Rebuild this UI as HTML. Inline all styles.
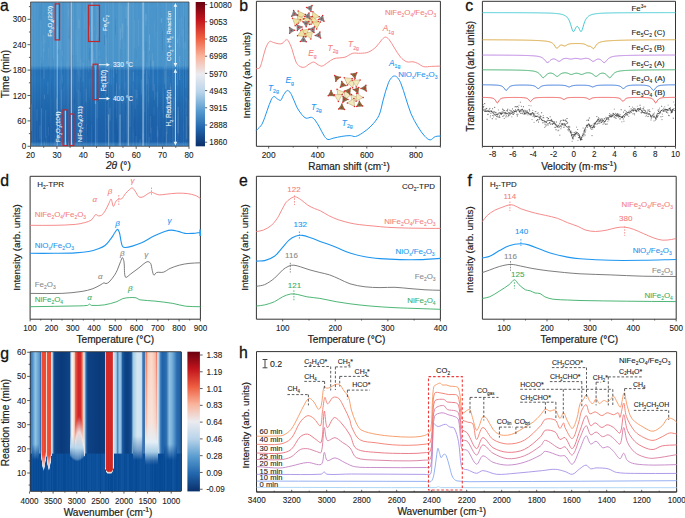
<!DOCTYPE html>
<html><head><meta charset="utf-8"><style>
html,body{margin:0;padding:0;background:#fff;overflow:hidden;}
svg{display:block;}
text{font-family:"Liberation Sans", sans-serif;}
</style></head><body>
<svg width="685" height="518" viewBox="0 0 685 518">
<rect width="685" height="518" fill="#fff"/>
<defs><clipPath id="clipA"><rect x="30.5" y="2.0" width="158.5" height="144.3"/></clipPath><linearGradient id="hmA" x1="0" y1="0" x2="0" y2="1"><stop offset="0" stop-color="#4a95cb"/><stop offset="0.44" stop-color="#4893ca"/><stop offset="0.458" stop-color="#3483c3"/><stop offset="0.475" stop-color="#2470b6"/><stop offset="0.55" stop-color="#2472b8"/><stop offset="0.70" stop-color="#1f68ae"/><stop offset="0.85" stop-color="#1c61a9"/><stop offset="0.968" stop-color="#1c60a9"/><stop offset="0.985" stop-color="#3a80c0"/><stop offset="1" stop-color="#3a80c0"/></linearGradient></defs>
<g clip-path="url(#clipA)">
<rect x="30.50" y="2.00" width="158.50" height="144.30" fill="url(#hmA)" stroke="none" stroke-width="1"/>
<line x1="68.22" y1="2.00" x2="68.22" y2="146.30" stroke="#ffffff" stroke-width="0.6219730999288475" opacity="0.06"/>
<line x1="126.22" y1="2.00" x2="126.22" y2="146.30" stroke="#ffffff" stroke-width="0.43931731554388787" opacity="0.06"/>
<line x1="32.59" y1="2.00" x2="32.59" y2="146.30" stroke="#ffffff" stroke-width="0.5556124085968046" opacity="0.07"/>
<line x1="67.64" y1="2.00" x2="67.64" y2="146.30" stroke="#ffffff" stroke-width="0.6821581045134688" opacity="0.08"/>
<line x1="163.08" y1="2.00" x2="163.08" y2="146.30" stroke="#ffffff" stroke-width="0.7834408843264972" opacity="0.05"/>
<line x1="54.37" y1="2.00" x2="54.37" y2="146.30" stroke="#ffffff" stroke-width="0.9208271842859781" opacity="0.06"/>
<line x1="113.42" y1="2.00" x2="113.42" y2="146.30" stroke="#ffffff" stroke-width="0.8028468852217556" opacity="0.07"/>
<line x1="40.65" y1="2.00" x2="40.65" y2="146.30" stroke="#ffffff" stroke-width="0.7546597497587906" opacity="0.07"/>
<line x1="78.25" y1="2.00" x2="78.25" y2="146.30" stroke="#ffffff" stroke-width="0.9193163421873674" opacity="0.03"/>
<line x1="105.43" y1="2.00" x2="105.43" y2="146.30" stroke="#ffffff" stroke-width="0.927287680153289" opacity="0.07"/>
<line x1="143.69" y1="2.00" x2="143.69" y2="146.30" stroke="#ffffff" stroke-width="0.6369780424004463" opacity="0.08"/>
<line x1="157.44" y1="2.00" x2="157.44" y2="146.30" stroke="#ffffff" stroke-width="0.9613520330227127" opacity="0.05"/>
<line x1="169.80" y1="2.00" x2="169.80" y2="146.30" stroke="#ffffff" stroke-width="0.48158131612040134" opacity="0.03"/>
<line x1="64.89" y1="2.00" x2="64.89" y2="146.30" stroke="#ffffff" stroke-width="0.6616971199764576" opacity="0.08"/>
<line x1="129.82" y1="2.00" x2="129.82" y2="146.30" stroke="#ffffff" stroke-width="0.7043457902974357" opacity="0.05"/>
<line x1="91.66" y1="2.00" x2="91.66" y2="146.30" stroke="#ffffff" stroke-width="0.7510444644432182" opacity="0.05"/>
<line x1="123.10" y1="2.00" x2="123.10" y2="146.30" stroke="#ffffff" stroke-width="0.8091892819809801" opacity="0.08"/>
<line x1="177.74" y1="2.00" x2="177.74" y2="146.30" stroke="#ffffff" stroke-width="0.9945937869212891" opacity="0.07"/>
<line x1="136.90" y1="2.00" x2="136.90" y2="146.30" stroke="#ffffff" stroke-width="0.9163825198697609" opacity="0.04"/>
<line x1="183.39" y1="2.00" x2="183.39" y2="146.30" stroke="#ffffff" stroke-width="0.741464502084594" opacity="0.08"/>
<line x1="143.64" y1="2.00" x2="143.64" y2="146.30" stroke="#ffffff" stroke-width="0.8989647581640126" opacity="0.04"/>
<line x1="121.40" y1="2.00" x2="121.40" y2="146.30" stroke="#ffffff" stroke-width="0.43807634628713765" opacity="0.04"/>
<line x1="165.85" y1="2.00" x2="165.85" y2="146.30" stroke="#ffffff" stroke-width="0.45311085586583705" opacity="0.08"/>
<line x1="157.39" y1="2.00" x2="157.39" y2="146.30" stroke="#ffffff" stroke-width="0.4904592246716858" opacity="0.05"/>
<line x1="77.08" y1="2.00" x2="77.08" y2="146.30" stroke="#ffffff" stroke-width="0.9236602147769208" opacity="0.07"/>
<line x1="37.50" y1="2.00" x2="37.50" y2="146.30" stroke="#ffffff" stroke-width="0.42696414609762173" opacity="0.06"/>
<line x1="144.37" y1="2.00" x2="144.37" y2="146.30" stroke="#ffffff" stroke-width="0.9285431843484149" opacity="0.05"/>
<line x1="185.93" y1="2.00" x2="185.93" y2="146.30" stroke="#ffffff" stroke-width="0.999105367225466" opacity="0.06"/>
<line x1="79.58" y1="2.00" x2="79.58" y2="146.30" stroke="#ffffff" stroke-width="0.7598576852779604" opacity="0.03"/>
<line x1="35.47" y1="2.00" x2="35.47" y2="146.30" stroke="#ffffff" stroke-width="0.6447616813701945" opacity="0.04"/>
<line x1="127.26" y1="2.00" x2="127.26" y2="146.30" stroke="#ffffff" stroke-width="0.42546149483272255" opacity="0.04"/>
<line x1="168.04" y1="2.00" x2="168.04" y2="146.30" stroke="#ffffff" stroke-width="0.9751956558450731" opacity="0.05"/>
<line x1="172.62" y1="2.00" x2="172.62" y2="146.30" stroke="#ffffff" stroke-width="0.6762457797075428" opacity="0.05"/>
<line x1="112.93" y1="2.00" x2="112.93" y2="146.30" stroke="#ffffff" stroke-width="0.7573901430411822" opacity="0.06"/>
<line x1="119.14" y1="2.00" x2="119.14" y2="146.30" stroke="#ffffff" stroke-width="0.964372753254378" opacity="0.06"/>
<line x1="110.86" y1="2.00" x2="110.86" y2="146.30" stroke="#ffffff" stroke-width="0.8321867512864831" opacity="0.05"/>
<line x1="68.17" y1="2.00" x2="68.17" y2="146.30" stroke="#ffffff" stroke-width="0.9866783898691812" opacity="0.05"/>
<line x1="113.10" y1="2.00" x2="113.10" y2="146.30" stroke="#ffffff" stroke-width="0.40687449181853147" opacity="0.06"/>
<line x1="96.31" y1="2.00" x2="96.31" y2="146.30" stroke="#ffffff" stroke-width="0.4120317341827596" opacity="0.06"/>
<line x1="128.10" y1="2.00" x2="128.10" y2="146.30" stroke="#ffffff" stroke-width="0.43604830637663383" opacity="0.06"/>
<line x1="129.93" y1="2.00" x2="129.93" y2="146.30" stroke="#ffffff" stroke-width="0.8075688388228652" opacity="0.05"/>
<line x1="86.38" y1="2.00" x2="86.38" y2="146.30" stroke="#ffffff" stroke-width="0.8428205735512206" opacity="0.07"/>
<line x1="34.02" y1="2.00" x2="34.02" y2="146.30" stroke="#ffffff" stroke-width="0.8056121856924261" opacity="0.03"/>
<line x1="183.18" y1="2.00" x2="183.18" y2="146.30" stroke="#ffffff" stroke-width="0.6737872777818276" opacity="0.04"/>
<line x1="124.44" y1="2.00" x2="124.44" y2="146.30" stroke="#ffffff" stroke-width="0.6183730536039742" opacity="0.05"/>
<line x1="80.06" y1="2.00" x2="80.06" y2="146.30" stroke="#ffffff" stroke-width="0.7573729035145219" opacity="0.05"/>
<line x1="78.11" y1="2.00" x2="78.11" y2="146.30" stroke="#ffffff" stroke-width="0.8633640474664726" opacity="0.05"/>
<line x1="34.77" y1="2.00" x2="34.77" y2="146.30" stroke="#ffffff" stroke-width="0.8411039090071057" opacity="0.06"/>
<line x1="79.64" y1="2.00" x2="79.64" y2="146.30" stroke="#ffffff" stroke-width="0.8822846022369479" opacity="0.04"/>
<line x1="68.33" y1="2.00" x2="68.33" y2="146.30" stroke="#ffffff" stroke-width="0.6611405923196926" opacity="0.04"/>
<line x1="141.14" y1="2.00" x2="141.14" y2="146.30" stroke="#ffffff" stroke-width="0.5931795907727587" opacity="0.04"/>
<line x1="83.40" y1="2.00" x2="83.40" y2="146.30" stroke="#ffffff" stroke-width="0.6630584395368322" opacity="0.07"/>
<line x1="166.10" y1="2.00" x2="166.10" y2="146.30" stroke="#ffffff" stroke-width="0.6020261410269284" opacity="0.04"/>
<line x1="133.56" y1="2.00" x2="133.56" y2="146.30" stroke="#ffffff" stroke-width="0.6706613105711335" opacity="0.07"/>
<line x1="66.17" y1="2.00" x2="66.17" y2="146.30" stroke="#ffffff" stroke-width="0.7177765769850359" opacity="0.04"/>
<line x1="60.74" y1="2.00" x2="60.74" y2="146.30" stroke="#ffffff" stroke-width="0.9030858274169353" opacity="0.07"/>
<line x1="59.60" y1="2.00" x2="59.60" y2="146.30" stroke="#ffffff" stroke-width="0.8843358509001722" opacity="0.04"/>
<line x1="132.25" y1="2.00" x2="132.25" y2="146.30" stroke="#ffffff" stroke-width="0.607169682932559" opacity="0.07"/>
<line x1="51.06" y1="2.00" x2="51.06" y2="146.30" stroke="#ffffff" stroke-width="0.8763171546904989" opacity="0.04"/>
<line x1="73.48" y1="2.00" x2="73.48" y2="146.30" stroke="#ffffff" stroke-width="0.6501434175240938" opacity="0.05"/>
<line x1="97.03" y1="2.00" x2="97.03" y2="146.30" stroke="#ffffff" stroke-width="0.9523674297925784" opacity="0.05"/>
<line x1="55.23" y1="2.00" x2="55.23" y2="146.30" stroke="#ffffff" stroke-width="0.9659607015514653" opacity="0.03"/>
<line x1="169.98" y1="2.00" x2="169.98" y2="146.30" stroke="#ffffff" stroke-width="0.6606113876053907" opacity="0.08"/>
<line x1="181.10" y1="2.00" x2="181.10" y2="146.30" stroke="#ffffff" stroke-width="0.5332544417633928" opacity="0.08"/>
<line x1="148.67" y1="2.00" x2="148.67" y2="146.30" stroke="#ffffff" stroke-width="0.7977923203170945" opacity="0.07"/>
<line x1="112.76" y1="2.00" x2="112.76" y2="146.30" stroke="#ffffff" stroke-width="0.6046412284211998" opacity="0.04"/>
<line x1="66.55" y1="2.00" x2="66.55" y2="146.30" stroke="#ffffff" stroke-width="0.7532066314114517" opacity="0.03"/>
<line x1="75.99" y1="2.00" x2="75.99" y2="146.30" stroke="#ffffff" stroke-width="0.4270460860512159" opacity="0.07"/>
<line x1="173.72" y1="2.00" x2="173.72" y2="146.30" stroke="#ffffff" stroke-width="0.9543128797343452" opacity="0.06"/>
<line x1="172.61" y1="2.00" x2="172.61" y2="146.30" stroke="#ffffff" stroke-width="0.7461720424116709" opacity="0.07"/>
<line x1="32.58" y1="2.00" x2="32.58" y2="146.30" stroke="#ffffff" stroke-width="0.5030929543220423" opacity="0.07"/>
<line x1="78.03" y1="2.00" x2="78.03" y2="146.30" stroke="#ffffff" stroke-width="0.7149784812494949" opacity="0.06"/>
<line x1="96.08" y1="2.00" x2="96.08" y2="146.30" stroke="#ffffff" stroke-width="0.7672983457755476" opacity="0.08"/>
<line x1="84.60" y1="2.00" x2="84.60" y2="146.30" stroke="#ffffff" stroke-width="0.9169988298758002" opacity="0.04"/>
<line x1="106.14" y1="2.00" x2="106.14" y2="146.30" stroke="#ffffff" stroke-width="0.6111049781179569" opacity="0.07"/>
<line x1="61.78" y1="2.00" x2="61.78" y2="146.30" stroke="#ffffff" stroke-width="0.8900865083301537" opacity="0.06"/>
<line x1="57.65" y1="2.00" x2="57.65" y2="146.30" stroke="#ffffff" stroke-width="0.9530599067641792" opacity="0.07"/>
<line x1="158.26" y1="2.00" x2="158.26" y2="146.30" stroke="#ffffff" stroke-width="0.4045028320886255" opacity="0.07"/>
<line x1="130.13" y1="2.00" x2="130.13" y2="146.30" stroke="#ffffff" stroke-width="0.4299591113171977" opacity="0.07"/>
<line x1="73.52" y1="2.00" x2="73.52" y2="146.30" stroke="#ffffff" stroke-width="0.7163597070560099" opacity="0.04"/>
<line x1="97.54" y1="2.00" x2="97.54" y2="146.30" stroke="#ffffff" stroke-width="0.8658985964336665" opacity="0.05"/>
<line x1="30.79" y1="2.00" x2="30.79" y2="146.30" stroke="#ffffff" stroke-width="0.47611797174595977" opacity="0.03"/>
<line x1="50.25" y1="2.00" x2="50.25" y2="146.30" stroke="#ffffff" stroke-width="0.9848155187055964" opacity="0.03"/>
<line x1="165.93" y1="2.00" x2="165.93" y2="146.30" stroke="#ffffff" stroke-width="0.7012720040529588" opacity="0.03"/>
<line x1="80.57" y1="2.00" x2="80.57" y2="146.30" stroke="#ffffff" stroke-width="0.6107737349828948" opacity="0.05"/>
<line x1="133.04" y1="2.00" x2="133.04" y2="146.30" stroke="#ffffff" stroke-width="0.6165007513683906" opacity="0.06"/>
<line x1="60.79" y1="2.00" x2="60.79" y2="146.30" stroke="#ffffff" stroke-width="0.4742530143005107" opacity="0.05"/>
<line x1="118.55" y1="2.00" x2="118.55" y2="146.30" stroke="#ffffff" stroke-width="0.6281428372649522" opacity="0.07"/>
<line x1="43.16" y1="2.00" x2="43.16" y2="146.30" stroke="#ffffff" stroke-width="0.6239647453761898" opacity="0.04"/>
<line x1="126.30" y1="2.00" x2="126.30" y2="146.30" stroke="#ffffff" stroke-width="0.6281588091105659" opacity="0.07"/>
<line x1="157.48" y1="91.89" x2="157.48" y2="107.11" stroke="#ffffff" stroke-width="0.9217283963335243" opacity="0.09"/>
<line x1="97.15" y1="102.16" x2="97.15" y2="118.14" stroke="#ffffff" stroke-width="0.9171014886643085" opacity="0.08"/>
<line x1="41.85" y1="63.31" x2="41.85" y2="78.38" stroke="#0a3a78" stroke-width="0.7245414181149517" opacity="0.15"/>
<line x1="172.81" y1="116.13" x2="172.81" y2="126.95" stroke="#ffffff" stroke-width="0.9879330235638953" opacity="0.10"/>
<line x1="135.47" y1="130.04" x2="135.47" y2="146.30" stroke="#0a3a78" stroke-width="0.8383063727556377" opacity="0.12"/>
<line x1="46.85" y1="86.81" x2="46.85" y2="90.94" stroke="#0a3a78" stroke-width="0.5265877166116524" opacity="0.07"/>
<line x1="45.05" y1="16.33" x2="45.05" y2="43.22" stroke="#ffffff" stroke-width="1.0049213447524634" opacity="0.07"/>
<line x1="49.72" y1="123.78" x2="49.72" y2="145.29" stroke="#0a3a78" stroke-width="0.8474458514126335" opacity="0.14"/>
<line x1="157.10" y1="7.23" x2="157.10" y2="31.19" stroke="#0a3a78" stroke-width="0.5640462184896873" opacity="0.11"/>
<line x1="149.21" y1="136.86" x2="149.21" y2="142.45" stroke="#ffffff" stroke-width="0.996835598695298" opacity="0.09"/>
<line x1="68.88" y1="27.94" x2="68.88" y2="38.44" stroke="#0a3a78" stroke-width="0.7362379696349622" opacity="0.12"/>
<line x1="88.74" y1="59.24" x2="88.74" y2="72.34" stroke="#ffffff" stroke-width="0.8001857663777355" opacity="0.10"/>
<line x1="184.73" y1="61.57" x2="184.73" y2="85.00" stroke="#0a3a78" stroke-width="0.953669613211565" opacity="0.07"/>
<line x1="137.31" y1="76.62" x2="137.31" y2="93.19" stroke="#0a3a78" stroke-width="0.5895964391347023" opacity="0.12"/>
<line x1="45.69" y1="109.96" x2="45.69" y2="137.79" stroke="#ffffff" stroke-width="0.9313463845466312" opacity="0.11"/>
<line x1="60.00" y1="40.58" x2="60.00" y2="49.76" stroke="#ffffff" stroke-width="0.6393831052697792" opacity="0.11"/>
<line x1="140.04" y1="139.58" x2="140.04" y2="146.30" stroke="#ffffff" stroke-width="1.0121836837436584" opacity="0.13"/>
<line x1="123.17" y1="40.55" x2="123.17" y2="50.21" stroke="#ffffff" stroke-width="0.7296500617293605" opacity="0.05"/>
<line x1="57.80" y1="54.02" x2="57.80" y2="66.39" stroke="#ffffff" stroke-width="1.0947307588050594" opacity="0.14"/>
<line x1="106.51" y1="88.44" x2="106.51" y2="104.61" stroke="#0a3a78" stroke-width="0.8342727483560304" opacity="0.14"/>
<line x1="106.79" y1="106.00" x2="106.79" y2="132.27" stroke="#0a3a78" stroke-width="1.076155322995095" opacity="0.09"/>
<line x1="104.58" y1="35.13" x2="104.58" y2="45.24" stroke="#0a3a78" stroke-width="1.0752288172425561" opacity="0.13"/>
<line x1="165.84" y1="36.93" x2="165.84" y2="45.86" stroke="#ffffff" stroke-width="0.9228405893227891" opacity="0.08"/>
<line x1="166.59" y1="131.84" x2="166.59" y2="142.47" stroke="#ffffff" stroke-width="0.7539771739734327" opacity="0.15"/>
<line x1="146.04" y1="14.40" x2="146.04" y2="20.81" stroke="#ffffff" stroke-width="0.7139966508106452" opacity="0.14"/>
<line x1="122.48" y1="99.48" x2="122.48" y2="103.65" stroke="#ffffff" stroke-width="0.7915403175859137" opacity="0.09"/>
<line x1="63.80" y1="86.43" x2="63.80" y2="115.27" stroke="#ffffff" stroke-width="0.5715060199052876" opacity="0.09"/>
<line x1="74.05" y1="98.02" x2="74.05" y2="104.95" stroke="#0a3a78" stroke-width="0.5581433915839576" opacity="0.15"/>
<line x1="179.69" y1="56.00" x2="179.69" y2="80.08" stroke="#ffffff" stroke-width="0.905532316878289" opacity="0.13"/>
<line x1="134.17" y1="118.31" x2="134.17" y2="129.22" stroke="#0a3a78" stroke-width="0.9036950300606221" opacity="0.13"/>
<line x1="115.48" y1="18.35" x2="115.48" y2="35.19" stroke="#0a3a78" stroke-width="0.907126304780963" opacity="0.09"/>
<line x1="120.27" y1="28.26" x2="120.27" y2="49.05" stroke="#ffffff" stroke-width="1.0339515503644163" opacity="0.12"/>
<line x1="134.38" y1="19.77" x2="134.38" y2="48.00" stroke="#ffffff" stroke-width="0.932286421878288" opacity="0.07"/>
<line x1="125.19" y1="82.08" x2="125.19" y2="102.91" stroke="#ffffff" stroke-width="0.6058287368959209" opacity="0.10"/>
<line x1="41.37" y1="105.30" x2="41.37" y2="128.91" stroke="#0a3a78" stroke-width="0.7155334074788748" opacity="0.11"/>
<line x1="72.64" y1="57.32" x2="72.64" y2="84.01" stroke="#ffffff" stroke-width="0.6483177752589256" opacity="0.05"/>
<line x1="152.37" y1="53.10" x2="152.37" y2="65.75" stroke="#ffffff" stroke-width="0.9630262288565706" opacity="0.09"/>
<line x1="86.43" y1="124.21" x2="86.43" y2="131.12" stroke="#ffffff" stroke-width="0.567610865374022" opacity="0.08"/>
<line x1="153.97" y1="106.95" x2="153.97" y2="115.75" stroke="#ffffff" stroke-width="0.9459904703103814" opacity="0.07"/>
<line x1="159.80" y1="110.04" x2="159.80" y2="129.43" stroke="#ffffff" stroke-width="0.6161830688031907" opacity="0.07"/>
<line x1="114.12" y1="84.02" x2="114.12" y2="93.27" stroke="#0a3a78" stroke-width="0.5180524729592971" opacity="0.08"/>
<line x1="157.80" y1="130.60" x2="157.80" y2="146.30" stroke="#ffffff" stroke-width="0.8498340143692718" opacity="0.09"/>
<line x1="130.93" y1="142.98" x2="130.93" y2="146.30" stroke="#0a3a78" stroke-width="0.7904433028258705" opacity="0.08"/>
<line x1="125.82" y1="106.88" x2="125.82" y2="110.94" stroke="#0a3a78" stroke-width="0.7951235257377083" opacity="0.13"/>
<line x1="113.50" y1="68.45" x2="113.50" y2="77.48" stroke="#ffffff" stroke-width="0.8002682250412463" opacity="0.11"/>
<line x1="132.88" y1="66.10" x2="132.88" y2="84.82" stroke="#0a3a78" stroke-width="0.5813526710893523" opacity="0.16"/>
<line x1="156.09" y1="91.94" x2="156.09" y2="97.25" stroke="#ffffff" stroke-width="0.5467017896410743" opacity="0.09"/>
<line x1="115.91" y1="136.17" x2="115.91" y2="146.30" stroke="#0a3a78" stroke-width="0.5806140024088983" opacity="0.15"/>
<line x1="166.54" y1="88.74" x2="166.54" y2="116.84" stroke="#0a3a78" stroke-width="0.7061557203435428" opacity="0.13"/>
<line x1="158.36" y1="136.45" x2="158.36" y2="146.30" stroke="#0a3a78" stroke-width="0.7910010560563658" opacity="0.10"/>
<line x1="47.80" y1="8.16" x2="47.80" y2="14.19" stroke="#ffffff" stroke-width="0.7982840231356596" opacity="0.07"/>
<line x1="141.34" y1="79.55" x2="141.34" y2="94.53" stroke="#ffffff" stroke-width="0.7786431854557168" opacity="0.12"/>
<line x1="150.50" y1="59.93" x2="150.50" y2="68.63" stroke="#0a3a78" stroke-width="0.7201596625840128" opacity="0.15"/>
<line x1="89.30" y1="78.38" x2="89.30" y2="97.89" stroke="#ffffff" stroke-width="0.6253970366359055" opacity="0.07"/>
<line x1="154.63" y1="22.70" x2="154.63" y2="38.66" stroke="#ffffff" stroke-width="0.602458348503092" opacity="0.07"/>
<line x1="94.49" y1="26.28" x2="94.49" y2="31.00" stroke="#ffffff" stroke-width="0.7941650875723412" opacity="0.06"/>
<line x1="39.97" y1="5.24" x2="39.97" y2="20.89" stroke="#0a3a78" stroke-width="0.5306696574654072" opacity="0.09"/>
<line x1="94.42" y1="59.23" x2="94.42" y2="63.92" stroke="#ffffff" stroke-width="0.5565625148523656" opacity="0.16"/>
<line x1="105.72" y1="25.77" x2="105.72" y2="45.96" stroke="#ffffff" stroke-width="0.5311347282266377" opacity="0.09"/>
<line x1="145.84" y1="41.70" x2="145.84" y2="66.18" stroke="#0a3a78" stroke-width="0.680328892865344" opacity="0.10"/>
<line x1="70.12" y1="40.36" x2="70.12" y2="65.54" stroke="#ffffff" stroke-width="0.5562295260580808" opacity="0.12"/>
<line x1="138.66" y1="141.87" x2="138.66" y2="146.30" stroke="#ffffff" stroke-width="0.5543206603187683" opacity="0.05"/>
<line x1="57.50" y1="7.28" x2="57.50" y2="12.68" stroke="#0a3a78" stroke-width="0.6204131107026247" opacity="0.12"/>
<line x1="184.85" y1="70.81" x2="184.85" y2="95.71" stroke="#0a3a78" stroke-width="0.5205270858808434" opacity="0.15"/>
<line x1="78.80" y1="89.58" x2="78.80" y2="118.19" stroke="#ffffff" stroke-width="1.0099433723676048" opacity="0.06"/>
<line x1="48.68" y1="58.26" x2="48.68" y2="70.95" stroke="#0a3a78" stroke-width="0.6047785990124926" opacity="0.12"/>
<line x1="147.76" y1="107.91" x2="147.76" y2="133.64" stroke="#0a3a78" stroke-width="0.7176952710823304" opacity="0.11"/>
<line x1="96.23" y1="35.10" x2="96.23" y2="59.37" stroke="#ffffff" stroke-width="0.6018458880799276" opacity="0.10"/>
<line x1="144.72" y1="89.40" x2="144.72" y2="111.88" stroke="#ffffff" stroke-width="0.5923336558267884" opacity="0.09"/>
<line x1="143.15" y1="5.31" x2="143.15" y2="21.45" stroke="#0a3a78" stroke-width="0.5582524537447934" opacity="0.13"/>
<line x1="68.09" y1="123.74" x2="68.09" y2="144.44" stroke="#0a3a78" stroke-width="0.7699426001300591" opacity="0.15"/>
<line x1="172.66" y1="107.75" x2="172.66" y2="120.43" stroke="#ffffff" stroke-width="0.7395998170385313" opacity="0.09"/>
<line x1="181.98" y1="17.15" x2="181.98" y2="35.94" stroke="#ffffff" stroke-width="0.8894833618867347" opacity="0.06"/>
<line x1="68.65" y1="9.04" x2="68.65" y2="17.01" stroke="#ffffff" stroke-width="0.5069946159963707" opacity="0.12"/>
<line x1="66.94" y1="141.57" x2="66.94" y2="146.30" stroke="#ffffff" stroke-width="0.9686889078044905" opacity="0.11"/>
<line x1="126.29" y1="115.80" x2="126.29" y2="133.72" stroke="#ffffff" stroke-width="0.5474768476545129" opacity="0.07"/>
<line x1="161.34" y1="18.24" x2="161.34" y2="22.86" stroke="#ffffff" stroke-width="1.0359702896551877" opacity="0.16"/>
<line x1="44.09" y1="69.13" x2="44.09" y2="78.92" stroke="#ffffff" stroke-width="0.8850832707535485" opacity="0.14"/>
<line x1="151.18" y1="127.79" x2="151.18" y2="140.78" stroke="#ffffff" stroke-width="0.566566671245693" opacity="0.12"/>
<line x1="162.91" y1="87.77" x2="162.91" y2="112.96" stroke="#ffffff" stroke-width="0.7785044698385026" opacity="0.07"/>
<line x1="145.89" y1="13.15" x2="145.89" y2="26.15" stroke="#ffffff" stroke-width="0.8316214770958414" opacity="0.10"/>
<line x1="147.05" y1="63.02" x2="147.05" y2="83.88" stroke="#ffffff" stroke-width="0.7103276632933326" opacity="0.12"/>
<line x1="188.33" y1="50.37" x2="188.33" y2="65.57" stroke="#ffffff" stroke-width="0.5991698268780239" opacity="0.06"/>
<line x1="178.05" y1="106.81" x2="178.05" y2="133.56" stroke="#ffffff" stroke-width="1.0588073255625123" opacity="0.16"/>
<line x1="115.41" y1="62.42" x2="115.41" y2="91.07" stroke="#0a3a78" stroke-width="0.790514425458211" opacity="0.15"/>
<line x1="153.09" y1="60.73" x2="153.09" y2="90.66" stroke="#ffffff" stroke-width="1.0605172262405707" opacity="0.15"/>
<line x1="59.76" y1="15.83" x2="59.76" y2="38.61" stroke="#ffffff" stroke-width="0.8835507503394663" opacity="0.08"/>
<line x1="36.93" y1="109.53" x2="36.93" y2="120.71" stroke="#ffffff" stroke-width="0.9452534341666303" opacity="0.10"/>
<line x1="148.87" y1="43.46" x2="148.87" y2="50.15" stroke="#ffffff" stroke-width="0.5465345794213158" opacity="0.08"/>
<line x1="54.78" y1="112.06" x2="54.78" y2="134.27" stroke="#0a3a78" stroke-width="1.025686277304238" opacity="0.16"/>
<line x1="89.55" y1="25.28" x2="89.55" y2="37.39" stroke="#ffffff" stroke-width="0.8252443576869968" opacity="0.10"/>
<line x1="87.51" y1="125.04" x2="87.51" y2="136.46" stroke="#0a3a78" stroke-width="0.9842828102299912" opacity="0.10"/>
<line x1="77.64" y1="37.01" x2="77.64" y2="61.98" stroke="#ffffff" stroke-width="0.8185179270019229" opacity="0.05"/>
<line x1="115.43" y1="25.91" x2="115.43" y2="31.22" stroke="#0a3a78" stroke-width="0.7794486300121009" opacity="0.07"/>
<line x1="185.72" y1="115.35" x2="185.72" y2="144.81" stroke="#ffffff" stroke-width="0.5079127860522812" opacity="0.05"/>
<line x1="99.03" y1="50.81" x2="99.03" y2="56.15" stroke="#ffffff" stroke-width="0.686969116010018" opacity="0.11"/>
<line x1="69.69" y1="117.75" x2="69.69" y2="132.62" stroke="#ffffff" stroke-width="0.7577378453492305" opacity="0.08"/>
<line x1="129.96" y1="99.44" x2="129.96" y2="127.16" stroke="#ffffff" stroke-width="0.5813992578252779" opacity="0.14"/>
<line x1="150.69" y1="115.93" x2="150.69" y2="133.16" stroke="#ffffff" stroke-width="0.6677560136465057" opacity="0.14"/>
<line x1="57.24" y1="4.46" x2="57.24" y2="25.18" stroke="#0a3a78" stroke-width="0.7804921620538952" opacity="0.15"/>
<line x1="135.98" y1="136.00" x2="135.98" y2="146.30" stroke="#ffffff" stroke-width="0.8110457284695676" opacity="0.12"/>
<line x1="57.57" y1="28.40" x2="57.57" y2="50.18" stroke="#ffffff" stroke-width="0.7448873718418504" opacity="0.16"/>
<line x1="86.28" y1="67.64" x2="86.28" y2="92.52" stroke="#0a3a78" stroke-width="0.5931829388911511" opacity="0.10"/>
<line x1="80.41" y1="77.32" x2="80.41" y2="92.03" stroke="#0a3a78" stroke-width="1.0587955277510122" opacity="0.14"/>
<line x1="127.58" y1="6.42" x2="127.58" y2="25.35" stroke="#ffffff" stroke-width="0.6679096987196218" opacity="0.11"/>
<line x1="142.94" y1="133.55" x2="142.94" y2="140.21" stroke="#ffffff" stroke-width="0.8088757894352209" opacity="0.12"/>
<line x1="172.47" y1="140.57" x2="172.47" y2="146.30" stroke="#0a3a78" stroke-width="0.6086776852035753" opacity="0.07"/>
<line x1="91.25" y1="121.51" x2="91.25" y2="133.73" stroke="#0a3a78" stroke-width="1.0662822826955063" opacity="0.08"/>
<line x1="80.81" y1="58.64" x2="80.81" y2="69.97" stroke="#ffffff" stroke-width="1.088102632311145" opacity="0.06"/>
<line x1="43.06" y1="35.15" x2="43.06" y2="44.35" stroke="#ffffff" stroke-width="0.9458114249957484" opacity="0.06"/>
<line x1="163.37" y1="93.07" x2="163.37" y2="118.33" stroke="#ffffff" stroke-width="1.0767021657171254" opacity="0.05"/>
<line x1="41.50" y1="40.62" x2="41.50" y2="57.17" stroke="#ffffff" stroke-width="0.5282822631656645" opacity="0.08"/>
<line x1="67.90" y1="140.18" x2="67.90" y2="146.30" stroke="#ffffff" stroke-width="1.0956899291306799" opacity="0.15"/>
<line x1="137.42" y1="95.35" x2="137.42" y2="103.05" stroke="#0a3a78" stroke-width="0.6056912272169794" opacity="0.06"/>
<line x1="60.55" y1="120.71" x2="60.55" y2="146.30" stroke="#0a3a78" stroke-width="0.8208300182861232" opacity="0.06"/>
<line x1="91.11" y1="17.45" x2="91.11" y2="31.59" stroke="#ffffff" stroke-width="0.5787880083103238" opacity="0.16"/>
<line x1="53.52" y1="20.31" x2="53.52" y2="33.48" stroke="#ffffff" stroke-width="0.6151866123412161" opacity="0.15"/>
<line x1="179.38" y1="145.85" x2="179.38" y2="146.30" stroke="#ffffff" stroke-width="1.0705025668218893" opacity="0.08"/>
<line x1="107.38" y1="103.50" x2="107.38" y2="115.65" stroke="#ffffff" stroke-width="0.9489055910143028" opacity="0.05"/>
<line x1="154.44" y1="84.09" x2="154.44" y2="100.15" stroke="#ffffff" stroke-width="0.8206615542899784" opacity="0.11"/>
<line x1="162.53" y1="30.93" x2="162.53" y2="50.38" stroke="#0a3a78" stroke-width="0.60767422005863" opacity="0.15"/>
<line x1="183.21" y1="123.22" x2="183.21" y2="131.58" stroke="#ffffff" stroke-width="0.5318384361427431" opacity="0.08"/>
<line x1="185.57" y1="61.06" x2="185.57" y2="87.75" stroke="#ffffff" stroke-width="1.0218672608845343" opacity="0.06"/>
<line x1="156.35" y1="145.08" x2="156.35" y2="146.30" stroke="#0a3a78" stroke-width="0.5555172493908617" opacity="0.11"/>
<line x1="116.15" y1="65.66" x2="116.15" y2="73.47" stroke="#ffffff" stroke-width="0.8038326959178592" opacity="0.12"/>
<line x1="89.70" y1="47.91" x2="89.70" y2="61.23" stroke="#0a3a78" stroke-width="1.0616906673193611" opacity="0.12"/>
<line x1="167.16" y1="122.52" x2="167.16" y2="133.98" stroke="#ffffff" stroke-width="0.5739075076672563" opacity="0.16"/>
<line x1="109.88" y1="107.66" x2="109.88" y2="120.53" stroke="#ffffff" stroke-width="1.0801593971261125" opacity="0.12"/>
<line x1="102.29" y1="70.96" x2="102.29" y2="88.77" stroke="#0a3a78" stroke-width="0.817087631767113" opacity="0.15"/>
<line x1="100.49" y1="91.15" x2="100.49" y2="96.95" stroke="#0a3a78" stroke-width="0.9664455635452633" opacity="0.10"/>
<line x1="39.91" y1="125.30" x2="39.91" y2="139.29" stroke="#ffffff" stroke-width="0.6287901731819565" opacity="0.16"/>
<line x1="117.47" y1="129.54" x2="117.47" y2="144.75" stroke="#0a3a78" stroke-width="0.7169119328791393" opacity="0.15"/>
<line x1="78.15" y1="74.92" x2="78.15" y2="89.29" stroke="#0a3a78" stroke-width="1.0250772302041344" opacity="0.09"/>
<line x1="123.13" y1="23.10" x2="123.13" y2="32.81" stroke="#ffffff" stroke-width="0.5837109158271231" opacity="0.09"/>
<line x1="43.43" y1="48.27" x2="43.43" y2="59.63" stroke="#ffffff" stroke-width="1.052789305063294" opacity="0.05"/>
<line x1="115.20" y1="108.41" x2="115.20" y2="133.95" stroke="#0a3a78" stroke-width="0.7648387581373428" opacity="0.14"/>
<line x1="138.67" y1="19.42" x2="138.67" y2="46.30" stroke="#ffffff" stroke-width="1.0341792090535251" opacity="0.09"/>
<line x1="75.95" y1="29.40" x2="75.95" y2="54.82" stroke="#ffffff" stroke-width="0.5168298503576757" opacity="0.12"/>
<line x1="86.18" y1="3.08" x2="86.18" y2="28.72" stroke="#ffffff" stroke-width="0.7332646647258722" opacity="0.07"/>
<line x1="111.61" y1="64.39" x2="111.61" y2="84.73" stroke="#ffffff" stroke-width="0.5582230536955963" opacity="0.12"/>
<line x1="185.69" y1="101.74" x2="185.69" y2="107.91" stroke="#0a3a78" stroke-width="1.0950667082717567" opacity="0.10"/>
<line x1="40.96" y1="3.37" x2="40.96" y2="19.85" stroke="#0a3a78" stroke-width="0.9958920538129361" opacity="0.10"/>
<line x1="83.05" y1="62.43" x2="83.05" y2="81.58" stroke="#ffffff" stroke-width="0.7351228399188344" opacity="0.15"/>
<line x1="44.52" y1="94.54" x2="44.52" y2="99.23" stroke="#ffffff" stroke-width="0.8443419657455055" opacity="0.15"/>
<line x1="44.02" y1="35.51" x2="44.02" y2="51.70" stroke="#ffffff" stroke-width="0.6707713991874238" opacity="0.14"/>
<line x1="186.16" y1="97.45" x2="186.16" y2="115.19" stroke="#ffffff" stroke-width="1.0399108316959167" opacity="0.07"/>
<line x1="51.56" y1="78.71" x2="51.56" y2="98.83" stroke="#0a3a78" stroke-width="1.0459740813882474" opacity="0.09"/>
<line x1="166.42" y1="108.49" x2="166.42" y2="117.79" stroke="#ffffff" stroke-width="0.6872540576590596" opacity="0.06"/>
<line x1="61.23" y1="127.74" x2="61.23" y2="137.36" stroke="#0a3a78" stroke-width="0.5718383145102255" opacity="0.14"/>
<line x1="175.30" y1="59.31" x2="175.30" y2="68.82" stroke="#ffffff" stroke-width="0.7992542665313052" opacity="0.07"/>
<line x1="91.42" y1="124.86" x2="91.42" y2="146.30" stroke="#ffffff" stroke-width="0.7335154692386632" opacity="0.06"/>
<line x1="58.65" y1="38.18" x2="58.65" y2="49.02" stroke="#ffffff" stroke-width="0.566692944799196" opacity="0.13"/>
<line x1="65.44" y1="65.81" x2="65.44" y2="84.49" stroke="#0a3a78" stroke-width="0.6292508683091429" opacity="0.08"/>
<line x1="136.82" y1="89.93" x2="136.82" y2="98.50" stroke="#ffffff" stroke-width="0.8237210560941811" opacity="0.13"/>
<line x1="125.25" y1="92.64" x2="125.25" y2="108.14" stroke="#0a3a78" stroke-width="1.0157795151641622" opacity="0.06"/>
<line x1="108.19" y1="85.55" x2="108.19" y2="96.53" stroke="#0a3a78" stroke-width="0.63313103939214" opacity="0.15"/>
<line x1="160.07" y1="144.30" x2="160.07" y2="146.30" stroke="#ffffff" stroke-width="0.60723326406542" opacity="0.16"/>
<line x1="144.13" y1="50.90" x2="144.13" y2="73.94" stroke="#ffffff" stroke-width="0.8168458423610677" opacity="0.11"/>
<line x1="165.36" y1="70.95" x2="165.36" y2="88.97" stroke="#ffffff" stroke-width="0.7956136094414767" opacity="0.14"/>
<line x1="122.88" y1="120.88" x2="122.88" y2="130.16" stroke="#0a3a78" stroke-width="0.8315510776320888" opacity="0.06"/>
<line x1="78.49" y1="130.74" x2="78.49" y2="146.30" stroke="#0a3a78" stroke-width="1.001577976004775" opacity="0.11"/>
<line x1="149.07" y1="44.03" x2="149.07" y2="48.31" stroke="#0a3a78" stroke-width="0.7104001257841313" opacity="0.12"/>
<line x1="106.38" y1="83.84" x2="106.38" y2="94.34" stroke="#ffffff" stroke-width="0.73131688704964" opacity="0.13"/>
<line x1="47.87" y1="81.93" x2="47.87" y2="94.25" stroke="#ffffff" stroke-width="0.7366363769712508" opacity="0.13"/>
<line x1="61.60" y1="60.91" x2="61.60" y2="79.90" stroke="#ffffff" stroke-width="0.7893608065032178" opacity="0.06"/>
<line x1="62.44" y1="74.89" x2="62.44" y2="83.23" stroke="#ffffff" stroke-width="1.0539123731278952" opacity="0.06"/>
<line x1="168.16" y1="76.39" x2="168.16" y2="90.72" stroke="#ffffff" stroke-width="0.6885465229918944" opacity="0.06"/>
<line x1="179.73" y1="18.91" x2="179.73" y2="47.56" stroke="#ffffff" stroke-width="0.6573623524725003" opacity="0.10"/>
<line x1="183.06" y1="28.85" x2="183.06" y2="47.71" stroke="#ffffff" stroke-width="0.6337746929241237" opacity="0.11"/>
<line x1="186.69" y1="116.11" x2="186.69" y2="139.18" stroke="#ffffff" stroke-width="0.9221267974469655" opacity="0.15"/>
<line x1="149.46" y1="34.52" x2="149.46" y2="50.40" stroke="#ffffff" stroke-width="0.9574091872956119" opacity="0.16"/>
<line x1="56.70" y1="98.27" x2="56.70" y2="109.28" stroke="#ffffff" stroke-width="1.022194590156308" opacity="0.11"/>
<line x1="148.56" y1="74.75" x2="148.56" y2="96.62" stroke="#0a3a78" stroke-width="0.6544755174011041" opacity="0.10"/>
<line x1="116.75" y1="86.51" x2="116.75" y2="100.60" stroke="#ffffff" stroke-width="0.8842821329897974" opacity="0.06"/>
<line x1="64.00" y1="111.40" x2="64.00" y2="128.53" stroke="#0a3a78" stroke-width="0.9364224596809325" opacity="0.15"/>
<line x1="89.54" y1="8.28" x2="89.54" y2="26.75" stroke="#0a3a78" stroke-width="0.6216042091756335" opacity="0.13"/>
<line x1="55.62" y1="143.48" x2="55.62" y2="146.30" stroke="#0a3a78" stroke-width="0.5896587421748013" opacity="0.10"/>
<line x1="116.73" y1="98.48" x2="116.73" y2="118.18" stroke="#ffffff" stroke-width="0.8748978618379648" opacity="0.07"/>
<line x1="170.67" y1="21.93" x2="170.67" y2="26.11" stroke="#0a3a78" stroke-width="0.7344681607545653" opacity="0.06"/>
<line x1="102.74" y1="145.44" x2="102.74" y2="146.30" stroke="#0a3a78" stroke-width="0.5011874231843451" opacity="0.08"/>
<line x1="75.12" y1="102.81" x2="75.12" y2="111.25" stroke="#ffffff" stroke-width="0.696688469503443" opacity="0.05"/>
<line x1="184.44" y1="16.66" x2="184.44" y2="41.52" stroke="#0a3a78" stroke-width="0.7670603674749547" opacity="0.09"/>
<line x1="136.29" y1="49.13" x2="136.29" y2="58.97" stroke="#0a3a78" stroke-width="0.7071836600372781" opacity="0.10"/>
<line x1="66.94" y1="62.01" x2="66.94" y2="68.50" stroke="#ffffff" stroke-width="0.827312374114073" opacity="0.08"/>
<line x1="125.20" y1="43.85" x2="125.20" y2="48.49" stroke="#ffffff" stroke-width="0.6178765034114787" opacity="0.05"/>
<line x1="120.68" y1="40.29" x2="120.68" y2="64.10" stroke="#0a3a78" stroke-width="0.9413160184433811" opacity="0.12"/>
<line x1="113.18" y1="63.55" x2="113.18" y2="75.57" stroke="#0a3a78" stroke-width="0.8000620955100703" opacity="0.06"/>
<line x1="46.31" y1="135.71" x2="46.31" y2="146.30" stroke="#ffffff" stroke-width="0.575673173256928" opacity="0.12"/>
<line x1="188.93" y1="26.27" x2="188.93" y2="39.79" stroke="#ffffff" stroke-width="0.7996961283750844" opacity="0.16"/>
<line x1="106.53" y1="37.73" x2="106.53" y2="65.77" stroke="#ffffff" stroke-width="0.7841301319964087" opacity="0.10"/>
<line x1="31.25" y1="104.24" x2="31.25" y2="130.83" stroke="#ffffff" stroke-width="0.9051350442901589" opacity="0.15"/>
<line x1="78.80" y1="70.20" x2="78.80" y2="82.01" stroke="#ffffff" stroke-width="0.8754362682843374" opacity="0.08"/>
<line x1="44.54" y1="141.13" x2="44.54" y2="146.27" stroke="#ffffff" stroke-width="0.550081697815068" opacity="0.16"/>
<line x1="148.55" y1="78.61" x2="148.55" y2="102.60" stroke="#ffffff" stroke-width="0.549608385392503" opacity="0.11"/>
<line x1="137.31" y1="75.95" x2="137.31" y2="104.96" stroke="#ffffff" stroke-width="0.9057520247986198" opacity="0.05"/>
<line x1="177.30" y1="62.85" x2="177.30" y2="85.34" stroke="#ffffff" stroke-width="0.7792497173400452" opacity="0.11"/>
<line x1="125.86" y1="6.17" x2="125.86" y2="18.11" stroke="#ffffff" stroke-width="0.7838894132424863" opacity="0.13"/>
<line x1="71.19" y1="53.60" x2="71.19" y2="74.52" stroke="#0a3a78" stroke-width="0.7860850919181215" opacity="0.13"/>
<line x1="62.64" y1="50.62" x2="62.64" y2="56.14" stroke="#ffffff" stroke-width="0.8666574108693643" opacity="0.08"/>
<line x1="68.77" y1="28.20" x2="68.77" y2="34.75" stroke="#ffffff" stroke-width="0.6531054188222852" opacity="0.07"/>
<line x1="170.57" y1="83.51" x2="170.57" y2="96.35" stroke="#ffffff" stroke-width="0.9397325924778318" opacity="0.10"/>
<line x1="149.55" y1="54.47" x2="149.55" y2="77.34" stroke="#ffffff" stroke-width="0.6369411239580732" opacity="0.08"/>
<line x1="61.67" y1="89.43" x2="61.67" y2="110.12" stroke="#ffffff" stroke-width="0.9597596886802038" opacity="0.13"/>
<line x1="106.31" y1="56.61" x2="106.31" y2="73.69" stroke="#ffffff" stroke-width="0.7370105656606626" opacity="0.10"/>
<line x1="132.90" y1="105.21" x2="132.90" y2="133.00" stroke="#0a3a78" stroke-width="0.9802090181220062" opacity="0.07"/>
<line x1="143.51" y1="143.34" x2="143.51" y2="146.30" stroke="#0a3a78" stroke-width="0.5732217763551707" opacity="0.14"/>
<line x1="124.76" y1="138.65" x2="124.76" y2="146.30" stroke="#0a3a78" stroke-width="0.7610604539152511" opacity="0.14"/>
<line x1="53.51" y1="33.10" x2="53.51" y2="58.68" stroke="#ffffff" stroke-width="0.7657465346781608" opacity="0.10"/>
<line x1="177.62" y1="38.65" x2="177.62" y2="43.12" stroke="#ffffff" stroke-width="0.7312904605905897" opacity="0.15"/>
<line x1="185.18" y1="42.68" x2="185.18" y2="48.91" stroke="#ffffff" stroke-width="0.6329497778654155" opacity="0.15"/>
<line x1="179.12" y1="35.09" x2="179.12" y2="62.52" stroke="#ffffff" stroke-width="0.6294964693475058" opacity="0.09"/>
<line x1="116.46" y1="82.83" x2="116.46" y2="97.18" stroke="#ffffff" stroke-width="1.0025964390041473" opacity="0.11"/>
<line x1="178.52" y1="110.67" x2="178.52" y2="135.98" stroke="#ffffff" stroke-width="0.6222223920706174" opacity="0.06"/>
<line x1="55.04" y1="141.75" x2="55.04" y2="146.30" stroke="#ffffff" stroke-width="0.5699029555362402" opacity="0.15"/>
<line x1="98.19" y1="10.11" x2="98.19" y2="37.63" stroke="#ffffff" stroke-width="1.0674612933066219" opacity="0.08"/>
<line x1="62.28" y1="135.13" x2="62.28" y2="146.30" stroke="#ffffff" stroke-width="1.0390224759572835" opacity="0.12"/>
<line x1="93.68" y1="51.79" x2="93.68" y2="72.80" stroke="#ffffff" stroke-width="0.5745080006475386" opacity="0.12"/>
<line x1="121.71" y1="5.56" x2="121.71" y2="32.22" stroke="#ffffff" stroke-width="0.6967342736461885" opacity="0.09"/>
<line x1="48.54" y1="47.69" x2="48.54" y2="65.82" stroke="#ffffff" stroke-width="0.6744742051662249" opacity="0.09"/>
<line x1="107.61" y1="114.37" x2="107.61" y2="129.75" stroke="#ffffff" stroke-width="0.5722024639672767" opacity="0.13"/>
<line x1="57.48" y1="124.31" x2="57.48" y2="140.78" stroke="#ffffff" stroke-width="1.00773384479049" opacity="0.09"/>
<line x1="89.99" y1="54.18" x2="89.99" y2="67.69" stroke="#ffffff" stroke-width="0.787497068484246" opacity="0.05"/>
<line x1="109.08" y1="67.16" x2="109.08" y2="83.45" stroke="#ffffff" stroke-width="1.088831418148469" opacity="0.13"/>
<line x1="48.67" y1="127.01" x2="48.67" y2="135.56" stroke="#ffffff" stroke-width="0.5469393701674481" opacity="0.14"/>
<line x1="116.20" y1="123.06" x2="116.20" y2="146.30" stroke="#0a3a78" stroke-width="0.5318941652045551" opacity="0.15"/>
<line x1="90.58" y1="17.43" x2="90.58" y2="41.06" stroke="#0a3a78" stroke-width="0.9774351850535347" opacity="0.10"/>
<line x1="188.84" y1="99.67" x2="188.84" y2="126.43" stroke="#ffffff" stroke-width="1.0346559782178602" opacity="0.11"/>
<line x1="44.93" y1="14.38" x2="44.93" y2="39.96" stroke="#0a3a78" stroke-width="0.5171714833355694" opacity="0.08"/>
<line x1="63.91" y1="105.27" x2="63.91" y2="110.25" stroke="#0a3a78" stroke-width="0.6285905912202367" opacity="0.11"/>
<line x1="142.21" y1="109.34" x2="142.21" y2="129.46" stroke="#0a3a78" stroke-width="0.5085638367826142" opacity="0.13"/>
<line x1="60.90" y1="79.40" x2="60.90" y2="108.62" stroke="#ffffff" stroke-width="0.5769964294196317" opacity="0.07"/>
<line x1="164.72" y1="66.23" x2="164.72" y2="83.81" stroke="#ffffff" stroke-width="0.9372834231608311" opacity="0.12"/>
<line x1="157.28" y1="126.04" x2="157.28" y2="137.35" stroke="#ffffff" stroke-width="1.0396279245632802" opacity="0.08"/>
<line x1="99.93" y1="58.25" x2="99.93" y2="75.78" stroke="#ffffff" stroke-width="0.7017839760101259" opacity="0.13"/>
<line x1="151.95" y1="114.08" x2="151.95" y2="125.77" stroke="#0a3a78" stroke-width="0.9378224237408312" opacity="0.06"/>
<line x1="124.68" y1="60.39" x2="124.68" y2="89.32" stroke="#ffffff" stroke-width="0.5602090595329438" opacity="0.10"/>
<line x1="86.14" y1="88.69" x2="86.14" y2="102.17" stroke="#ffffff" stroke-width="0.7749123939712278" opacity="0.15"/>
<line x1="135.16" y1="88.83" x2="135.16" y2="108.89" stroke="#ffffff" stroke-width="0.7947477375436185" opacity="0.10"/>
<line x1="162.27" y1="29.69" x2="162.27" y2="54.11" stroke="#0a3a78" stroke-width="0.5436780563579278" opacity="0.08"/>
<line x1="107.37" y1="65.91" x2="107.37" y2="88.42" stroke="#ffffff" stroke-width="0.5797703621965732" opacity="0.07"/>
<line x1="119.49" y1="85.20" x2="119.49" y2="89.21" stroke="#ffffff" stroke-width="1.0743299420377488" opacity="0.07"/>
<line x1="102.62" y1="83.61" x2="102.62" y2="95.14" stroke="#0a3a78" stroke-width="0.9027226288665267" opacity="0.12"/>
<line x1="30.73" y1="65.42" x2="30.73" y2="82.13" stroke="#0a3a78" stroke-width="0.6913096388412974" opacity="0.05"/>
<line x1="77.00" y1="92.22" x2="77.00" y2="111.43" stroke="#0a3a78" stroke-width="0.8113181820932446" opacity="0.10"/>
<line x1="84.89" y1="11.29" x2="84.89" y2="29.67" stroke="#ffffff" stroke-width="0.708452803590236" opacity="0.09"/>
<line x1="31.59" y1="7.45" x2="31.59" y2="15.56" stroke="#0a3a78" stroke-width="0.8484473011977303" opacity="0.06"/>
<line x1="68.30" y1="104.55" x2="68.30" y2="125.05" stroke="#0a3a78" stroke-width="0.6373080626674772" opacity="0.06"/>
<line x1="188.58" y1="22.47" x2="188.58" y2="33.90" stroke="#0a3a78" stroke-width="0.9911546856868336" opacity="0.08"/>
<line x1="122.33" y1="23.50" x2="122.33" y2="38.64" stroke="#ffffff" stroke-width="1.0525616619124074" opacity="0.13"/>
<line x1="163.85" y1="136.44" x2="163.85" y2="146.30" stroke="#0a3a78" stroke-width="0.6601458687444153" opacity="0.12"/>
<line x1="78.93" y1="19.77" x2="78.93" y2="28.46" stroke="#ffffff" stroke-width="0.946476932066574" opacity="0.14"/>
<line x1="93.31" y1="128.64" x2="93.31" y2="146.30" stroke="#0a3a78" stroke-width="0.5255192515912785" opacity="0.13"/>
<line x1="72.57" y1="55.19" x2="72.57" y2="70.35" stroke="#0a3a78" stroke-width="0.9440267206153576" opacity="0.12"/>
<line x1="177.70" y1="102.43" x2="177.70" y2="115.70" stroke="#0a3a78" stroke-width="0.9889413940156846" opacity="0.11"/>
<line x1="89.13" y1="53.28" x2="89.13" y2="73.26" stroke="#0a3a78" stroke-width="0.5000443201280266" opacity="0.08"/>
<line x1="133.32" y1="72.08" x2="133.32" y2="81.15" stroke="#ffffff" stroke-width="1.0772687692608494" opacity="0.11"/>
<line x1="170.71" y1="86.64" x2="170.71" y2="113.30" stroke="#ffffff" stroke-width="0.9964298758122223" opacity="0.15"/>
<line x1="162.59" y1="144.98" x2="162.59" y2="146.30" stroke="#ffffff" stroke-width="0.8917061706154271" opacity="0.09"/>
<line x1="63.90" y1="111.28" x2="63.90" y2="130.21" stroke="#ffffff" stroke-width="0.6817973412897964" opacity="0.14"/>
<line x1="173.85" y1="97.60" x2="173.85" y2="111.43" stroke="#ffffff" stroke-width="0.8857672289492915" opacity="0.11"/>
<line x1="41.59" y1="108.20" x2="41.59" y2="146.30" stroke="#9cc6e6" stroke-width="0.8" opacity="0.35"/>
<line x1="57.18" y1="1.94" x2="57.18" y2="146.30" stroke="#a9d0ec" stroke-width="0.9" opacity="0.8"/>
<line x1="65.37" y1="110.32" x2="65.37" y2="146.30" stroke="#b8dcf0" stroke-width="1.1" opacity="0.9"/>
<line x1="71.45" y1="114.13" x2="71.45" y2="146.30" stroke="#b8dcf0" stroke-width="1.3" opacity="0.95"/>
<line x1="71.45" y1="1.94" x2="71.45" y2="114.13" stroke="#f2a084" stroke-width="1.3" opacity="1.0"/>
<line x1="92.05" y1="1.94" x2="92.05" y2="65.87" stroke="#9ec8e8" stroke-width="2.2" opacity="0.6"/>
<line x1="95.48" y1="65.87" x2="95.48" y2="103.97" stroke="#8fc0e4" stroke-width="1.2" opacity="0.7"/>
<line x1="95.48" y1="103.97" x2="95.48" y2="146.30" stroke="#7fb5de" stroke-width="0.8" opacity="0.5"/>
<line x1="108.69" y1="1.94" x2="108.69" y2="146.30" stroke="#7fb5de" stroke-width="0.8" opacity="0.3"/>
<line x1="120.05" y1="1.94" x2="120.05" y2="146.30" stroke="#8fbfe2" stroke-width="0.8" opacity="0.35"/>
<line x1="108.69" y1="114.55" x2="108.69" y2="146.30" stroke="#a6cde9" stroke-width="0.9" opacity="0.6"/>
<line x1="120.05" y1="114.55" x2="120.05" y2="146.30" stroke="#a6cde9" stroke-width="0.9" opacity="0.6"/>
<line x1="128.24" y1="1.94" x2="128.24" y2="146.30" stroke="#b0d4ee" stroke-width="1.0" opacity="0.85"/>
<line x1="143.04" y1="1.94" x2="143.04" y2="146.30" stroke="#b8d8f0" stroke-width="1.0" opacity="0.9"/>
<line x1="146.73" y1="70.10" x2="146.73" y2="146.30" stroke="#8fbfe2" stroke-width="0.6" opacity="0.4"/>
<line x1="166.55" y1="1.94" x2="166.55" y2="146.30" stroke="#8fbfe2" stroke-width="0.6" opacity="0.3"/>
</g>
<line x1="30.50" y1="2.00" x2="189.00" y2="2.00" stroke="#444" stroke-width="0.8"/>
<line x1="30.50" y1="146.30" x2="189.00" y2="146.30" stroke="#444" stroke-width="0.8"/>
<line x1="30.50" y1="2.00" x2="30.50" y2="146.30" stroke="#444" stroke-width="0.8"/>
<line x1="189.00" y1="2.00" x2="189.00" y2="146.30" stroke="#444" stroke-width="0.8"/>
<rect x="55.20" y="3.90" width="4.40" height="36.00" fill="none" stroke="#c0272d" stroke-width="1.2"/>
<rect x="88.50" y="5.30" width="11.00" height="36.20" fill="none" stroke="#c0272d" stroke-width="1.2"/>
<rect x="93.10" y="64.20" width="4.70" height="35.50" fill="none" stroke="#c0272d" stroke-width="1.2"/>
<rect x="63.00" y="109.90" width="4.60" height="35.60" fill="none" stroke="#c0272d" stroke-width="1.2"/>
<rect x="69.70" y="114.00" width="4.10" height="31.50" fill="none" stroke="#c0272d" stroke-width="1.2"/>
<text x="0.00" y="0.00" font-size="6.2" fill="#eef5fb" stroke="#eef5fb" stroke-width="0.1" text-anchor="start" font-weight="normal" transform="translate(52.30 36.80) rotate(-90)">Fe<tspan font-size="3.84" dy="1.61">3</tspan><tspan dy="-1.61">&#8203;</tspan>O<tspan font-size="3.84" dy="1.61">4</tspan><tspan dy="-1.61">&#8203;</tspan>(220)</text>
<text x="0.00" y="0.00" font-size="6.2" fill="#eef5fb" stroke="#eef5fb" stroke-width="0.1" text-anchor="start" font-weight="normal" transform="translate(107.30 31.00) rotate(-90)">Fe<tspan font-size="3.84" dy="1.61">5</tspan><tspan dy="-1.61">&#8203;</tspan>C<tspan font-size="3.84" dy="1.61">2</tspan><tspan dy="-1.61">&#8203;</tspan></text>
<text x="0.00" y="0.00" font-size="6.3" fill="#eef5fb" stroke="#eef5fb" stroke-width="0.1" text-anchor="start" font-weight="normal" transform="translate(105.80 91.50) rotate(-90)">Fe(110)</text>
<text x="0.00" y="0.00" font-size="6.2" fill="#eef5fb" stroke="#eef5fb" stroke-width="0.1" text-anchor="start" font-weight="normal" transform="translate(60.30 142.30) rotate(-90)">Fe<tspan font-size="3.84" dy="1.61">2</tspan><tspan dy="-1.61">&#8203;</tspan>O<tspan font-size="3.84" dy="1.61">3</tspan><tspan dy="-1.61">&#8203;</tspan>(104)</text>
<text x="0.00" y="0.00" font-size="6.2" fill="#eef5fb" stroke="#eef5fb" stroke-width="0.1" text-anchor="start" font-weight="normal" transform="translate(81.60 142.30) rotate(-90)">NiFe<tspan font-size="3.84" dy="1.61">2</tspan><tspan dy="-1.61">&#8203;</tspan>O<tspan font-size="3.84" dy="1.61">4</tspan><tspan dy="-1.61">&#8203;</tspan>(311)</text>
<text x="0.00" y="0.00" font-size="6.1" fill="#eef5fb" stroke="#eef5fb" stroke-width="0.1" text-anchor="start" font-weight="normal" transform="translate(171.30 61.00) rotate(-90)">CO<tspan font-size="3.78" dy="1.59">2</tspan><tspan dy="-1.59">&#8203;</tspan> + H<tspan font-size="3.78" dy="1.59">2</tspan><tspan dy="-1.59">&#8203;</tspan> Reaction</text>
<text x="0.00" y="0.00" font-size="6.3" fill="#eef5fb" stroke="#eef5fb" stroke-width="0.1" text-anchor="start" font-weight="normal" transform="translate(171.30 126.50) rotate(-90)">H<tspan font-size="3.91" dy="1.64">2</tspan><tspan dy="-1.64">&#8203;</tspan> Reduction</text>
<line x1="98.90" y1="64.70" x2="107.50" y2="64.70" stroke="#eef5fb" stroke-width="0.9"/>
<path d="M110,64.7 L106.5,62.900000000000006 L106.5,66.5 Z" fill="#eef5fb"/>
<text x="113.00" y="67.10" font-size="6.5" fill="#eef5fb" stroke="#eef5fb" stroke-width="0.1" text-anchor="start" font-weight="normal">330 °C</text>
<line x1="98.90" y1="98.60" x2="107.50" y2="98.60" stroke="#eef5fb" stroke-width="0.9"/>
<path d="M110,98.6 L106.5,96.8 L106.5,100.39999999999999 Z" fill="#eef5fb"/>
<text x="113.00" y="101.00" font-size="6.5" fill="#eef5fb" stroke="#eef5fb" stroke-width="0.1" text-anchor="start" font-weight="normal">400 °C</text>
<line x1="175.40" y1="5.00" x2="175.40" y2="66.50" stroke="#eef5fb" stroke-width="0.8"/>
<line x1="175.40" y1="69.30" x2="175.40" y2="143.00" stroke="#eef5fb" stroke-width="0.8"/>
<path d="M175.4,3.0 L173.6,6.8 L177.20000000000002,6.8 Z" fill="#eef5fb"/>
<path d="M175.4,66.9 L173.6,63.10000000000001 L177.20000000000002,63.10000000000001 Z" fill="#eef5fb"/>
<path d="M175.4,69.0 L173.6,72.8 L177.20000000000002,72.8 Z" fill="#eef5fb"/>
<path d="M175.4,145.6 L173.6,141.79999999999998 L177.20000000000002,141.79999999999998 Z" fill="#eef5fb"/>
<line x1="27.50" y1="146.30" x2="30.50" y2="146.30" stroke="#333" stroke-width="0.8"/>
<text x="0.00" y="0.00" font-size="9.0" fill="#222" stroke="#222" stroke-width="0.1" text-anchor="end" font-weight="normal" transform="translate(26.30 149.30) scale(0.9 1)">0</text>
<line x1="28.90" y1="133.60" x2="30.50" y2="133.60" stroke="#333" stroke-width="0.8"/>
<line x1="27.50" y1="120.90" x2="30.50" y2="120.90" stroke="#333" stroke-width="0.8"/>
<text x="0.00" y="0.00" font-size="9.0" fill="#222" stroke="#222" stroke-width="0.1" text-anchor="end" font-weight="normal" transform="translate(26.30 123.90) scale(0.9 1)">60</text>
<line x1="28.90" y1="108.20" x2="30.50" y2="108.20" stroke="#333" stroke-width="0.8"/>
<line x1="27.50" y1="95.50" x2="30.50" y2="95.50" stroke="#333" stroke-width="0.8"/>
<text x="0.00" y="0.00" font-size="9.0" fill="#222" stroke="#222" stroke-width="0.1" text-anchor="end" font-weight="normal" transform="translate(26.30 98.50) scale(0.9 1)">120</text>
<line x1="28.90" y1="82.80" x2="30.50" y2="82.80" stroke="#333" stroke-width="0.8"/>
<line x1="27.50" y1="70.10" x2="30.50" y2="70.10" stroke="#333" stroke-width="0.8"/>
<text x="0.00" y="0.00" font-size="9.0" fill="#222" stroke="#222" stroke-width="0.1" text-anchor="end" font-weight="normal" transform="translate(26.30 73.10) scale(0.9 1)">180</text>
<line x1="28.90" y1="57.40" x2="30.50" y2="57.40" stroke="#333" stroke-width="0.8"/>
<line x1="27.50" y1="44.70" x2="30.50" y2="44.70" stroke="#333" stroke-width="0.8"/>
<text x="0.00" y="0.00" font-size="9.0" fill="#222" stroke="#222" stroke-width="0.1" text-anchor="end" font-weight="normal" transform="translate(26.30 47.70) scale(0.9 1)">240</text>
<line x1="28.90" y1="32.00" x2="30.50" y2="32.00" stroke="#333" stroke-width="0.8"/>
<line x1="27.50" y1="19.30" x2="30.50" y2="19.30" stroke="#333" stroke-width="0.8"/>
<text x="0.00" y="0.00" font-size="9.0" fill="#222" stroke="#222" stroke-width="0.1" text-anchor="end" font-weight="normal" transform="translate(26.30 22.30) scale(0.9 1)">300</text>
<line x1="28.90" y1="6.60" x2="30.50" y2="6.60" stroke="#333" stroke-width="0.8"/>
<line x1="30.50" y1="146.30" x2="30.50" y2="148.90" stroke="#333" stroke-width="0.8"/>
<text x="0.00" y="0.00" font-size="9.0" fill="#222" stroke="#222" stroke-width="0.1" text-anchor="middle" font-weight="normal" transform="translate(30.50 158.10) scale(0.9 1)">20</text>
<line x1="43.71" y1="146.30" x2="43.71" y2="147.80" stroke="#333" stroke-width="0.8"/>
<line x1="56.92" y1="146.30" x2="56.92" y2="148.90" stroke="#333" stroke-width="0.8"/>
<text x="0.00" y="0.00" font-size="9.0" fill="#222" stroke="#222" stroke-width="0.1" text-anchor="middle" font-weight="normal" transform="translate(56.92 158.10) scale(0.9 1)">30</text>
<line x1="70.12" y1="146.30" x2="70.12" y2="147.80" stroke="#333" stroke-width="0.8"/>
<line x1="83.33" y1="146.30" x2="83.33" y2="148.90" stroke="#333" stroke-width="0.8"/>
<text x="0.00" y="0.00" font-size="9.0" fill="#222" stroke="#222" stroke-width="0.1" text-anchor="middle" font-weight="normal" transform="translate(83.33 158.10) scale(0.9 1)">40</text>
<line x1="96.54" y1="146.30" x2="96.54" y2="147.80" stroke="#333" stroke-width="0.8"/>
<line x1="109.75" y1="146.30" x2="109.75" y2="148.90" stroke="#333" stroke-width="0.8"/>
<text x="0.00" y="0.00" font-size="9.0" fill="#222" stroke="#222" stroke-width="0.1" text-anchor="middle" font-weight="normal" transform="translate(109.75 158.10) scale(0.9 1)">50</text>
<line x1="122.96" y1="146.30" x2="122.96" y2="147.80" stroke="#333" stroke-width="0.8"/>
<line x1="136.17" y1="146.30" x2="136.17" y2="148.90" stroke="#333" stroke-width="0.8"/>
<text x="0.00" y="0.00" font-size="9.0" fill="#222" stroke="#222" stroke-width="0.1" text-anchor="middle" font-weight="normal" transform="translate(136.17 158.10) scale(0.9 1)">60</text>
<line x1="149.38" y1="146.30" x2="149.38" y2="147.80" stroke="#333" stroke-width="0.8"/>
<line x1="162.58" y1="146.30" x2="162.58" y2="148.90" stroke="#333" stroke-width="0.8"/>
<text x="0.00" y="0.00" font-size="9.0" fill="#222" stroke="#222" stroke-width="0.1" text-anchor="middle" font-weight="normal" transform="translate(162.58 158.10) scale(0.9 1)">70</text>
<line x1="175.79" y1="146.30" x2="175.79" y2="147.80" stroke="#333" stroke-width="0.8"/>
<line x1="189.00" y1="146.30" x2="189.00" y2="148.90" stroke="#333" stroke-width="0.8"/>
<text x="0.00" y="0.00" font-size="9.0" fill="#222" stroke="#222" stroke-width="0.1" text-anchor="middle" font-weight="normal" transform="translate(189.00 158.10) scale(0.9 1)">80</text>
<text x="0.00" y="0.00" font-size="10.2" fill="#222" stroke="#222" stroke-width="0.2" text-anchor="middle" font-weight="normal" transform="translate(8.80 74.00) rotate(-90)">Time (min)</text>
<text x="118.4" y="169.0" font-size="10.2" fill="#222" stroke="#222" stroke-width="0.2" text-anchor="middle"><tspan font-style="italic">2θ</tspan> (°)</text>
<defs><linearGradient id="cbA" x1="0" y1="1" x2="0" y2="0"><stop offset="0.000" stop-color="#0a2f6a"/><stop offset="0.125" stop-color="#2166ac"/><stop offset="0.250" stop-color="#5a9dd0"/><stop offset="0.375" stop-color="#b8d4ea"/><stop offset="0.500" stop-color="#ebebf0"/><stop offset="0.625" stop-color="#f9b39a"/><stop offset="0.750" stop-color="#ee5d40"/><stop offset="0.875" stop-color="#c2151d"/><stop offset="1.000" stop-color="#6a000f"/></linearGradient></defs>
<rect x="195.70" y="2.00" width="9.30" height="144.30" fill="url(#cbA)" stroke="none" stroke-width="1"/>
<line x1="205.00" y1="4.60" x2="207.20" y2="4.60" stroke="#333" stroke-width="0.8"/>
<text x="0.00" y="0.00" font-size="9.0" fill="#222" stroke="#222" stroke-width="0.1" text-anchor="start" font-weight="normal" transform="translate(209.30 7.70) scale(0.9 1)">10080</text>
<line x1="205.00" y1="21.80" x2="207.20" y2="21.80" stroke="#333" stroke-width="0.8"/>
<text x="0.00" y="0.00" font-size="9.0" fill="#222" stroke="#222" stroke-width="0.1" text-anchor="start" font-weight="normal" transform="translate(209.30 24.90) scale(0.9 1)">9053</text>
<line x1="205.00" y1="39.00" x2="207.20" y2="39.00" stroke="#333" stroke-width="0.8"/>
<text x="0.00" y="0.00" font-size="9.0" fill="#222" stroke="#222" stroke-width="0.1" text-anchor="start" font-weight="normal" transform="translate(209.30 42.10) scale(0.9 1)">8025</text>
<line x1="205.00" y1="56.20" x2="207.20" y2="56.20" stroke="#333" stroke-width="0.8"/>
<text x="0.00" y="0.00" font-size="9.0" fill="#222" stroke="#222" stroke-width="0.1" text-anchor="start" font-weight="normal" transform="translate(209.30 59.30) scale(0.9 1)">6998</text>
<line x1="205.00" y1="73.40" x2="207.20" y2="73.40" stroke="#333" stroke-width="0.8"/>
<text x="0.00" y="0.00" font-size="9.0" fill="#222" stroke="#222" stroke-width="0.1" text-anchor="start" font-weight="normal" transform="translate(209.30 76.50) scale(0.9 1)">5970</text>
<line x1="205.00" y1="90.60" x2="207.20" y2="90.60" stroke="#333" stroke-width="0.8"/>
<text x="0.00" y="0.00" font-size="9.0" fill="#222" stroke="#222" stroke-width="0.1" text-anchor="start" font-weight="normal" transform="translate(209.30 93.70) scale(0.9 1)">4943</text>
<line x1="205.00" y1="107.80" x2="207.20" y2="107.80" stroke="#333" stroke-width="0.8"/>
<text x="0.00" y="0.00" font-size="9.0" fill="#222" stroke="#222" stroke-width="0.1" text-anchor="start" font-weight="normal" transform="translate(209.30 110.90) scale(0.9 1)">3915</text>
<line x1="205.00" y1="125.00" x2="207.20" y2="125.00" stroke="#333" stroke-width="0.8"/>
<text x="0.00" y="0.00" font-size="9.0" fill="#222" stroke="#222" stroke-width="0.1" text-anchor="start" font-weight="normal" transform="translate(209.30 128.10) scale(0.9 1)">2888</text>
<line x1="205.00" y1="142.20" x2="207.20" y2="142.20" stroke="#333" stroke-width="0.8"/>
<text x="0.00" y="0.00" font-size="9.0" fill="#222" stroke="#222" stroke-width="0.1" text-anchor="start" font-weight="normal" transform="translate(209.30 145.30) scale(0.9 1)">1860</text>
<text x="0.00" y="11.40" font-size="15.8" fill="#111" stroke="#111" text-anchor="start" font-weight="normal" stroke-width="0.3">a</text>
<line x1="256.40" y1="1.30" x2="440.40" y2="1.30" stroke="#333" stroke-width="1.0"/>
<line x1="256.40" y1="146.30" x2="440.40" y2="146.30" stroke="#333" stroke-width="1.0"/>
<line x1="256.40" y1="1.30" x2="256.40" y2="146.30" stroke="#333" stroke-width="1.0"/>
<line x1="440.40" y1="1.30" x2="440.40" y2="146.30" stroke="#333" stroke-width="1.0"/>
<line x1="268.67" y1="146.30" x2="268.67" y2="148.50" stroke="#333" stroke-width="0.8"/>
<text x="268.67" y="157.50" font-size="8.3" fill="#222" stroke="#222" stroke-width="0.1" text-anchor="middle" font-weight="normal">200</text>
<line x1="293.20" y1="146.30" x2="293.20" y2="147.60" stroke="#333" stroke-width="0.8"/>
<line x1="317.73" y1="146.30" x2="317.73" y2="148.50" stroke="#333" stroke-width="0.8"/>
<text x="317.73" y="157.50" font-size="8.3" fill="#222" stroke="#222" stroke-width="0.1" text-anchor="middle" font-weight="normal">400</text>
<line x1="342.27" y1="146.30" x2="342.27" y2="147.60" stroke="#333" stroke-width="0.8"/>
<line x1="366.80" y1="146.30" x2="366.80" y2="148.50" stroke="#333" stroke-width="0.8"/>
<text x="366.80" y="157.50" font-size="8.3" fill="#222" stroke="#222" stroke-width="0.1" text-anchor="middle" font-weight="normal">600</text>
<line x1="391.33" y1="146.30" x2="391.33" y2="147.60" stroke="#333" stroke-width="0.8"/>
<line x1="415.87" y1="146.30" x2="415.87" y2="148.50" stroke="#333" stroke-width="0.8"/>
<text x="415.87" y="157.50" font-size="8.3" fill="#222" stroke="#222" stroke-width="0.1" text-anchor="middle" font-weight="normal">800</text>
<line x1="440.40" y1="146.30" x2="440.40" y2="147.60" stroke="#333" stroke-width="0.8"/>
<text x="349.00" y="169.60" font-size="10.0" fill="#222" stroke="#222" stroke-width="0.2" text-anchor="middle" font-weight="normal">Raman shift (cm<tspan font-size="6.20" dy="-3.80">-1</tspan><tspan dy="3.80">&#8203;</tspan>)</text>
<text x="0.00" y="0.00" font-size="9.9" fill="#222" stroke="#222" stroke-width="0.2" text-anchor="middle" font-weight="normal" transform="translate(249.60 75.20) rotate(-90)">Intensity (arb. units)</text>
<text x="239.30" y="11.20" font-size="15.8" fill="#111" stroke="#111" text-anchor="start" font-weight="normal" stroke-width="0.3">b</text>
<path d="M256.50,68.70 C257.52,68.47 259.10,68.81 259.60,68.00 C261.15,65.51 261.75,61.79 262.70,58.70 C263.79,55.16 264.42,51.31 265.80,47.90 C266.73,45.60 268.03,42.57 269.70,41.40 C270.57,40.79 272.24,42.16 273.50,42.50 C275.04,42.92 276.63,43.50 278.20,43.70 C279.43,43.86 280.95,44.12 282.00,43.60 C283.49,42.87 284.48,40.61 285.90,39.90 C286.53,39.59 287.80,39.88 288.20,40.50 C289.84,43.02 291.01,46.39 292.10,49.40 C293.55,53.42 294.17,57.97 295.90,61.80 C296.71,63.58 298.22,65.40 299.80,66.40 C301.02,67.18 303.01,67.54 304.40,67.20 C306.08,66.79 307.48,64.99 309.10,64.10 C310.55,63.31 312.24,61.97 313.70,62.10 C315.27,62.24 316.70,64.15 318.30,64.90 C319.51,65.47 321.01,66.39 322.20,66.10 C324.08,65.64 325.81,63.74 327.60,62.60 C329.64,61.30 331.61,59.59 333.80,58.70 C335.43,58.04 337.41,58.14 339.20,57.90 C341.11,57.64 343.20,57.81 345.00,57.20 C347.66,56.29 350.01,53.98 352.70,53.30 C355.10,52.69 357.87,53.48 360.40,53.30 C362.99,53.12 365.85,53.14 368.20,52.20 C370.96,51.10 373.68,49.14 375.90,47.10 C378.27,44.92 379.86,41.73 382.10,39.40 C383.03,38.43 384.37,37.10 385.50,37.10 C386.65,37.10 388.14,38.35 389.00,39.40 C391.07,41.92 392.59,45.12 394.40,47.90 C396.41,50.99 398.18,54.49 400.60,57.20 C402.27,59.07 404.53,60.96 406.80,61.80 C408.62,62.48 411.00,61.52 413.00,61.80 C414.56,62.02 416.15,62.64 417.60,63.30 C419.72,64.26 421.61,66.21 423.80,66.70 C426.19,67.23 428.96,66.49 431.50,66.40 C434.30,66.30 437.20,66.20 440.00,66.10" fill="none" stroke="#f47f7f" stroke-width="0.9" stroke-linejoin="round" stroke-linecap="round"/>
<path d="M256.40,130.30 C258.21,128.32 260.64,126.62 261.90,124.30 C264.20,120.06 265.45,114.99 267.20,110.40 C268.62,106.67 269.75,102.62 271.50,99.10 C272.03,98.03 273.18,96.50 274.10,96.50 C275.19,96.50 276.36,98.39 277.60,99.10 C278.54,99.64 280.01,100.80 280.70,100.30 C282.02,99.35 282.51,96.41 283.70,94.70 C284.79,93.14 286.31,90.40 287.60,90.40 C288.89,90.40 290.59,93.04 291.50,94.70 C293.59,98.49 294.69,103.03 296.70,106.90 C298.12,109.63 299.93,112.36 301.90,114.70 C303.07,116.09 304.59,117.76 306.20,118.20 C307.73,118.62 309.83,116.99 311.40,117.30 C312.70,117.55 314.00,118.81 314.90,119.90 C316.61,121.97 317.93,124.54 319.30,126.90 C321.10,129.99 322.51,133.48 324.50,136.40 C325.35,137.64 326.59,139.23 327.90,139.50 C329.46,139.82 331.44,138.59 333.20,138.20 C336.03,137.57 338.94,136.84 341.80,136.40 C344.55,135.98 347.44,135.58 350.20,135.60 C351.93,135.61 353.78,136.85 355.40,136.50 C357.80,135.99 360.27,134.43 362.40,133.00 C365.45,130.96 368.58,128.65 371.10,126.00 C374.03,122.91 377.12,119.42 378.90,115.60 C381.11,110.84 381.71,105.13 383.20,100.00 C384.88,94.24 386.25,88.10 388.50,82.60 C389.42,80.34 391.05,77.87 392.80,76.50 C393.62,75.86 395.48,75.86 396.30,76.50 C398.05,77.87 399.62,80.36 400.60,82.60 C402.76,87.53 404.07,93.06 405.80,98.20 C407.54,103.38 408.97,108.88 411.10,113.90 C412.99,118.36 415.46,122.77 418.00,126.90 C420.05,130.23 422.36,133.68 425.00,136.50 C426.38,137.97 428.48,139.90 430.20,139.90 C431.92,139.90 433.54,137.19 435.40,136.50 C436.90,135.94 438.75,136.23 440.40,136.10" fill="none" stroke="#1e96f0" stroke-width="1.0" stroke-linejoin="round" stroke-linecap="round"/>
<text x="384.90" y="15.40" font-size="7.9" fill="#f47f7f" stroke="#f47f7f" stroke-width="0.1" text-anchor="start" font-weight="normal">NiFe<tspan font-size="4.90" dy="2.05">2</tspan><tspan dy="-2.05">&#8203;</tspan>O<tspan font-size="4.90" dy="2.05">4</tspan><tspan dy="-2.05">&#8203;</tspan>/Fe<tspan font-size="4.90" dy="2.05">2</tspan><tspan dy="-2.05">&#8203;</tspan>O<tspan font-size="4.90" dy="2.05">3</tspan><tspan dy="-2.05">&#8203;</tspan></text>
<text x="382.80" y="31.40" font-size="8.3" fill="#f47f7f" stroke="#f47f7f" stroke-width="0.1" text-anchor="start" font-weight="normal"><tspan font-style="italic">A</tspan><tspan font-size="5.15" dy="2.16">1g</tspan><tspan dy="-2.16">&#8203;</tspan></text>
<text x="308.30" y="56.00" font-size="8.3" fill="#f47f7f" stroke="#f47f7f" stroke-width="0.1" text-anchor="start" font-weight="normal"><tspan font-style="italic">E</tspan><tspan font-size="5.15" dy="2.16">g</tspan><tspan dy="-2.16">&#8203;</tspan></text>
<text x="327.60" y="50.50" font-size="8.3" fill="#f47f7f" stroke="#f47f7f" stroke-width="0.1" text-anchor="start" font-weight="normal"><tspan font-style="italic">T</tspan><tspan font-size="5.15" dy="2.16">2g</tspan><tspan dy="-2.16">&#8203;</tspan></text>
<text x="348.10" y="47.40" font-size="8.3" fill="#f47f7f" stroke="#f47f7f" stroke-width="0.1" text-anchor="start" font-weight="normal"><tspan font-style="italic">T</tspan><tspan font-size="5.15" dy="2.16">2g</tspan><tspan dy="-2.16">&#8203;</tspan></text>
<text x="389.00" y="66.20" font-size="8.3" fill="#1e96f0" stroke="#1e96f0" stroke-width="0.1" text-anchor="start" font-weight="normal"><tspan font-style="italic">A</tspan><tspan font-size="5.15" dy="2.16">1g</tspan><tspan dy="-2.16">&#8203;</tspan></text>
<text x="398.30" y="76.80" font-size="7.9" fill="#1e96f0" stroke="#1e96f0" stroke-width="0.1" text-anchor="start" font-weight="normal">NiO<tspan font-size="4.90" dy="2.05">x</tspan><tspan dy="-2.05">&#8203;</tspan>/Fe<tspan font-size="4.90" dy="2.05">2</tspan><tspan dy="-2.05">&#8203;</tspan>O<tspan font-size="4.90" dy="2.05">3</tspan><tspan dy="-2.05">&#8203;</tspan></text>
<text x="268.00" y="91.00" font-size="8.3" fill="#1e96f0" stroke="#1e96f0" stroke-width="0.1" text-anchor="start" font-weight="normal"><tspan font-style="italic">T</tspan><tspan font-size="5.15" dy="2.16">2g</tspan><tspan dy="-2.16">&#8203;</tspan></text>
<text x="285.40" y="83.20" font-size="8.3" fill="#1e96f0" stroke="#1e96f0" stroke-width="0.1" text-anchor="start" font-weight="normal"><tspan font-style="italic">E</tspan><tspan font-size="5.15" dy="2.16">g</tspan><tspan dy="-2.16">&#8203;</tspan></text>
<text x="310.90" y="110.10" font-size="8.3" fill="#1e96f0" stroke="#1e96f0" stroke-width="0.1" text-anchor="start" font-weight="normal"><tspan font-style="italic">T</tspan><tspan font-size="5.15" dy="2.16">2g</tspan><tspan dy="-2.16">&#8203;</tspan></text>
<text x="341.80" y="125.70" font-size="8.3" fill="#1e96f0" stroke="#1e96f0" stroke-width="0.1" text-anchor="start" font-weight="normal"><tspan font-style="italic">T</tspan><tspan font-size="5.15" dy="2.16">2g</tspan><tspan dy="-2.16">&#8203;</tspan></text>
<path d="M298.88,18.98 L298.14,11.04 L305.38,14.38Z" fill="#efe2a6" stroke="#b89a50" stroke-width="0.5"/>
<circle cx="298.88" cy="18.98" r="0.75" fill="#e0262b"/>
<circle cx="298.14" cy="11.04" r="0.75" fill="#e0262b"/>
<circle cx="305.38" cy="14.38" r="0.75" fill="#e0262b"/>
<path d="M298.15,23.31 L297.28,15.39 L304.57,18.60Z" fill="#efe2a6" stroke="#b89a50" stroke-width="0.5"/>
<circle cx="298.15" cy="23.31" r="0.75" fill="#e0262b"/>
<circle cx="297.28" cy="15.39" r="0.75" fill="#e0262b"/>
<circle cx="304.57" cy="18.60" r="0.75" fill="#e0262b"/>
<path d="M319.27,16.64 L311.95,19.78 L312.89,11.87Z" fill="#efe2a6" stroke="#b89a50" stroke-width="0.5"/>
<circle cx="319.27" cy="16.64" r="0.75" fill="#e0262b"/>
<circle cx="311.95" cy="19.78" r="0.75" fill="#e0262b"/>
<circle cx="312.89" cy="11.87" r="0.75" fill="#e0262b"/>
<path d="M318.43,21.61 L310.93,24.31 L312.34,16.47Z" fill="#efe2a6" stroke="#b89a50" stroke-width="0.5"/>
<circle cx="318.43" cy="21.61" r="0.75" fill="#e0262b"/>
<circle cx="310.93" cy="24.31" r="0.75" fill="#e0262b"/>
<circle cx="312.34" cy="16.47" r="0.75" fill="#e0262b"/>
<path d="M295.18,25.83 L292.49,18.33 L300.33,19.75Z" fill="#efe2a6" stroke="#b89a50" stroke-width="0.5"/>
<circle cx="295.18" cy="25.83" r="0.75" fill="#e0262b"/>
<circle cx="292.49" cy="18.33" r="0.75" fill="#e0262b"/>
<circle cx="300.33" cy="19.75" r="0.75" fill="#e0262b"/>
<path d="M316.64,28.90 L312.45,22.12 L320.41,21.88Z" fill="#efe2a6" stroke="#b89a50" stroke-width="0.5"/>
<circle cx="316.64" cy="28.90" r="0.75" fill="#e0262b"/>
<circle cx="312.45" cy="22.12" r="0.75" fill="#e0262b"/>
<circle cx="320.41" cy="21.88" r="0.75" fill="#e0262b"/>
<path d="M305.97,36.64 L300.89,30.50 L308.74,29.17Z" fill="#efe2a6" stroke="#b89a50" stroke-width="0.5"/>
<circle cx="305.97" cy="36.64" r="0.75" fill="#e0262b"/>
<circle cx="300.89" cy="30.50" r="0.75" fill="#e0262b"/>
<circle cx="308.74" cy="29.17" r="0.75" fill="#e0262b"/>
<path d="M305.37,36.67 L297.47,35.70 L302.26,29.33Z" fill="#efe2a6" stroke="#b89a50" stroke-width="0.5"/>
<circle cx="305.37" cy="36.67" r="0.75" fill="#e0262b"/>
<circle cx="297.47" cy="35.70" r="0.75" fill="#e0262b"/>
<circle cx="302.26" cy="29.33" r="0.75" fill="#e0262b"/>
<path d="M310.87,39.09 L305.01,33.69 L312.62,31.32Z" fill="#efe2a6" stroke="#b89a50" stroke-width="0.5"/>
<circle cx="310.87" cy="39.09" r="0.75" fill="#e0262b"/>
<circle cx="305.01" cy="33.69" r="0.75" fill="#e0262b"/>
<circle cx="312.62" cy="31.32" r="0.75" fill="#e0262b"/>
<path d="M309.36,24.39 L303.51,18.98 L311.13,16.63Z" fill="#efe2a6" stroke="#b89a50" stroke-width="0.5"/>
<circle cx="309.36" cy="24.39" r="0.75" fill="#e0262b"/>
<circle cx="303.51" cy="18.98" r="0.75" fill="#e0262b"/>
<circle cx="311.13" cy="16.63" r="0.75" fill="#e0262b"/>
<path d="M311.08,11.39 L306.55,7.62 L312.07,5.59Z" fill="#858585" stroke="#5a5a5a" stroke-width="0.5"/>
<circle cx="311.08" cy="11.39" r="0.75" fill="#e0262b"/>
<circle cx="306.55" cy="7.62" r="0.75" fill="#e0262b"/>
<circle cx="312.07" cy="5.59" r="0.75" fill="#e0262b"/>
<circle cx="309.90" cy="8.20" r="0.7" fill="#c0262b"/>
<path d="M297.51,15.01 L291.73,16.13 L293.65,10.56Z" fill="#858585" stroke="#5a5a5a" stroke-width="0.5"/>
<circle cx="297.51" cy="15.01" r="0.75" fill="#e0262b"/>
<circle cx="291.73" cy="16.13" r="0.75" fill="#e0262b"/>
<circle cx="293.65" cy="10.56" r="0.75" fill="#e0262b"/>
<circle cx="294.30" cy="13.90" r="0.7" fill="#c0262b"/>
<path d="M309.91,18.77 L304.44,16.59 L309.06,12.94Z" fill="#858585" stroke="#5a5a5a" stroke-width="0.5"/>
<circle cx="309.91" cy="18.77" r="0.75" fill="#e0262b"/>
<circle cx="304.44" cy="16.59" r="0.75" fill="#e0262b"/>
<circle cx="309.06" cy="12.94" r="0.75" fill="#e0262b"/>
<circle cx="307.80" cy="16.10" r="0.7" fill="#c0262b"/>
<path d="M324.01,21.20 L318.38,19.45 L322.71,15.45Z" fill="#858585" stroke="#5a5a5a" stroke-width="0.5"/>
<circle cx="324.01" cy="21.20" r="0.75" fill="#e0262b"/>
<circle cx="318.38" cy="19.45" r="0.75" fill="#e0262b"/>
<circle cx="322.71" cy="15.45" r="0.75" fill="#e0262b"/>
<circle cx="321.70" cy="18.70" r="0.7" fill="#c0262b"/>
<path d="M306.19,26.79 L302.96,21.87 L308.84,21.54Z" fill="#858585" stroke="#5a5a5a" stroke-width="0.5"/>
<circle cx="306.19" cy="26.79" r="0.75" fill="#e0262b"/>
<circle cx="302.96" cy="21.87" r="0.75" fill="#e0262b"/>
<circle cx="308.84" cy="21.54" r="0.75" fill="#e0262b"/>
<circle cx="306.00" cy="23.40" r="0.7" fill="#c0262b"/>
<path d="M289.63,33.36 L289.57,27.47 L294.70,30.36Z" fill="#858585" stroke="#5a5a5a" stroke-width="0.5"/>
<circle cx="289.63" cy="33.36" r="0.75" fill="#e0262b"/>
<circle cx="289.57" cy="27.47" r="0.75" fill="#e0262b"/>
<circle cx="294.70" cy="30.36" r="0.75" fill="#e0262b"/>
<circle cx="291.30" cy="30.40" r="0.7" fill="#c0262b"/>
<path d="M297.32,30.41 L296.70,24.55 L302.08,26.94Z" fill="#858585" stroke="#5a5a5a" stroke-width="0.5"/>
<circle cx="297.32" cy="30.41" r="0.75" fill="#e0262b"/>
<circle cx="296.70" cy="24.55" r="0.75" fill="#e0262b"/>
<circle cx="302.08" cy="26.94" r="0.75" fill="#e0262b"/>
<circle cx="298.70" cy="27.30" r="0.7" fill="#c0262b"/>
<path d="M314.02,32.59 L309.21,29.19 L314.56,26.73Z" fill="#858585" stroke="#5a5a5a" stroke-width="0.5"/>
<circle cx="314.02" cy="32.59" r="0.75" fill="#e0262b"/>
<circle cx="309.21" cy="29.19" r="0.75" fill="#e0262b"/>
<circle cx="314.56" cy="26.73" r="0.75" fill="#e0262b"/>
<circle cx="312.60" cy="29.50" r="0.7" fill="#c0262b"/>
<path d="M320.63,37.93 L315.22,35.59 L319.95,32.08Z" fill="#858585" stroke="#5a5a5a" stroke-width="0.5"/>
<circle cx="320.63" cy="37.93" r="0.75" fill="#e0262b"/>
<circle cx="315.22" cy="35.59" r="0.75" fill="#e0262b"/>
<circle cx="319.95" cy="32.08" r="0.75" fill="#e0262b"/>
<circle cx="318.60" cy="35.20" r="0.7" fill="#c0262b"/>
<path d="M306.28,41.71 L300.39,41.49 L303.53,36.50Z" fill="#858585" stroke="#5a5a5a" stroke-width="0.5"/>
<circle cx="306.28" cy="41.71" r="0.75" fill="#e0262b"/>
<circle cx="300.39" cy="41.49" r="0.75" fill="#e0262b"/>
<circle cx="303.53" cy="36.50" r="0.75" fill="#e0262b"/>
<circle cx="303.40" cy="39.90" r="0.7" fill="#c0262b"/>
<path d="M352.61,87.74 L346.95,82.13 L354.64,80.03Z" fill="#f3e9bd" stroke="#b49a66" stroke-width="0.5"/>
<circle cx="352.61" cy="87.74" r="0.75" fill="#e0262b"/>
<circle cx="346.95" cy="82.13" r="0.75" fill="#e0262b"/>
<circle cx="354.64" cy="80.03" r="0.75" fill="#e0262b"/>
<path d="M356.28,87.00 L352.18,80.17 L360.14,80.03Z" fill="#f3e9bd" stroke="#b49a66" stroke-width="0.5"/>
<circle cx="356.28" cy="87.00" r="0.75" fill="#e0262b"/>
<circle cx="352.18" cy="80.17" r="0.75" fill="#e0262b"/>
<circle cx="360.14" cy="80.03" r="0.75" fill="#e0262b"/>
<path d="M347.57,84.98 L344.25,77.73 L352.18,78.49Z" fill="#f3e9bd" stroke="#b49a66" stroke-width="0.5"/>
<circle cx="347.57" cy="84.98" r="0.75" fill="#e0262b"/>
<circle cx="344.25" cy="77.73" r="0.75" fill="#e0262b"/>
<circle cx="352.18" cy="78.49" r="0.75" fill="#e0262b"/>
<path d="M338.00,97.23 L337.04,89.32 L344.37,92.45Z" fill="#f3e9bd" stroke="#b49a66" stroke-width="0.5"/>
<circle cx="338.00" cy="97.23" r="0.75" fill="#e0262b"/>
<circle cx="337.04" cy="89.32" r="0.75" fill="#e0262b"/>
<circle cx="344.37" cy="92.45" r="0.75" fill="#e0262b"/>
<path d="M338.40,101.50 L334.27,94.68 L342.23,94.52Z" fill="#f3e9bd" stroke="#b49a66" stroke-width="0.5"/>
<circle cx="338.40" cy="101.50" r="0.75" fill="#e0262b"/>
<circle cx="334.27" cy="94.68" r="0.75" fill="#e0262b"/>
<circle cx="342.23" cy="94.52" r="0.75" fill="#e0262b"/>
<path d="M352.18,102.60 L350.89,94.74 L358.34,97.55Z" fill="#f3e9bd" stroke="#b49a66" stroke-width="0.5"/>
<circle cx="352.18" cy="102.60" r="0.75" fill="#e0262b"/>
<circle cx="350.89" cy="94.74" r="0.75" fill="#e0262b"/>
<circle cx="358.34" cy="97.55" r="0.75" fill="#e0262b"/>
<path d="M363.19,97.58 L356.06,101.14 L356.55,93.18Z" fill="#f3e9bd" stroke="#b49a66" stroke-width="0.5"/>
<circle cx="363.19" cy="97.58" r="0.75" fill="#e0262b"/>
<circle cx="356.06" cy="101.14" r="0.75" fill="#e0262b"/>
<circle cx="356.55" cy="93.18" r="0.75" fill="#e0262b"/>
<path d="M354.48,106.41 L347.31,102.93 L353.91,98.46Z" fill="#f3e9bd" stroke="#b49a66" stroke-width="0.5"/>
<circle cx="354.48" cy="106.41" r="0.75" fill="#e0262b"/>
<circle cx="347.31" cy="102.93" r="0.75" fill="#e0262b"/>
<circle cx="353.91" cy="98.46" r="0.75" fill="#e0262b"/>
<path d="M345.19,99.23 L344.24,91.32 L351.57,94.46Z" fill="#f3e9bd" stroke="#b49a66" stroke-width="0.5"/>
<circle cx="345.19" cy="99.23" r="0.75" fill="#e0262b"/>
<circle cx="344.24" cy="91.32" r="0.75" fill="#e0262b"/>
<circle cx="351.57" cy="94.46" r="0.75" fill="#e0262b"/>
<path d="M355.01,78.42 L351.06,74.06 L356.82,72.82Z" fill="#8d6c3a" stroke="#5e4520" stroke-width="0.5"/>
<circle cx="355.01" cy="78.42" r="0.75" fill="#e0262b"/>
<circle cx="351.06" cy="74.06" r="0.75" fill="#e0262b"/>
<circle cx="356.82" cy="72.82" r="0.75" fill="#e0262b"/>
<circle cx="354.30" cy="75.10" r="0.7" fill="#c0262b"/>
<path d="M335.84,81.23 L334.63,75.47 L340.23,77.30Z" fill="#8d6c3a" stroke="#5e4520" stroke-width="0.5"/>
<circle cx="335.84" cy="81.23" r="0.75" fill="#e0262b"/>
<circle cx="334.63" cy="75.47" r="0.75" fill="#e0262b"/>
<circle cx="340.23" cy="77.30" r="0.75" fill="#e0262b"/>
<circle cx="336.90" cy="78.00" r="0.7" fill="#c0262b"/>
<path d="M346.00,85.60 L340.36,87.26 L341.74,81.54Z" fill="#8d6c3a" stroke="#5e4520" stroke-width="0.5"/>
<circle cx="346.00" cy="85.60" r="0.75" fill="#e0262b"/>
<circle cx="340.36" cy="87.26" r="0.75" fill="#e0262b"/>
<circle cx="341.74" cy="81.54" r="0.75" fill="#e0262b"/>
<circle cx="342.70" cy="84.80" r="0.7" fill="#c0262b"/>
<path d="M366.29,91.03 L361.01,88.42 L365.91,85.15Z" fill="#8d6c3a" stroke="#5e4520" stroke-width="0.5"/>
<circle cx="366.29" cy="91.03" r="0.75" fill="#e0262b"/>
<circle cx="361.01" cy="88.42" r="0.75" fill="#e0262b"/>
<circle cx="365.91" cy="85.15" r="0.75" fill="#e0262b"/>
<circle cx="364.40" cy="88.20" r="0.7" fill="#c0262b"/>
<path d="M334.06,95.68 L328.17,95.72 L331.08,90.60Z" fill="#8d6c3a" stroke="#5e4520" stroke-width="0.5"/>
<circle cx="334.06" cy="95.68" r="0.75" fill="#e0262b"/>
<circle cx="328.17" cy="95.72" r="0.75" fill="#e0262b"/>
<circle cx="331.08" cy="90.60" r="0.75" fill="#e0262b"/>
<circle cx="331.10" cy="94.00" r="0.7" fill="#c0262b"/>
<path d="M349.92,94.19 L345.11,90.79 L350.46,88.32Z" fill="#8d6c3a" stroke="#5e4520" stroke-width="0.5"/>
<circle cx="349.92" cy="94.19" r="0.75" fill="#e0262b"/>
<circle cx="345.11" cy="90.79" r="0.75" fill="#e0262b"/>
<circle cx="350.46" cy="88.32" r="0.75" fill="#e0262b"/>
<circle cx="348.50" cy="91.10" r="0.7" fill="#c0262b"/>
<path d="M357.93,93.27 L353.34,89.58 L358.83,87.45Z" fill="#8d6c3a" stroke="#5e4520" stroke-width="0.5"/>
<circle cx="357.93" cy="93.27" r="0.75" fill="#e0262b"/>
<circle cx="353.34" cy="89.58" r="0.75" fill="#e0262b"/>
<circle cx="358.83" cy="87.45" r="0.75" fill="#e0262b"/>
<circle cx="356.70" cy="90.10" r="0.7" fill="#c0262b"/>
<path d="M348.00,99.39 L342.82,102.20 L342.98,96.31Z" fill="#8d6c3a" stroke="#5e4520" stroke-width="0.5"/>
<circle cx="348.00" cy="99.39" r="0.75" fill="#e0262b"/>
<circle cx="342.82" cy="102.20" r="0.75" fill="#e0262b"/>
<circle cx="342.98" cy="96.31" r="0.75" fill="#e0262b"/>
<circle cx="344.60" cy="99.30" r="0.7" fill="#c0262b"/>
<path d="M362.66,106.09 L356.78,106.50 L359.36,101.21Z" fill="#8d6c3a" stroke="#5e4520" stroke-width="0.5"/>
<circle cx="362.66" cy="106.09" r="0.75" fill="#e0262b"/>
<circle cx="356.78" cy="106.50" r="0.75" fill="#e0262b"/>
<circle cx="359.36" cy="101.21" r="0.75" fill="#e0262b"/>
<circle cx="359.60" cy="104.60" r="0.7" fill="#c0262b"/>
<path d="M344.53,109.38 L338.66,109.02 L341.91,104.11Z" fill="#8d6c3a" stroke="#5e4520" stroke-width="0.5"/>
<circle cx="344.53" cy="109.38" r="0.75" fill="#e0262b"/>
<circle cx="338.66" cy="109.02" r="0.75" fill="#e0262b"/>
<circle cx="341.91" cy="104.11" r="0.75" fill="#e0262b"/>
<circle cx="341.70" cy="107.50" r="0.7" fill="#c0262b"/>
<line x1="482.40" y1="1.30" x2="675.50" y2="1.30" stroke="#333" stroke-width="1.0"/>
<line x1="482.40" y1="146.40" x2="675.50" y2="146.40" stroke="#333" stroke-width="1.0"/>
<line x1="482.40" y1="1.30" x2="482.40" y2="146.40" stroke="#333" stroke-width="1.0"/>
<line x1="675.50" y1="1.30" x2="675.50" y2="146.40" stroke="#333" stroke-width="1.0"/>
<line x1="482.40" y1="146.40" x2="482.40" y2="147.70" stroke="#333" stroke-width="0.8"/>
<line x1="492.56" y1="146.40" x2="492.56" y2="148.60" stroke="#333" stroke-width="0.8"/>
<text x="0.00" y="0.00" font-size="9.0" fill="#222" stroke="#222" stroke-width="0.1" text-anchor="middle" font-weight="normal" transform="translate(492.56 157.40) scale(0.9 1)">-8</text>
<line x1="502.73" y1="146.40" x2="502.73" y2="147.70" stroke="#333" stroke-width="0.8"/>
<line x1="512.89" y1="146.40" x2="512.89" y2="148.60" stroke="#333" stroke-width="0.8"/>
<text x="0.00" y="0.00" font-size="9.0" fill="#222" stroke="#222" stroke-width="0.1" text-anchor="middle" font-weight="normal" transform="translate(512.89 157.40) scale(0.9 1)">-6</text>
<line x1="523.05" y1="146.40" x2="523.05" y2="147.70" stroke="#333" stroke-width="0.8"/>
<line x1="533.22" y1="146.40" x2="533.22" y2="148.60" stroke="#333" stroke-width="0.8"/>
<text x="0.00" y="0.00" font-size="9.0" fill="#222" stroke="#222" stroke-width="0.1" text-anchor="middle" font-weight="normal" transform="translate(533.22 157.40) scale(0.9 1)">-4</text>
<line x1="543.38" y1="146.40" x2="543.38" y2="147.70" stroke="#333" stroke-width="0.8"/>
<line x1="553.54" y1="146.40" x2="553.54" y2="148.60" stroke="#333" stroke-width="0.8"/>
<text x="0.00" y="0.00" font-size="9.0" fill="#222" stroke="#222" stroke-width="0.1" text-anchor="middle" font-weight="normal" transform="translate(553.54 157.40) scale(0.9 1)">-2</text>
<line x1="563.71" y1="146.40" x2="563.71" y2="147.70" stroke="#333" stroke-width="0.8"/>
<line x1="573.87" y1="146.40" x2="573.87" y2="148.60" stroke="#333" stroke-width="0.8"/>
<text x="0.00" y="0.00" font-size="9.0" fill="#222" stroke="#222" stroke-width="0.1" text-anchor="middle" font-weight="normal" transform="translate(573.87 157.40) scale(0.9 1)">0</text>
<line x1="584.03" y1="146.40" x2="584.03" y2="147.70" stroke="#333" stroke-width="0.8"/>
<line x1="594.19" y1="146.40" x2="594.19" y2="148.60" stroke="#333" stroke-width="0.8"/>
<text x="0.00" y="0.00" font-size="9.0" fill="#222" stroke="#222" stroke-width="0.1" text-anchor="middle" font-weight="normal" transform="translate(594.19 157.40) scale(0.9 1)">2</text>
<line x1="604.36" y1="146.40" x2="604.36" y2="147.70" stroke="#333" stroke-width="0.8"/>
<line x1="614.52" y1="146.40" x2="614.52" y2="148.60" stroke="#333" stroke-width="0.8"/>
<text x="0.00" y="0.00" font-size="9.0" fill="#222" stroke="#222" stroke-width="0.1" text-anchor="middle" font-weight="normal" transform="translate(614.52 157.40) scale(0.9 1)">4</text>
<line x1="624.68" y1="146.40" x2="624.68" y2="147.70" stroke="#333" stroke-width="0.8"/>
<line x1="634.85" y1="146.40" x2="634.85" y2="148.60" stroke="#333" stroke-width="0.8"/>
<text x="0.00" y="0.00" font-size="9.0" fill="#222" stroke="#222" stroke-width="0.1" text-anchor="middle" font-weight="normal" transform="translate(634.85 157.40) scale(0.9 1)">6</text>
<line x1="645.01" y1="146.40" x2="645.01" y2="147.70" stroke="#333" stroke-width="0.8"/>
<line x1="655.17" y1="146.40" x2="655.17" y2="148.60" stroke="#333" stroke-width="0.8"/>
<text x="0.00" y="0.00" font-size="9.0" fill="#222" stroke="#222" stroke-width="0.1" text-anchor="middle" font-weight="normal" transform="translate(655.17 157.40) scale(0.9 1)">8</text>
<line x1="665.34" y1="146.40" x2="665.34" y2="147.70" stroke="#333" stroke-width="0.8"/>
<line x1="675.50" y1="146.40" x2="675.50" y2="148.60" stroke="#333" stroke-width="0.8"/>
<text x="0.00" y="0.00" font-size="9.0" fill="#222" stroke="#222" stroke-width="0.1" text-anchor="middle" font-weight="normal" transform="translate(675.50 157.40) scale(0.9 1)">10</text>
<text x="579.0" y="170.0" font-size="10.1" fill="#222" stroke="#222" stroke-width="0.2" text-anchor="middle">Velocity (m·ms<tspan font-size="6.9" dy="-3.8">-1</tspan><tspan dy="3.8">)</tspan></text>
<text x="0.00" y="0.00" font-size="10.1" fill="#222" stroke="#222" stroke-width="0.2" text-anchor="middle" font-weight="normal" transform="translate(474.20 76.30) rotate(-90)">Transmission (arb. units)</text>
<text x="465.30" y="11.40" font-size="15.8" fill="#111" stroke="#111" text-anchor="start" font-weight="normal" stroke-width="0.3">c</text>
<path d="M482.40,12.64 L482.88,12.64 L483.37,12.64 L483.85,12.64 L484.33,12.64 L484.81,12.64 L485.30,12.64 L485.78,12.64 L486.26,12.65 L486.74,12.65 L487.23,12.65 L487.71,12.65 L488.19,12.65 L488.68,12.65 L489.16,12.65 L489.64,12.65 L490.12,12.65 L490.61,12.65 L491.09,12.65 L491.57,12.65 L492.05,12.65 L492.54,12.65 L493.02,12.65 L493.50,12.65 L493.99,12.65 L494.47,12.65 L494.95,12.66 L495.43,12.66 L495.92,12.66 L496.40,12.66 L496.88,12.66 L497.37,12.66 L497.85,12.66 L498.33,12.66 L498.81,12.66 L499.30,12.66 L499.78,12.66 L500.26,12.66 L500.74,12.66 L501.23,12.66 L501.71,12.67 L502.19,12.67 L502.68,12.67 L503.16,12.67 L503.64,12.67 L504.12,12.67 L504.61,12.67 L505.09,12.67 L505.57,12.67 L506.05,12.67 L506.54,12.67 L507.02,12.68 L507.50,12.68 L507.99,12.68 L508.47,12.68 L508.95,12.68 L509.43,12.68 L509.92,12.68 L510.40,12.68 L510.88,12.69 L511.37,12.69 L511.85,12.69 L512.33,12.69 L512.81,12.69 L513.30,12.69 L513.78,12.69 L514.26,12.69 L514.74,12.70 L515.23,12.70 L515.71,12.70 L516.19,12.70 L516.68,12.70 L517.16,12.70 L517.64,12.71 L518.12,12.71 L518.61,12.71 L519.09,12.71 L519.57,12.71 L520.05,12.71 L520.54,12.72 L521.02,12.72 L521.50,12.72 L521.99,12.72 L522.47,12.73 L522.95,12.73 L523.43,12.73 L523.92,12.73 L524.40,12.73 L524.88,12.74 L525.36,12.74 L525.85,12.74 L526.33,12.75 L526.81,12.75 L527.30,12.75 L527.78,12.75 L528.26,12.76 L528.74,12.76 L529.23,12.76 L529.71,12.77 L530.19,12.77 L530.67,12.77 L531.16,12.78 L531.64,12.78 L532.12,12.79 L532.61,12.79 L533.09,12.79 L533.57,12.80 L534.05,12.80 L534.54,12.81 L535.02,12.81 L535.50,12.82 L535.99,12.82 L536.47,12.83 L536.95,12.83 L537.43,12.84 L537.92,12.85 L538.40,12.85 L538.88,12.86 L539.36,12.87 L539.85,12.87 L540.33,12.88 L540.81,12.89 L541.30,12.90 L541.78,12.90 L542.26,12.91 L542.74,12.92 L543.23,12.93 L543.71,12.94 L544.19,12.95 L544.67,12.96 L545.16,12.97 L545.64,12.99 L546.12,13.00 L546.61,13.01 L547.09,13.02 L547.57,13.04 L548.05,13.05 L548.54,13.07 L549.02,13.09 L549.50,13.11 L549.99,13.12 L550.47,13.14 L550.95,13.17 L551.43,13.19 L551.92,13.21 L552.40,13.24 L552.88,13.26 L553.36,13.29 L553.85,13.32 L554.33,13.36 L554.81,13.39 L555.30,13.43 L555.78,13.47 L556.26,13.51 L556.74,13.56 L557.23,13.61 L557.71,13.66 L558.19,13.72 L558.67,13.79 L559.16,13.86 L559.64,13.93 L560.12,14.02 L560.61,14.11 L561.09,14.21 L561.57,14.32 L562.05,14.45 L562.54,14.59 L563.02,14.74 L563.50,14.92 L563.98,15.11 L564.47,15.33 L564.95,15.59 L565.43,15.88 L565.92,16.21 L566.40,16.59 L566.88,17.03 L567.36,17.55 L567.85,18.16 L568.33,18.87 L568.81,19.71 L569.29,20.70 L569.78,21.86 L570.26,23.19 L570.74,24.70 L571.23,26.35 L571.71,28.03 L572.19,29.60 L572.67,30.83 L573.16,31.54 L573.64,31.61 L574.12,31.11 L574.61,30.21 L575.09,29.15 L575.57,28.12 L576.05,27.28 L576.54,26.69 L577.02,26.40 L577.50,26.42 L577.98,26.76 L578.47,27.39 L578.95,28.28 L579.43,29.32 L579.92,30.37 L580.40,31.22 L580.88,31.64 L581.36,31.47 L581.85,30.67 L582.33,29.37 L582.81,27.77 L583.29,26.08 L583.78,24.45 L584.26,22.97 L584.74,21.66 L585.23,20.53 L585.71,19.57 L586.19,18.75 L586.67,18.06 L587.16,17.47 L587.64,16.96 L588.12,16.53 L588.61,16.15 L589.09,15.83 L589.57,15.55 L590.05,15.30 L590.54,15.08 L591.02,14.89 L591.50,14.72 L591.98,14.56 L592.47,14.43 L592.95,14.31 L593.43,14.19 L593.92,14.09 L594.40,14.00 L594.88,13.92 L595.36,13.85 L595.85,13.78 L596.33,13.71 L596.81,13.65 L597.29,13.60 L597.78,13.55 L598.26,13.50 L598.74,13.46 L599.23,13.42 L599.71,13.38 L600.19,13.35 L600.67,13.32 L601.16,13.29 L601.64,13.26 L602.12,13.23 L602.60,13.21 L603.09,13.18 L603.57,13.16 L604.05,13.14 L604.54,13.12 L605.02,13.10 L605.50,13.08 L605.98,13.07 L606.47,13.05 L606.95,13.04 L607.43,13.02 L607.91,13.01 L608.40,13.00 L608.88,12.98 L609.36,12.97 L609.85,12.96 L610.33,12.95 L610.81,12.94 L611.29,12.93 L611.78,12.92 L612.26,12.91 L612.74,12.90 L613.23,12.89 L613.71,12.89 L614.19,12.88 L614.67,12.87 L615.16,12.86 L615.64,12.86 L616.12,12.85 L616.60,12.84 L617.09,12.84 L617.57,12.83 L618.05,12.83 L618.54,12.82 L619.02,12.82 L619.50,12.81 L619.98,12.81 L620.47,12.80 L620.95,12.80 L621.43,12.79 L621.91,12.79 L622.40,12.79 L622.88,12.78 L623.36,12.78 L623.85,12.77 L624.33,12.77 L624.81,12.77 L625.29,12.76 L625.78,12.76 L626.26,12.76 L626.74,12.75 L627.23,12.75 L627.71,12.75 L628.19,12.74 L628.67,12.74 L629.16,12.74 L629.64,12.74 L630.12,12.73 L630.60,12.73 L631.09,12.73 L631.57,12.73 L632.05,12.72 L632.54,12.72 L633.02,12.72 L633.50,12.72 L633.98,12.72 L634.47,12.71 L634.95,12.71 L635.43,12.71 L635.91,12.71 L636.40,12.71 L636.88,12.71 L637.36,12.70 L637.85,12.70 L638.33,12.70 L638.81,12.70 L639.29,12.70 L639.78,12.70 L640.26,12.69 L640.74,12.69 L641.22,12.69 L641.71,12.69 L642.19,12.69 L642.67,12.69 L643.16,12.69 L643.64,12.68 L644.12,12.68 L644.60,12.68 L645.09,12.68 L645.57,12.68 L646.05,12.68 L646.53,12.68 L647.02,12.68 L647.50,12.68 L647.98,12.67 L648.47,12.67 L648.95,12.67 L649.43,12.67 L649.91,12.67 L650.40,12.67 L650.88,12.67 L651.36,12.67 L651.85,12.67 L652.33,12.67 L652.81,12.67 L653.29,12.66 L653.78,12.66 L654.26,12.66 L654.74,12.66 L655.22,12.66 L655.71,12.66 L656.19,12.66 L656.67,12.66 L657.16,12.66 L657.64,12.66 L658.12,12.66 L658.60,12.66 L659.09,12.66 L659.57,12.66 L660.05,12.65 L660.53,12.65 L661.02,12.65 L661.50,12.65 L661.98,12.65 L662.47,12.65 L662.95,12.65 L663.43,12.65 L663.91,12.65 L664.40,12.65 L664.88,12.65 L665.36,12.65 L665.85,12.65 L666.33,12.65 L666.81,12.65 L667.29,12.65 L667.78,12.65 L668.26,12.64 L668.74,12.64 L669.22,12.64 L669.71,12.64 L670.19,12.64 L670.67,12.64 L671.16,12.64 L671.64,12.64 L672.12,12.64 L672.60,12.64 L673.09,12.64 L673.57,12.64 L674.05,12.64 L674.53,12.64 L675.02,12.64 L675.50,12.64" fill="none" stroke="#3ec8d2" stroke-width="1.0" stroke-linejoin="round"/>
<path d="M482.40,39.77 L482.88,39.77 L483.37,39.77 L483.85,39.77 L484.33,39.78 L484.81,39.78 L485.30,39.78 L485.78,39.78 L486.26,39.78 L486.74,39.79 L487.23,39.79 L487.71,39.79 L488.19,39.79 L488.68,39.79 L489.16,39.80 L489.64,39.80 L490.12,39.80 L490.61,39.80 L491.09,39.80 L491.57,39.81 L492.05,39.81 L492.54,39.81 L493.02,39.81 L493.50,39.82 L493.99,39.82 L494.47,39.82 L494.95,39.82 L495.43,39.83 L495.92,39.83 L496.40,39.83 L496.88,39.83 L497.37,39.84 L497.85,39.84 L498.33,39.84 L498.81,39.85 L499.30,39.85 L499.78,39.85 L500.26,39.85 L500.74,39.86 L501.23,39.86 L501.71,39.86 L502.19,39.87 L502.68,39.87 L503.16,39.87 L503.64,39.88 L504.12,39.88 L504.61,39.89 L505.09,39.89 L505.57,39.89 L506.05,39.90 L506.54,39.90 L507.02,39.90 L507.50,39.91 L507.99,39.91 L508.47,39.92 L508.95,39.92 L509.43,39.93 L509.92,39.93 L510.40,39.94 L510.88,39.94 L511.37,39.94 L511.85,39.95 L512.33,39.95 L512.81,39.96 L513.30,39.97 L513.78,39.97 L514.26,39.98 L514.74,39.98 L515.23,39.99 L515.71,39.99 L516.19,40.00 L516.68,40.01 L517.16,40.01 L517.64,40.02 L518.12,40.03 L518.61,40.03 L519.09,40.04 L519.57,40.05 L520.05,40.05 L520.54,40.06 L521.02,40.07 L521.50,40.08 L521.99,40.08 L522.47,40.09 L522.95,40.10 L523.43,40.11 L523.92,40.12 L524.40,40.13 L524.88,40.14 L525.36,40.15 L525.85,40.16 L526.33,40.17 L526.81,40.18 L527.30,40.19 L527.78,40.20 L528.26,40.21 L528.74,40.22 L529.23,40.24 L529.71,40.25 L530.19,40.26 L530.67,40.27 L531.16,40.29 L531.64,40.30 L532.12,40.32 L532.61,40.33 L533.09,40.35 L533.57,40.37 L534.05,40.38 L534.54,40.40 L535.02,40.42 L535.50,40.44 L535.99,40.46 L536.47,40.48 L536.95,40.50 L537.43,40.52 L537.92,40.54 L538.40,40.57 L538.88,40.59 L539.36,40.62 L539.85,40.65 L540.33,40.68 L540.81,40.71 L541.30,40.74 L541.78,40.77 L542.26,40.81 L542.74,40.85 L543.23,40.89 L543.71,40.93 L544.19,40.97 L544.67,41.02 L545.16,41.08 L545.64,41.13 L546.12,41.20 L546.61,41.26 L547.09,41.34 L547.57,41.42 L548.05,41.51 L548.54,41.61 L549.02,41.72 L549.50,41.85 L549.99,41.99 L550.47,42.16 L550.95,42.35 L551.43,42.57 L551.92,42.84 L552.40,43.15 L552.88,43.53 L553.36,43.98 L553.85,44.52 L554.33,45.16 L554.81,45.88 L555.30,46.66 L555.78,47.40 L556.26,47.99 L556.74,48.29 L557.23,48.23 L557.71,47.87 L558.19,47.32 L558.67,46.72 L559.16,46.18 L559.64,45.73 L560.12,45.40 L560.61,45.17 L561.09,45.06 L561.57,45.04 L562.05,45.11 L562.54,45.26 L563.02,45.46 L563.50,45.68 L563.98,45.87 L564.47,45.97 L564.95,45.95 L565.43,45.80 L565.92,45.55 L566.40,45.25 L566.88,44.96 L567.36,44.69 L567.85,44.45 L568.33,44.26 L568.81,44.10 L569.29,43.98 L569.78,43.88 L570.26,43.81 L570.74,43.75 L571.23,43.70 L571.71,43.67 L572.19,43.64 L572.67,43.62 L573.16,43.60 L573.64,43.59 L574.12,43.58 L574.61,43.57 L575.09,43.57 L575.57,43.56 L576.05,43.56 L576.54,43.56 L577.02,43.55 L577.50,43.55 L577.98,43.55 L578.47,43.55 L578.95,43.55 L579.43,43.56 L579.92,43.56 L580.40,43.58 L580.88,43.60 L581.36,43.62 L581.85,43.66 L582.33,43.70 L582.81,43.77 L583.29,43.85 L583.78,43.95 L584.26,44.08 L584.74,44.25 L585.23,44.46 L585.71,44.70 L586.19,44.98 L586.67,45.29 L587.16,45.58 L587.64,45.84 L588.12,46.01 L588.61,46.11 L589.09,46.14 L589.57,46.17 L590.05,46.24 L590.54,46.41 L591.02,46.70 L591.50,47.10 L591.98,47.60 L592.47,48.11 L592.95,48.51 L593.43,48.66 L593.92,48.47 L594.40,47.96 L594.88,47.23 L595.36,46.43 L595.85,45.66 L596.33,44.97 L596.81,44.38 L597.29,43.88 L597.78,43.46 L598.26,43.11 L598.74,42.82 L599.23,42.57 L599.71,42.36 L600.19,42.18 L600.67,42.02 L601.16,41.88 L601.64,41.76 L602.12,41.65 L602.60,41.55 L603.09,41.46 L603.57,41.38 L604.05,41.31 L604.54,41.24 L605.02,41.18 L605.50,41.12 L605.98,41.07 L606.47,41.02 L606.95,40.97 L607.43,40.93 L607.91,40.89 L608.40,40.85 L608.88,40.81 L609.36,40.78 L609.85,40.74 L610.33,40.71 L610.81,40.68 L611.29,40.66 L611.78,40.63 L612.26,40.60 L612.74,40.58 L613.23,40.55 L613.71,40.53 L614.19,40.51 L614.67,40.49 L615.16,40.47 L615.64,40.45 L616.12,40.43 L616.60,40.41 L617.09,40.39 L617.57,40.38 L618.05,40.36 L618.54,40.34 L619.02,40.33 L619.50,40.31 L619.98,40.30 L620.47,40.28 L620.95,40.27 L621.43,40.26 L621.91,40.24 L622.40,40.23 L622.88,40.22 L623.36,40.21 L623.85,40.20 L624.33,40.19 L624.81,40.18 L625.29,40.17 L625.78,40.16 L626.26,40.15 L626.74,40.14 L627.23,40.13 L627.71,40.12 L628.19,40.11 L628.67,40.10 L629.16,40.09 L629.64,40.08 L630.12,40.08 L630.60,40.07 L631.09,40.06 L631.57,40.05 L632.05,40.05 L632.54,40.04 L633.02,40.03 L633.50,40.02 L633.98,40.02 L634.47,40.01 L634.95,40.01 L635.43,40.00 L635.91,39.99 L636.40,39.99 L636.88,39.98 L637.36,39.98 L637.85,39.97 L638.33,39.96 L638.81,39.96 L639.29,39.95 L639.78,39.95 L640.26,39.94 L640.74,39.94 L641.22,39.93 L641.71,39.93 L642.19,39.93 L642.67,39.92 L643.16,39.92 L643.64,39.91 L644.12,39.91 L644.60,39.90 L645.09,39.90 L645.57,39.90 L646.05,39.89 L646.53,39.89 L647.02,39.88 L647.50,39.88 L647.98,39.88 L648.47,39.87 L648.95,39.87 L649.43,39.87 L649.91,39.86 L650.40,39.86 L650.88,39.86 L651.36,39.85 L651.85,39.85 L652.33,39.85 L652.81,39.85 L653.29,39.84 L653.78,39.84 L654.26,39.84 L654.74,39.83 L655.22,39.83 L655.71,39.83 L656.19,39.83 L656.67,39.82 L657.16,39.82 L657.64,39.82 L658.12,39.82 L658.60,39.81 L659.09,39.81 L659.57,39.81 L660.05,39.81 L660.53,39.80 L661.02,39.80 L661.50,39.80 L661.98,39.80 L662.47,39.80 L662.95,39.79 L663.43,39.79 L663.91,39.79 L664.40,39.79 L664.88,39.79 L665.36,39.78 L665.85,39.78 L666.33,39.78 L666.81,39.78 L667.29,39.78 L667.78,39.77 L668.26,39.77 L668.74,39.77 L669.22,39.77 L669.71,39.77 L670.19,39.77 L670.67,39.76 L671.16,39.76 L671.64,39.76 L672.12,39.76 L672.60,39.76 L673.09,39.76 L673.57,39.75 L674.05,39.75 L674.53,39.75 L675.02,39.75 L675.50,39.75" fill="none" stroke="#d9a43a" stroke-width="1.0" stroke-linejoin="round"/>
<path d="M482.40,55.05 L482.88,55.05 L483.37,55.05 L483.85,55.05 L484.33,55.06 L484.81,55.06 L485.30,55.06 L485.78,55.06 L486.26,55.06 L486.74,55.06 L487.23,55.07 L487.71,55.07 L488.19,55.07 L488.68,55.07 L489.16,55.07 L489.64,55.08 L490.12,55.08 L490.61,55.08 L491.09,55.08 L491.57,55.08 L492.05,55.09 L492.54,55.09 L493.02,55.09 L493.50,55.09 L493.99,55.10 L494.47,55.10 L494.95,55.10 L495.43,55.10 L495.92,55.10 L496.40,55.11 L496.88,55.11 L497.37,55.11 L497.85,55.12 L498.33,55.12 L498.81,55.12 L499.30,55.12 L499.78,55.13 L500.26,55.13 L500.74,55.13 L501.23,55.14 L501.71,55.14 L502.19,55.14 L502.68,55.15 L503.16,55.15 L503.64,55.15 L504.12,55.16 L504.61,55.16 L505.09,55.16 L505.57,55.17 L506.05,55.17 L506.54,55.18 L507.02,55.18 L507.50,55.18 L507.99,55.19 L508.47,55.19 L508.95,55.20 L509.43,55.20 L509.92,55.21 L510.40,55.21 L510.88,55.22 L511.37,55.22 L511.85,55.23 L512.33,55.23 L512.81,55.24 L513.30,55.24 L513.78,55.25 L514.26,55.26 L514.74,55.26 L515.23,55.27 L515.71,55.27 L516.19,55.28 L516.68,55.29 L517.16,55.30 L517.64,55.30 L518.12,55.31 L518.61,55.32 L519.09,55.33 L519.57,55.34 L520.05,55.34 L520.54,55.35 L521.02,55.36 L521.50,55.37 L521.99,55.38 L522.47,55.39 L522.95,55.40 L523.43,55.42 L523.92,55.43 L524.40,55.44 L524.88,55.45 L525.36,55.47 L525.85,55.48 L526.33,55.50 L526.81,55.51 L527.30,55.53 L527.78,55.54 L528.26,55.56 L528.74,55.58 L529.23,55.60 L529.71,55.62 L530.19,55.65 L530.67,55.67 L531.16,55.69 L531.64,55.72 L532.12,55.75 L532.61,55.78 L533.09,55.82 L533.57,55.85 L534.05,55.89 L534.54,55.93 L535.02,55.98 L535.50,56.03 L535.99,56.08 L536.47,56.14 L536.95,56.21 L537.43,56.28 L537.92,56.36 L538.40,56.45 L538.88,56.56 L539.36,56.67 L539.85,56.80 L540.33,56.95 L540.81,57.13 L541.30,57.32 L541.78,57.55 L542.26,57.82 L542.74,58.13 L543.23,58.49 L543.71,58.90 L544.19,59.38 L544.67,59.92 L545.16,60.50 L545.64,61.11 L546.12,61.68 L546.61,62.17 L547.09,62.49 L547.57,62.59 L548.05,62.46 L548.54,62.14 L549.02,61.69 L549.50,61.19 L549.99,60.70 L550.47,60.24 L550.95,59.86 L551.43,59.54 L551.92,59.29 L552.40,59.11 L552.88,58.99 L553.36,58.93 L553.85,58.94 L554.33,58.99 L554.81,59.11 L555.30,59.29 L555.78,59.52 L556.26,59.80 L556.74,60.14 L557.23,60.49 L557.71,60.84 L558.19,61.12 L558.67,61.30 L559.16,61.33 L559.64,61.21 L560.12,60.96 L560.61,60.62 L561.09,60.24 L561.57,59.87 L562.05,59.53 L562.54,59.24 L563.02,58.99 L563.50,58.79 L563.98,58.63 L564.47,58.51 L564.95,58.43 L565.43,58.38 L565.92,58.37 L566.40,58.38 L566.88,58.41 L567.36,58.48 L567.85,58.56 L568.33,58.67 L568.81,58.78 L569.29,58.89 L569.78,58.99 L570.26,59.06 L570.74,59.10 L571.23,59.08 L571.71,59.03 L572.19,58.94 L572.67,58.84 L573.16,58.73 L573.64,58.63 L574.12,58.54 L574.61,58.46 L575.09,58.41 L575.57,58.39 L576.05,58.38 L576.54,58.40 L577.02,58.44 L577.50,58.50 L577.98,58.58 L578.47,58.68 L578.95,58.79 L579.43,58.90 L579.92,58.99 L580.40,59.05 L580.88,59.08 L581.36,59.06 L581.85,59.00 L582.33,58.90 L582.81,58.79 L583.29,58.67 L583.78,58.56 L584.26,58.46 L584.74,58.38 L585.23,58.32 L585.71,58.29 L586.19,58.28 L586.67,58.31 L587.16,58.36 L587.64,58.44 L588.12,58.56 L588.61,58.71 L589.09,58.91 L589.57,59.15 L590.05,59.44 L590.54,59.78 L591.02,60.15 L591.50,60.53 L591.98,60.88 L592.47,61.17 L592.95,61.33 L593.43,61.33 L593.92,61.19 L594.40,60.93 L594.88,60.60 L595.36,60.25 L595.85,59.92 L596.33,59.64 L596.81,59.41 L597.29,59.23 L597.78,59.13 L598.26,59.08 L598.74,59.09 L599.23,59.17 L599.71,59.31 L600.19,59.52 L600.67,59.80 L601.16,60.15 L601.64,60.58 L602.12,61.05 L602.60,61.55 L603.09,62.02 L603.57,62.39 L604.05,62.60 L604.54,62.58 L605.02,62.33 L605.50,61.90 L605.98,61.34 L606.47,60.74 L606.95,60.14 L607.43,59.59 L607.91,59.09 L608.40,58.65 L608.88,58.26 L609.36,57.94 L609.85,57.65 L610.33,57.41 L610.81,57.20 L611.29,57.02 L611.78,56.86 L612.26,56.73 L612.74,56.60 L613.23,56.50 L613.71,56.40 L614.19,56.32 L614.67,56.24 L615.16,56.17 L615.64,56.11 L616.12,56.05 L616.60,56.00 L617.09,55.95 L617.57,55.91 L618.05,55.87 L618.54,55.83 L619.02,55.80 L619.50,55.76 L619.98,55.73 L620.47,55.71 L620.95,55.68 L621.43,55.66 L621.91,55.63 L622.40,55.61 L622.88,55.59 L623.36,55.57 L623.85,55.55 L624.33,55.53 L624.81,55.52 L625.29,55.50 L625.78,55.49 L626.26,55.47 L626.74,55.46 L627.23,55.45 L627.71,55.43 L628.19,55.42 L628.67,55.41 L629.16,55.40 L629.64,55.39 L630.12,55.38 L630.60,55.37 L631.09,55.36 L631.57,55.35 L632.05,55.34 L632.54,55.33 L633.02,55.32 L633.50,55.31 L633.98,55.31 L634.47,55.30 L634.95,55.29 L635.43,55.28 L635.91,55.28 L636.40,55.27 L636.88,55.26 L637.36,55.26 L637.85,55.25 L638.33,55.25 L638.81,55.24 L639.29,55.23 L639.78,55.23 L640.26,55.22 L640.74,55.22 L641.22,55.21 L641.71,55.21 L642.19,55.20 L642.67,55.20 L643.16,55.19 L643.64,55.19 L644.12,55.19 L644.60,55.18 L645.09,55.18 L645.57,55.17 L646.05,55.17 L646.53,55.17 L647.02,55.16 L647.50,55.16 L647.98,55.15 L648.47,55.15 L648.95,55.15 L649.43,55.14 L649.91,55.14 L650.40,55.14 L650.88,55.13 L651.36,55.13 L651.85,55.13 L652.33,55.13 L652.81,55.12 L653.29,55.12 L653.78,55.12 L654.26,55.11 L654.74,55.11 L655.22,55.11 L655.71,55.11 L656.19,55.10 L656.67,55.10 L657.16,55.10 L657.64,55.10 L658.12,55.09 L658.60,55.09 L659.09,55.09 L659.57,55.09 L660.05,55.08 L660.53,55.08 L661.02,55.08 L661.50,55.08 L661.98,55.08 L662.47,55.07 L662.95,55.07 L663.43,55.07 L663.91,55.07 L664.40,55.07 L664.88,55.07 L665.36,55.06 L665.85,55.06 L666.33,55.06 L666.81,55.06 L667.29,55.06 L667.78,55.05 L668.26,55.05 L668.74,55.05 L669.22,55.05 L669.71,55.05 L670.19,55.05 L670.67,55.05 L671.16,55.04 L671.64,55.04 L672.12,55.04 L672.60,55.04 L673.09,55.04 L673.57,55.04 L674.05,55.04 L674.53,55.03 L675.02,55.03 L675.50,55.03" fill="none" stroke="#b97ee0" stroke-width="1.0" stroke-linejoin="round"/>
<path d="M482.40,69.80 L482.88,69.80 L483.37,69.80 L483.85,69.80 L484.33,69.80 L484.81,69.81 L485.30,69.81 L485.78,69.81 L486.26,69.81 L486.74,69.82 L487.23,69.82 L487.71,69.82 L488.19,69.82 L488.68,69.82 L489.16,69.83 L489.64,69.83 L490.12,69.83 L490.61,69.84 L491.09,69.84 L491.57,69.84 L492.05,69.84 L492.54,69.85 L493.02,69.85 L493.50,69.85 L493.99,69.86 L494.47,69.86 L494.95,69.86 L495.43,69.86 L495.92,69.87 L496.40,69.87 L496.88,69.87 L497.37,69.88 L497.85,69.88 L498.33,69.89 L498.81,69.89 L499.30,69.89 L499.78,69.90 L500.26,69.90 L500.74,69.90 L501.23,69.91 L501.71,69.91 L502.19,69.92 L502.68,69.92 L503.16,69.93 L503.64,69.93 L504.12,69.93 L504.61,69.94 L505.09,69.94 L505.57,69.95 L506.05,69.95 L506.54,69.96 L507.02,69.97 L507.50,69.97 L507.99,69.98 L508.47,69.98 L508.95,69.99 L509.43,69.99 L509.92,70.00 L510.40,70.01 L510.88,70.01 L511.37,70.02 L511.85,70.03 L512.33,70.03 L512.81,70.04 L513.30,70.05 L513.78,70.06 L514.26,70.07 L514.74,70.07 L515.23,70.08 L515.71,70.09 L516.19,70.10 L516.68,70.11 L517.16,70.12 L517.64,70.13 L518.12,70.14 L518.61,70.15 L519.09,70.17 L519.57,70.18 L520.05,70.19 L520.54,70.20 L521.02,70.22 L521.50,70.23 L521.99,70.25 L522.47,70.26 L522.95,70.28 L523.43,70.30 L523.92,70.31 L524.40,70.33 L524.88,70.35 L525.36,70.38 L525.85,70.40 L526.33,70.42 L526.81,70.45 L527.30,70.48 L527.78,70.51 L528.26,70.54 L528.74,70.57 L529.23,70.61 L529.71,70.65 L530.19,70.69 L530.67,70.74 L531.16,70.79 L531.64,70.84 L532.12,70.90 L532.61,70.97 L533.09,71.05 L533.57,71.13 L534.05,71.22 L534.54,71.33 L535.02,71.45 L535.50,71.58 L535.99,71.73 L536.47,71.91 L536.95,72.11 L537.43,72.35 L537.92,72.62 L538.40,72.94 L538.88,73.31 L539.36,73.75 L539.85,74.24 L540.33,74.80 L540.81,75.41 L541.30,76.05 L541.78,76.67 L542.26,77.20 L542.74,77.57 L543.23,77.70 L543.71,77.58 L544.19,77.24 L544.67,76.76 L545.16,76.20 L545.64,75.63 L546.12,75.10 L546.61,74.64 L547.09,74.24 L547.57,73.91 L548.05,73.64 L548.54,73.44 L549.02,73.28 L549.50,73.18 L549.99,73.11 L550.47,73.10 L550.95,73.12 L551.43,73.18 L551.92,73.29 L552.40,73.44 L552.88,73.64 L553.36,73.90 L553.85,74.20 L554.33,74.56 L554.81,74.96 L555.30,75.38 L555.78,75.79 L556.26,76.12 L556.74,76.33 L557.23,76.37 L557.71,76.24 L558.19,75.96 L558.67,75.58 L559.16,75.16 L559.64,74.75 L560.12,74.36 L560.61,74.02 L561.09,73.73 L561.57,73.48 L562.05,73.28 L562.54,73.12 L563.02,73.00 L563.50,72.91 L563.98,72.85 L564.47,72.81 L564.95,72.80 L565.43,72.81 L565.92,72.85 L566.40,72.92 L566.88,73.01 L567.36,73.13 L567.85,73.28 L568.33,73.46 L568.81,73.67 L569.29,73.89 L569.78,74.11 L570.26,74.30 L570.74,74.44 L571.23,74.50 L571.71,74.46 L572.19,74.35 L572.67,74.18 L573.16,73.99 L573.64,73.80 L574.12,73.62 L574.61,73.48 L575.09,73.36 L575.57,73.28 L576.05,73.24 L576.54,73.22 L577.02,73.25 L577.50,73.30 L577.98,73.39 L578.47,73.52 L578.95,73.67 L579.43,73.85 L579.92,74.05 L580.40,74.23 L580.88,74.39 L581.36,74.48 L581.85,74.48 L582.33,74.39 L582.81,74.23 L583.29,74.03 L583.78,73.81 L584.26,73.59 L584.74,73.39 L585.23,73.21 L585.71,73.07 L586.19,72.96 L586.67,72.87 L587.16,72.81 L587.64,72.77 L588.12,72.76 L588.61,72.78 L589.09,72.81 L589.57,72.88 L590.05,72.97 L590.54,73.09 L591.02,73.25 L591.50,73.44 L591.98,73.68 L592.47,73.97 L592.95,74.31 L593.43,74.69 L593.92,75.11 L594.40,75.53 L594.88,75.92 L595.36,76.21 L595.85,76.37 L596.33,76.34 L596.81,76.15 L597.29,75.83 L597.78,75.43 L598.26,75.01 L598.74,74.61 L599.23,74.25 L599.71,73.94 L600.19,73.68 L600.67,73.48 L601.16,73.33 L601.64,73.23 L602.12,73.16 L602.60,73.15 L603.09,73.17 L603.57,73.24 L604.05,73.36 L604.54,73.52 L605.02,73.74 L605.50,74.03 L605.98,74.37 L606.47,74.79 L606.95,75.28 L607.43,75.82 L607.91,76.39 L608.40,76.93 L608.88,77.38 L609.36,77.65 L609.85,77.69 L610.33,77.48 L610.81,77.06 L611.29,76.49 L611.78,75.85 L612.26,75.22 L612.74,74.62 L613.23,74.08 L613.71,73.61 L614.19,73.19 L614.67,72.84 L615.16,72.53 L615.64,72.27 L616.12,72.05 L616.60,71.85 L617.09,71.68 L617.57,71.54 L618.05,71.41 L618.54,71.29 L619.02,71.19 L619.50,71.10 L619.98,71.02 L620.47,70.95 L620.95,70.88 L621.43,70.82 L621.91,70.77 L622.40,70.72 L622.88,70.68 L623.36,70.63 L623.85,70.60 L624.33,70.56 L624.81,70.53 L625.29,70.50 L625.78,70.47 L626.26,70.44 L626.74,70.41 L627.23,70.39 L627.71,70.37 L628.19,70.35 L628.67,70.33 L629.16,70.31 L629.64,70.29 L630.12,70.27 L630.60,70.26 L631.09,70.24 L631.57,70.23 L632.05,70.21 L632.54,70.20 L633.02,70.19 L633.50,70.17 L633.98,70.16 L634.47,70.15 L634.95,70.14 L635.43,70.13 L635.91,70.12 L636.40,70.11 L636.88,70.10 L637.36,70.09 L637.85,70.08 L638.33,70.07 L638.81,70.06 L639.29,70.05 L639.78,70.05 L640.26,70.04 L640.74,70.03 L641.22,70.02 L641.71,70.02 L642.19,70.01 L642.67,70.00 L643.16,70.00 L643.64,69.99 L644.12,69.99 L644.60,69.98 L645.09,69.97 L645.57,69.97 L646.05,69.96 L646.53,69.96 L647.02,69.95 L647.50,69.95 L647.98,69.94 L648.47,69.94 L648.95,69.93 L649.43,69.93 L649.91,69.92 L650.40,69.92 L650.88,69.92 L651.36,69.91 L651.85,69.91 L652.33,69.90 L652.81,69.90 L653.29,69.89 L653.78,69.89 L654.26,69.89 L654.74,69.88 L655.22,69.88 L655.71,69.88 L656.19,69.87 L656.67,69.87 L657.16,69.87 L657.64,69.86 L658.12,69.86 L658.60,69.86 L659.09,69.85 L659.57,69.85 L660.05,69.85 L660.53,69.85 L661.02,69.84 L661.50,69.84 L661.98,69.84 L662.47,69.83 L662.95,69.83 L663.43,69.83 L663.91,69.83 L664.40,69.82 L664.88,69.82 L665.36,69.82 L665.85,69.82 L666.33,69.81 L666.81,69.81 L667.29,69.81 L667.78,69.81 L668.26,69.81 L668.74,69.80 L669.22,69.80 L669.71,69.80 L670.19,69.80 L670.67,69.79 L671.16,69.79 L671.64,69.79 L672.12,69.79 L672.60,69.79 L673.09,69.79 L673.57,69.78 L674.05,69.78 L674.53,69.78 L675.02,69.78 L675.50,69.78" fill="none" stroke="#3fae6a" stroke-width="1.0" stroke-linejoin="round"/>
<path d="M482.40,84.79 L482.88,84.79 L483.37,84.80 L483.85,84.80 L484.33,84.80 L484.81,84.81 L485.30,84.81 L485.78,84.82 L486.26,84.82 L486.74,84.83 L487.23,84.83 L487.71,84.84 L488.19,84.85 L488.68,84.85 L489.16,84.86 L489.64,84.87 L490.12,84.88 L490.61,84.89 L491.09,84.90 L491.57,84.91 L492.05,84.92 L492.54,84.94 L493.02,84.95 L493.50,84.97 L493.99,84.98 L494.47,85.00 L494.95,85.03 L495.43,85.05 L495.92,85.08 L496.40,85.11 L496.88,85.15 L497.37,85.19 L497.85,85.24 L498.33,85.30 L498.81,85.36 L499.30,85.44 L499.78,85.53 L500.26,85.64 L500.74,85.78 L501.23,85.94 L501.71,86.14 L502.19,86.39 L502.68,86.71 L503.16,87.10 L503.64,87.58 L504.12,88.17 L504.61,88.83 L505.09,89.51 L505.57,90.09 L506.05,90.38 L506.54,90.29 L507.02,89.85 L507.50,89.21 L507.99,88.52 L508.47,87.90 L508.95,87.36 L509.43,86.93 L509.92,86.58 L510.40,86.30 L510.88,86.08 L511.37,85.90 L511.85,85.76 L512.33,85.64 L512.81,85.54 L513.30,85.46 L513.78,85.40 L514.26,85.34 L514.74,85.29 L515.23,85.25 L515.71,85.22 L516.19,85.19 L516.68,85.16 L517.16,85.14 L517.64,85.12 L518.12,85.11 L518.61,85.09 L519.09,85.08 L519.57,85.07 L520.05,85.07 L520.54,85.06 L521.02,85.06 L521.50,85.05 L521.99,85.05 L522.47,85.05 L522.95,85.05 L523.43,85.05 L523.92,85.05 L524.40,85.06 L524.88,85.06 L525.36,85.07 L525.85,85.08 L526.33,85.09 L526.81,85.10 L527.30,85.11 L527.78,85.12 L528.26,85.14 L528.74,85.16 L529.23,85.19 L529.71,85.21 L530.19,85.25 L530.67,85.29 L531.16,85.33 L531.64,85.39 L532.12,85.45 L532.61,85.54 L533.09,85.63 L533.57,85.75 L534.05,85.90 L534.54,86.09 L535.02,86.33 L535.50,86.62 L535.99,86.97 L536.47,87.39 L536.95,87.83 L537.43,88.23 L537.92,88.49 L538.40,88.51 L538.88,88.29 L539.36,87.91 L539.85,87.47 L540.33,87.05 L540.81,86.69 L541.30,86.39 L541.78,86.15 L542.26,85.96 L542.74,85.80 L543.23,85.68 L543.71,85.58 L544.19,85.50 L544.67,85.44 L545.16,85.38 L545.64,85.34 L546.12,85.30 L546.61,85.27 L547.09,85.24 L547.57,85.22 L548.05,85.20 L548.54,85.18 L549.02,85.17 L549.50,85.16 L549.99,85.15 L550.47,85.14 L550.95,85.13 L551.43,85.13 L551.92,85.12 L552.40,85.12 L552.88,85.12 L553.36,85.12 L553.85,85.11 L554.33,85.11 L554.81,85.11 L555.30,85.12 L555.78,85.12 L556.26,85.12 L556.74,85.13 L557.23,85.13 L557.71,85.14 L558.19,85.14 L558.67,85.15 L559.16,85.16 L559.64,85.17 L560.12,85.18 L560.61,85.20 L561.09,85.22 L561.57,85.24 L562.05,85.26 L562.54,85.29 L563.02,85.33 L563.50,85.37 L563.98,85.42 L564.47,85.49 L564.95,85.57 L565.43,85.67 L565.92,85.79 L566.40,85.94 L566.88,86.13 L567.36,86.35 L567.85,86.58 L568.33,86.80 L568.81,86.93 L569.29,86.94 L569.78,86.83 L570.26,86.63 L570.74,86.40 L571.23,86.18 L571.71,85.99 L572.19,85.83 L572.67,85.70 L573.16,85.60 L573.64,85.52 L574.12,85.46 L574.61,85.41 L575.09,85.37 L575.57,85.33 L576.05,85.31 L576.54,85.28 L577.02,85.26 L577.50,85.25 L577.98,85.24 L578.47,85.23 L578.95,85.22 L579.43,85.21 L579.92,85.21 L580.40,85.21 L580.88,85.21 L581.36,85.21 L581.85,85.21 L582.33,85.21 L582.81,85.22 L583.29,85.23 L583.78,85.24 L584.26,85.25 L584.74,85.26 L585.23,85.28 L585.71,85.30 L586.19,85.33 L586.67,85.36 L587.16,85.41 L587.64,85.46 L588.12,85.52 L588.61,85.60 L589.09,85.70 L589.57,85.83 L590.05,85.98 L590.54,86.17 L591.02,86.39 L591.50,86.62 L591.98,86.82 L592.47,86.94 L592.95,86.93 L593.43,86.79 L593.92,86.58 L594.40,86.35 L594.88,86.13 L595.36,85.94 L595.85,85.79 L596.33,85.66 L596.81,85.56 L597.29,85.48 L597.78,85.42 L598.26,85.37 L598.74,85.32 L599.23,85.29 L599.71,85.26 L600.19,85.23 L600.67,85.21 L601.16,85.19 L601.64,85.18 L602.12,85.17 L602.60,85.16 L603.09,85.15 L603.57,85.14 L604.05,85.13 L604.54,85.13 L605.02,85.12 L605.50,85.12 L605.98,85.11 L606.47,85.11 L606.95,85.11 L607.43,85.11 L607.91,85.11 L608.40,85.11 L608.88,85.11 L609.36,85.12 L609.85,85.12 L610.33,85.13 L610.81,85.13 L611.29,85.14 L611.78,85.15 L612.26,85.16 L612.74,85.17 L613.23,85.19 L613.71,85.20 L614.19,85.22 L614.67,85.25 L615.16,85.28 L615.64,85.31 L616.12,85.35 L616.60,85.40 L617.09,85.46 L617.57,85.53 L618.05,85.62 L618.54,85.73 L619.02,85.86 L619.50,86.03 L619.98,86.24 L620.47,86.50 L620.95,86.83 L621.43,87.22 L621.91,87.65 L622.40,88.08 L622.88,88.40 L623.36,88.53 L623.85,88.40 L624.33,88.07 L624.81,87.64 L625.29,87.21 L625.78,86.82 L626.26,86.49 L626.74,86.22 L627.23,86.01 L627.71,85.84 L628.19,85.70 L628.67,85.59 L629.16,85.50 L629.64,85.43 L630.12,85.37 L630.60,85.32 L631.09,85.27 L631.57,85.24 L632.05,85.21 L632.54,85.18 L633.02,85.16 L633.50,85.14 L633.98,85.13 L634.47,85.11 L634.95,85.10 L635.43,85.09 L635.91,85.09 L636.40,85.08 L636.88,85.08 L637.36,85.08 L637.85,85.08 L638.33,85.08 L638.81,85.08 L639.29,85.08 L639.78,85.09 L640.26,85.09 L640.74,85.10 L641.22,85.11 L641.71,85.13 L642.19,85.14 L642.67,85.16 L643.16,85.18 L643.64,85.21 L644.12,85.24 L644.60,85.28 L645.09,85.32 L645.57,85.37 L646.05,85.43 L646.53,85.50 L647.02,85.59 L647.50,85.69 L647.98,85.82 L648.47,85.98 L648.95,86.18 L649.43,86.42 L649.91,86.72 L650.40,87.11 L650.88,87.58 L651.36,88.16 L651.85,88.81 L652.33,89.49 L652.81,90.07 L653.29,90.38 L653.78,90.30 L654.26,89.87 L654.74,89.24 L655.22,88.55 L655.71,87.91 L656.19,87.37 L656.67,86.93 L657.16,86.57 L657.64,86.28 L658.12,86.05 L658.60,85.87 L659.09,85.72 L659.57,85.60 L660.05,85.49 L660.53,85.41 L661.02,85.33 L661.50,85.27 L661.98,85.22 L662.47,85.18 L662.95,85.14 L663.43,85.10 L663.91,85.07 L664.40,85.04 L664.88,85.02 L665.36,85.00 L665.85,84.98 L666.33,84.96 L666.81,84.95 L667.29,84.93 L667.78,84.92 L668.26,84.91 L668.74,84.90 L669.22,84.89 L669.71,84.88 L670.19,84.87 L670.67,84.86 L671.16,84.85 L671.64,84.85 L672.12,84.84 L672.60,84.83 L673.09,84.83 L673.57,84.82 L674.05,84.82 L674.53,84.81 L675.02,84.81 L675.50,84.80" fill="none" stroke="#3a78dc" stroke-width="1.0" stroke-linejoin="round"/>
<path d="M482.40,97.41 L482.88,97.42 L483.37,97.43 L483.85,97.44 L484.33,97.45 L484.81,97.46 L485.30,97.47 L485.78,97.48 L486.26,97.50 L486.74,97.51 L487.23,97.53 L487.71,97.55 L488.19,97.58 L488.68,97.61 L489.16,97.64 L489.64,97.68 L490.12,97.73 L490.61,97.78 L491.09,97.85 L491.57,97.93 L492.05,98.04 L492.54,98.17 L493.02,98.33 L493.50,98.54 L493.99,98.82 L494.47,99.19 L494.95,99.67 L495.43,100.30 L495.92,101.08 L496.40,101.93 L496.88,102.65 L497.37,102.92 L497.85,102.59 L498.33,101.85 L498.81,100.99 L499.30,100.23 L499.78,99.62 L500.26,99.15 L500.74,98.80 L501.23,98.53 L501.71,98.32 L502.19,98.16 L502.68,98.04 L503.16,97.94 L503.64,97.86 L504.12,97.79 L504.61,97.74 L505.09,97.69 L505.57,97.66 L506.05,97.62 L506.54,97.60 L507.02,97.57 L507.50,97.55 L507.99,97.54 L508.47,97.52 L508.95,97.51 L509.43,97.50 L509.92,97.49 L510.40,97.48 L510.88,97.48 L511.37,97.47 L511.85,97.46 L512.33,97.46 L512.81,97.46 L513.30,97.45 L513.78,97.45 L514.26,97.45 L514.74,97.45 L515.23,97.45 L515.71,97.45 L516.19,97.46 L516.68,97.46 L517.16,97.46 L517.64,97.47 L518.12,97.47 L518.61,97.48 L519.09,97.49 L519.57,97.50 L520.05,97.51 L520.54,97.52 L521.02,97.54 L521.50,97.55 L521.99,97.58 L522.47,97.60 L522.95,97.63 L523.43,97.67 L523.92,97.71 L524.40,97.77 L524.88,97.83 L525.36,97.91 L525.85,98.02 L526.33,98.15 L526.81,98.33 L527.30,98.56 L527.78,98.86 L528.26,99.26 L528.74,99.77 L529.23,100.39 L529.71,101.02 L530.19,101.46 L530.67,101.49 L531.16,101.10 L531.64,100.49 L532.12,99.86 L532.61,99.33 L533.09,98.91 L533.57,98.60 L534.05,98.36 L534.54,98.17 L535.02,98.03 L535.50,97.92 L535.99,97.84 L536.47,97.77 L536.95,97.71 L537.43,97.66 L537.92,97.63 L538.40,97.59 L538.88,97.57 L539.36,97.54 L539.85,97.52 L540.33,97.51 L540.81,97.49 L541.30,97.48 L541.78,97.47 L542.26,97.46 L542.74,97.45 L543.23,97.44 L543.71,97.44 L544.19,97.43 L544.67,97.43 L545.16,97.42 L545.64,97.42 L546.12,97.42 L546.61,97.41 L547.09,97.41 L547.57,97.41 L548.05,97.41 L548.54,97.41 L549.02,97.41 L549.50,97.41 L549.99,97.41 L550.47,97.41 L550.95,97.41 L551.43,97.41 L551.92,97.42 L552.40,97.42 L552.88,97.42 L553.36,97.43 L553.85,97.43 L554.33,97.44 L554.81,97.45 L555.30,97.46 L555.78,97.47 L556.26,97.49 L556.74,97.50 L557.23,97.52 L557.71,97.55 L558.19,97.58 L558.67,97.62 L559.16,97.67 L559.64,97.73 L560.12,97.81 L560.61,97.92 L561.09,98.06 L561.57,98.25 L562.05,98.49 L562.54,98.78 L563.02,99.10 L563.50,99.36 L563.98,99.44 L564.47,99.29 L564.95,99.00 L565.43,98.69 L565.92,98.41 L566.40,98.18 L566.88,98.01 L567.36,97.88 L567.85,97.79 L568.33,97.71 L568.81,97.65 L569.29,97.61 L569.78,97.57 L570.26,97.54 L570.74,97.52 L571.23,97.50 L571.71,97.48 L572.19,97.47 L572.67,97.46 L573.16,97.45 L573.64,97.45 L574.12,97.44 L574.61,97.44 L575.09,97.43 L575.57,97.43 L576.05,97.43 L576.54,97.43 L577.02,97.43 L577.50,97.43 L577.98,97.43 L578.47,97.43 L578.95,97.44 L579.43,97.44 L579.92,97.45 L580.40,97.46 L580.88,97.47 L581.36,97.48 L581.85,97.49 L582.33,97.51 L582.81,97.53 L583.29,97.56 L583.78,97.59 L584.26,97.63 L584.74,97.68 L585.23,97.74 L585.71,97.83 L586.19,97.94 L586.67,98.09 L587.16,98.28 L587.64,98.53 L588.12,98.83 L588.61,99.15 L589.09,99.39 L589.57,99.43 L590.05,99.25 L590.54,98.95 L591.02,98.64 L591.50,98.36 L591.98,98.15 L592.47,97.99 L592.95,97.86 L593.43,97.77 L593.92,97.70 L594.40,97.64 L594.88,97.60 L595.36,97.56 L595.85,97.53 L596.33,97.51 L596.81,97.49 L597.29,97.48 L597.78,97.46 L598.26,97.45 L598.74,97.44 L599.23,97.44 L599.71,97.43 L600.19,97.42 L600.67,97.42 L601.16,97.42 L601.64,97.41 L602.12,97.41 L602.60,97.41 L603.09,97.41 L603.57,97.41 L604.05,97.40 L604.54,97.40 L605.02,97.41 L605.50,97.41 L605.98,97.41 L606.47,97.41 L606.95,97.41 L607.43,97.41 L607.91,97.42 L608.40,97.42 L608.88,97.42 L609.36,97.43 L609.85,97.43 L610.33,97.44 L610.81,97.45 L611.29,97.46 L611.78,97.47 L612.26,97.48 L612.74,97.49 L613.23,97.50 L613.71,97.52 L614.19,97.54 L614.67,97.56 L615.16,97.59 L615.64,97.62 L616.12,97.66 L616.60,97.71 L617.09,97.76 L617.57,97.83 L618.05,97.92 L618.54,98.03 L619.02,98.18 L619.50,98.36 L619.98,98.61 L620.47,98.93 L620.95,99.36 L621.43,99.89 L621.91,100.50 L622.40,101.05 L622.88,101.33 L623.36,101.18 L623.85,100.69 L624.33,100.08 L624.81,99.52 L625.29,99.06 L625.78,98.71 L626.26,98.44 L626.74,98.23 L627.23,98.08 L627.71,97.96 L628.19,97.87 L628.67,97.79 L629.16,97.73 L629.64,97.68 L630.12,97.64 L630.60,97.61 L631.09,97.58 L631.57,97.56 L632.05,97.54 L632.54,97.52 L633.02,97.51 L633.50,97.50 L633.98,97.49 L634.47,97.48 L634.95,97.47 L635.43,97.47 L635.91,97.46 L636.40,97.46 L636.88,97.46 L637.36,97.45 L637.85,97.45 L638.33,97.45 L638.81,97.45 L639.29,97.45 L639.78,97.46 L640.26,97.46 L640.74,97.46 L641.22,97.46 L641.71,97.47 L642.19,97.48 L642.67,97.48 L643.16,97.49 L643.64,97.50 L644.12,97.51 L644.60,97.52 L645.09,97.54 L645.57,97.56 L646.05,97.58 L646.53,97.60 L647.02,97.63 L647.50,97.66 L647.98,97.70 L648.47,97.74 L648.95,97.80 L649.43,97.86 L649.91,97.95 L650.40,98.05 L650.88,98.18 L651.36,98.34 L651.85,98.55 L652.33,98.83 L652.81,99.19 L653.29,99.68 L653.78,100.30 L654.26,101.08 L654.74,101.93 L655.22,102.65 L655.71,102.92 L656.19,102.59 L656.67,101.84 L657.16,100.99 L657.64,100.23 L658.12,99.61 L658.60,99.14 L659.09,98.79 L659.57,98.52 L660.05,98.31 L660.53,98.15 L661.02,98.03 L661.50,97.92 L661.98,97.84 L662.47,97.78 L662.95,97.72 L663.43,97.67 L663.91,97.64 L664.40,97.60 L664.88,97.57 L665.36,97.55 L665.85,97.53 L666.33,97.51 L666.81,97.49 L667.29,97.48 L667.78,97.47 L668.26,97.45 L668.74,97.44 L669.22,97.43 L669.71,97.43 L670.19,97.42 L670.67,97.41 L671.16,97.41 L671.64,97.40 L672.12,97.39 L672.60,97.39 L673.09,97.39 L673.57,97.38 L674.05,97.38 L674.53,97.37 L675.02,97.37 L675.50,97.37" fill="none" stroke="#f05a5a" stroke-width="1.0" stroke-linejoin="round"/>
<g fill="#444"><rect x="482.50" y="104.05" width="1.0" height="1.0" opacity="0.68"/><rect x="482.84" y="107.21" width="1.0" height="1.0" opacity="0.74"/><rect x="483.19" y="105.93" width="1.0" height="1.0" opacity="0.85"/><rect x="483.53" y="109.13" width="1.0" height="1.0" opacity="0.60"/><rect x="483.87" y="110.83" width="1.0" height="1.0" opacity="0.47"/><rect x="484.21" y="103.12" width="1.0" height="1.0" opacity="0.93"/><rect x="484.56" y="108.60" width="1.0" height="1.0" opacity="0.46"/><rect x="484.90" y="108.80" width="1.0" height="1.0" opacity="0.48"/><rect x="485.24" y="109.85" width="1.0" height="1.0" opacity="0.68"/><rect x="485.59" y="110.50" width="1.0" height="1.0" opacity="0.87"/><rect x="485.93" y="108.20" width="1.0" height="1.0" opacity="0.78"/><rect x="486.27" y="107.90" width="1.0" height="1.0" opacity="0.59"/><rect x="486.61" y="118.79" width="1.0" height="1.0" opacity="0.80"/><rect x="486.96" y="110.13" width="1.0" height="1.0" opacity="0.56"/><rect x="487.30" y="114.05" width="1.0" height="1.0" opacity="0.65"/><rect x="487.64" y="113.71" width="1.0" height="1.0" opacity="0.64"/><rect x="487.99" y="110.61" width="1.0" height="1.0" opacity="0.55"/><rect x="488.33" y="110.49" width="1.0" height="1.0" opacity="0.68"/><rect x="488.67" y="109.33" width="1.0" height="1.0" opacity="0.76"/><rect x="489.01" y="111.42" width="1.0" height="1.0" opacity="0.58"/><rect x="489.36" y="107.91" width="1.0" height="1.0" opacity="0.83"/><rect x="489.70" y="116.48" width="1.0" height="1.0" opacity="0.57"/><rect x="490.04" y="115.22" width="1.0" height="1.0" opacity="0.54"/><rect x="490.39" y="112.93" width="1.0" height="1.0" opacity="0.67"/><rect x="490.73" y="111.33" width="1.0" height="1.0" opacity="0.77"/><rect x="491.07" y="110.34" width="1.0" height="1.0" opacity="0.66"/><rect x="491.41" y="110.94" width="1.0" height="1.0" opacity="0.85"/><rect x="491.76" y="118.19" width="1.0" height="1.0" opacity="0.89"/><rect x="492.10" y="108.27" width="1.0" height="1.0" opacity="0.77"/><rect x="492.44" y="115.00" width="1.0" height="1.0" opacity="0.94"/><rect x="492.79" y="112.01" width="1.0" height="1.0" opacity="0.61"/><rect x="493.13" y="116.47" width="1.0" height="1.0" opacity="0.49"/><rect x="493.47" y="110.92" width="1.0" height="1.0" opacity="0.75"/><rect x="493.81" y="111.71" width="1.0" height="1.0" opacity="0.68"/><rect x="494.16" y="106.89" width="1.0" height="1.0" opacity="0.88"/><rect x="494.50" y="113.32" width="1.0" height="1.0" opacity="0.53"/><rect x="494.84" y="114.67" width="1.0" height="1.0" opacity="0.54"/><rect x="495.19" y="111.87" width="1.0" height="1.0" opacity="0.92"/><rect x="495.53" y="118.51" width="1.0" height="1.0" opacity="0.75"/><rect x="495.87" y="112.51" width="1.0" height="1.0" opacity="0.50"/><rect x="496.21" y="116.03" width="1.0" height="1.0" opacity="0.80"/><rect x="496.56" y="114.15" width="1.0" height="1.0" opacity="0.86"/><rect x="496.90" y="114.42" width="1.0" height="1.0" opacity="0.81"/><rect x="497.24" y="116.21" width="1.0" height="1.0" opacity="0.56"/><rect x="497.59" y="116.59" width="1.0" height="1.0" opacity="0.59"/><rect x="497.93" y="109.47" width="1.0" height="1.0" opacity="0.55"/><rect x="498.27" y="113.95" width="1.0" height="1.0" opacity="0.48"/><rect x="498.61" y="116.68" width="1.0" height="1.0" opacity="0.63"/><rect x="498.96" y="115.46" width="1.0" height="1.0" opacity="0.90"/><rect x="499.30" y="116.89" width="1.0" height="1.0" opacity="0.78"/><rect x="499.64" y="112.44" width="1.0" height="1.0" opacity="0.47"/><rect x="499.99" y="112.74" width="1.0" height="1.0" opacity="0.91"/><rect x="500.33" y="113.72" width="1.0" height="1.0" opacity="0.77"/><rect x="500.67" y="112.95" width="1.0" height="1.0" opacity="0.82"/><rect x="501.01" y="113.84" width="1.0" height="1.0" opacity="0.72"/><rect x="501.36" y="112.72" width="1.0" height="1.0" opacity="0.90"/><rect x="501.70" y="111.48" width="1.0" height="1.0" opacity="0.91"/><rect x="502.04" y="108.62" width="1.0" height="1.0" opacity="0.79"/><rect x="502.39" y="115.92" width="1.0" height="1.0" opacity="0.85"/><rect x="502.73" y="109.31" width="1.0" height="1.0" opacity="0.74"/><rect x="503.07" y="110.36" width="1.0" height="1.0" opacity="0.75"/><rect x="503.41" y="114.84" width="1.0" height="1.0" opacity="0.77"/><rect x="503.76" y="117.99" width="1.0" height="1.0" opacity="0.64"/><rect x="504.10" y="110.04" width="1.0" height="1.0" opacity="0.74"/><rect x="504.44" y="113.23" width="1.0" height="1.0" opacity="0.83"/><rect x="504.79" y="111.85" width="1.0" height="1.0" opacity="0.75"/><rect x="505.13" y="113.16" width="1.0" height="1.0" opacity="0.70"/><rect x="505.47" y="116.39" width="1.0" height="1.0" opacity="0.91"/><rect x="505.81" y="114.73" width="1.0" height="1.0" opacity="0.79"/><rect x="506.16" y="112.84" width="1.0" height="1.0" opacity="0.53"/><rect x="506.50" y="110.10" width="1.0" height="1.0" opacity="0.90"/><rect x="506.84" y="110.51" width="1.0" height="1.0" opacity="0.78"/><rect x="507.19" y="108.76" width="1.0" height="1.0" opacity="0.91"/><rect x="507.53" y="116.13" width="1.0" height="1.0" opacity="0.64"/><rect x="507.87" y="112.17" width="1.0" height="1.0" opacity="0.70"/><rect x="508.21" y="114.93" width="1.0" height="1.0" opacity="0.87"/><rect x="508.56" y="114.54" width="1.0" height="1.0" opacity="0.53"/><rect x="508.90" y="112.04" width="1.0" height="1.0" opacity="0.59"/><rect x="509.24" y="109.64" width="1.0" height="1.0" opacity="0.70"/><rect x="509.59" y="114.14" width="1.0" height="1.0" opacity="0.87"/><rect x="509.93" y="110.60" width="1.0" height="1.0" opacity="0.47"/><rect x="510.27" y="112.70" width="1.0" height="1.0" opacity="0.47"/><rect x="510.61" y="110.21" width="1.0" height="1.0" opacity="0.85"/><rect x="510.96" y="111.07" width="1.0" height="1.0" opacity="0.52"/><rect x="511.30" y="116.30" width="1.0" height="1.0" opacity="0.57"/><rect x="511.64" y="112.43" width="1.0" height="1.0" opacity="0.47"/><rect x="511.99" y="108.42" width="1.0" height="1.0" opacity="0.78"/><rect x="512.33" y="113.60" width="1.0" height="1.0" opacity="0.93"/><rect x="512.67" y="112.24" width="1.0" height="1.0" opacity="0.54"/><rect x="513.01" y="113.87" width="1.0" height="1.0" opacity="0.69"/><rect x="513.36" y="111.99" width="1.0" height="1.0" opacity="0.62"/><rect x="513.70" y="112.78" width="1.0" height="1.0" opacity="0.71"/><rect x="514.04" y="111.03" width="1.0" height="1.0" opacity="0.85"/><rect x="514.39" y="106.33" width="1.0" height="1.0" opacity="0.49"/><rect x="514.73" y="110.30" width="1.0" height="1.0" opacity="0.68"/><rect x="515.07" y="109.35" width="1.0" height="1.0" opacity="0.90"/><rect x="515.41" y="106.01" width="1.0" height="1.0" opacity="0.85"/><rect x="515.76" y="106.50" width="1.0" height="1.0" opacity="0.68"/><rect x="516.10" y="111.34" width="1.0" height="1.0" opacity="0.86"/><rect x="516.44" y="113.84" width="1.0" height="1.0" opacity="0.81"/><rect x="516.79" y="115.48" width="1.0" height="1.0" opacity="0.94"/><rect x="517.13" y="105.96" width="1.0" height="1.0" opacity="0.85"/><rect x="517.47" y="113.80" width="1.0" height="1.0" opacity="0.62"/><rect x="517.81" y="107.32" width="1.0" height="1.0" opacity="0.67"/><rect x="518.16" y="110.23" width="1.0" height="1.0" opacity="0.46"/><rect x="518.50" y="104.80" width="1.0" height="1.0" opacity="0.48"/><rect x="518.84" y="111.04" width="1.0" height="1.0" opacity="0.84"/><rect x="519.19" y="112.01" width="1.0" height="1.0" opacity="0.52"/><rect x="519.53" y="109.39" width="1.0" height="1.0" opacity="0.79"/><rect x="519.87" y="101.71" width="1.0" height="1.0" opacity="0.70"/><rect x="520.21" y="113.00" width="1.0" height="1.0" opacity="0.71"/><rect x="520.56" y="111.20" width="1.0" height="1.0" opacity="0.81"/><rect x="520.90" y="105.81" width="1.0" height="1.0" opacity="0.73"/><rect x="521.24" y="109.79" width="1.0" height="1.0" opacity="0.64"/><rect x="521.59" y="113.00" width="1.0" height="1.0" opacity="0.88"/><rect x="521.93" y="108.76" width="1.0" height="1.0" opacity="0.71"/><rect x="522.27" y="111.52" width="1.0" height="1.0" opacity="0.70"/><rect x="522.61" y="113.52" width="1.0" height="1.0" opacity="0.46"/><rect x="522.96" y="106.21" width="1.0" height="1.0" opacity="0.85"/><rect x="523.30" y="110.56" width="1.0" height="1.0" opacity="0.70"/><rect x="523.64" y="113.59" width="1.0" height="1.0" opacity="0.66"/><rect x="523.99" y="113.17" width="1.0" height="1.0" opacity="0.91"/><rect x="524.33" y="109.74" width="1.0" height="1.0" opacity="0.67"/><rect x="524.67" y="111.43" width="1.0" height="1.0" opacity="0.90"/><rect x="525.01" y="110.45" width="1.0" height="1.0" opacity="0.76"/><rect x="525.36" y="113.83" width="1.0" height="1.0" opacity="0.51"/><rect x="525.70" y="112.77" width="1.0" height="1.0" opacity="0.56"/><rect x="526.04" y="111.50" width="1.0" height="1.0" opacity="0.61"/><rect x="526.39" y="110.52" width="1.0" height="1.0" opacity="0.82"/><rect x="526.73" y="110.65" width="1.0" height="1.0" opacity="0.71"/><rect x="527.07" y="112.46" width="1.0" height="1.0" opacity="0.67"/><rect x="527.41" y="114.38" width="1.0" height="1.0" opacity="0.66"/><rect x="527.76" y="112.54" width="1.0" height="1.0" opacity="0.77"/><rect x="528.10" y="113.12" width="1.0" height="1.0" opacity="0.71"/><rect x="528.44" y="105.06" width="1.0" height="1.0" opacity="0.57"/><rect x="528.79" y="108.86" width="1.0" height="1.0" opacity="0.86"/><rect x="529.13" y="110.42" width="1.0" height="1.0" opacity="0.91"/><rect x="529.47" y="113.99" width="1.0" height="1.0" opacity="0.95"/><rect x="529.81" y="114.38" width="1.0" height="1.0" opacity="0.81"/><rect x="530.16" y="113.56" width="1.0" height="1.0" opacity="0.50"/><rect x="530.50" y="105.32" width="1.0" height="1.0" opacity="0.51"/><rect x="530.84" y="114.41" width="1.0" height="1.0" opacity="0.79"/><rect x="531.19" y="113.59" width="1.0" height="1.0" opacity="0.91"/><rect x="531.53" y="119.06" width="1.0" height="1.0" opacity="0.51"/><rect x="531.87" y="112.79" width="1.0" height="1.0" opacity="0.79"/><rect x="532.21" y="109.94" width="1.0" height="1.0" opacity="0.49"/><rect x="532.56" y="115.95" width="1.0" height="1.0" opacity="0.71"/><rect x="532.90" y="113.92" width="1.0" height="1.0" opacity="0.52"/><rect x="533.24" y="114.74" width="1.0" height="1.0" opacity="0.95"/><rect x="533.59" y="121.91" width="1.0" height="1.0" opacity="0.50"/><rect x="533.93" y="116.42" width="1.0" height="1.0" opacity="0.83"/><rect x="534.27" y="113.28" width="1.0" height="1.0" opacity="0.68"/><rect x="534.61" y="111.36" width="1.0" height="1.0" opacity="0.46"/><rect x="534.96" y="115.91" width="1.0" height="1.0" opacity="0.87"/><rect x="535.30" y="110.97" width="1.0" height="1.0" opacity="0.65"/><rect x="535.64" y="116.08" width="1.0" height="1.0" opacity="0.53"/><rect x="535.99" y="120.23" width="1.0" height="1.0" opacity="0.85"/><rect x="536.33" y="115.89" width="1.0" height="1.0" opacity="0.88"/><rect x="536.67" y="112.94" width="1.0" height="1.0" opacity="0.70"/><rect x="537.01" y="119.27" width="1.0" height="1.0" opacity="0.85"/><rect x="537.36" y="119.42" width="1.0" height="1.0" opacity="0.84"/><rect x="537.70" y="112.34" width="1.0" height="1.0" opacity="0.65"/><rect x="538.04" y="121.56" width="1.0" height="1.0" opacity="0.83"/><rect x="538.39" y="114.25" width="1.0" height="1.0" opacity="0.65"/><rect x="538.73" y="119.04" width="1.0" height="1.0" opacity="0.68"/><rect x="539.07" y="118.27" width="1.0" height="1.0" opacity="0.63"/><rect x="539.41" y="116.36" width="1.0" height="1.0" opacity="0.92"/><rect x="539.76" y="116.65" width="1.0" height="1.0" opacity="0.62"/><rect x="540.10" y="115.46" width="1.0" height="1.0" opacity="0.64"/><rect x="540.44" y="116.07" width="1.0" height="1.0" opacity="0.77"/><rect x="540.79" y="119.19" width="1.0" height="1.0" opacity="0.46"/><rect x="541.13" y="112.27" width="1.0" height="1.0" opacity="0.82"/><rect x="541.47" y="118.61" width="1.0" height="1.0" opacity="0.55"/><rect x="541.81" y="119.96" width="1.0" height="1.0" opacity="0.50"/><rect x="542.16" y="122.30" width="1.0" height="1.0" opacity="0.70"/><rect x="542.50" y="116.88" width="1.0" height="1.0" opacity="0.73"/><rect x="542.84" y="115.03" width="1.0" height="1.0" opacity="0.49"/><rect x="543.19" y="117.27" width="1.0" height="1.0" opacity="0.83"/><rect x="543.53" y="122.15" width="1.0" height="1.0" opacity="0.69"/><rect x="543.87" y="120.54" width="1.0" height="1.0" opacity="0.70"/><rect x="544.21" y="126.82" width="1.0" height="1.0" opacity="0.66"/><rect x="544.56" y="123.77" width="1.0" height="1.0" opacity="0.75"/><rect x="544.90" y="121.18" width="1.0" height="1.0" opacity="0.73"/><rect x="545.24" y="125.59" width="1.0" height="1.0" opacity="0.81"/><rect x="545.59" y="123.80" width="1.0" height="1.0" opacity="0.47"/><rect x="545.93" y="121.99" width="1.0" height="1.0" opacity="0.83"/><rect x="546.27" y="124.85" width="1.0" height="1.0" opacity="0.48"/><rect x="546.61" y="117.01" width="1.0" height="1.0" opacity="0.92"/><rect x="546.96" y="123.43" width="1.0" height="1.0" opacity="0.69"/><rect x="547.30" y="118.48" width="1.0" height="1.0" opacity="0.57"/><rect x="547.64" y="124.53" width="1.0" height="1.0" opacity="0.68"/><rect x="547.99" y="118.04" width="1.0" height="1.0" opacity="0.86"/><rect x="548.33" y="123.15" width="1.0" height="1.0" opacity="0.68"/><rect x="548.67" y="122.69" width="1.0" height="1.0" opacity="0.48"/><rect x="549.01" y="122.14" width="1.0" height="1.0" opacity="0.78"/><rect x="549.36" y="121.95" width="1.0" height="1.0" opacity="0.58"/><rect x="549.70" y="116.31" width="1.0" height="1.0" opacity="0.72"/><rect x="550.04" y="123.56" width="1.0" height="1.0" opacity="0.93"/><rect x="550.39" y="119.69" width="1.0" height="1.0" opacity="0.90"/><rect x="550.73" y="120.61" width="1.0" height="1.0" opacity="0.76"/><rect x="551.07" y="118.90" width="1.0" height="1.0" opacity="0.73"/><rect x="551.41" y="123.43" width="1.0" height="1.0" opacity="0.77"/><rect x="551.76" y="120.91" width="1.0" height="1.0" opacity="0.94"/><rect x="552.10" y="123.83" width="1.0" height="1.0" opacity="0.89"/><rect x="552.44" y="122.86" width="1.0" height="1.0" opacity="0.66"/><rect x="552.79" y="122.22" width="1.0" height="1.0" opacity="0.50"/><rect x="553.13" y="122.85" width="1.0" height="1.0" opacity="0.79"/><rect x="553.47" y="122.81" width="1.0" height="1.0" opacity="0.77"/><rect x="553.81" y="121.15" width="1.0" height="1.0" opacity="0.62"/><rect x="554.16" y="123.43" width="1.0" height="1.0" opacity="0.87"/><rect x="554.50" y="126.82" width="1.0" height="1.0" opacity="0.76"/><rect x="554.84" y="127.04" width="1.0" height="1.0" opacity="0.56"/><rect x="555.19" y="124.26" width="1.0" height="1.0" opacity="0.63"/><rect x="555.53" y="129.27" width="1.0" height="1.0" opacity="0.94"/><rect x="555.87" y="121.54" width="1.0" height="1.0" opacity="0.91"/><rect x="556.21" y="124.56" width="1.0" height="1.0" opacity="0.63"/><rect x="556.56" y="126.86" width="1.0" height="1.0" opacity="0.49"/><rect x="556.90" y="125.91" width="1.0" height="1.0" opacity="0.69"/><rect x="557.24" y="125.18" width="1.0" height="1.0" opacity="0.49"/><rect x="557.59" y="130.22" width="1.0" height="1.0" opacity="0.78"/><rect x="557.93" y="124.81" width="1.0" height="1.0" opacity="0.80"/><rect x="558.27" y="129.56" width="1.0" height="1.0" opacity="0.52"/><rect x="558.61" y="125.41" width="1.0" height="1.0" opacity="0.51"/><rect x="558.96" y="123.32" width="1.0" height="1.0" opacity="0.73"/><rect x="559.30" y="134.67" width="1.0" height="1.0" opacity="0.67"/><rect x="559.64" y="121.58" width="1.0" height="1.0" opacity="0.60"/><rect x="559.99" y="120.55" width="1.0" height="1.0" opacity="0.90"/><rect x="560.33" y="128.22" width="1.0" height="1.0" opacity="0.63"/><rect x="560.67" y="123.17" width="1.0" height="1.0" opacity="0.64"/><rect x="561.01" y="126.39" width="1.0" height="1.0" opacity="0.73"/><rect x="561.36" y="119.98" width="1.0" height="1.0" opacity="0.73"/><rect x="561.70" y="123.08" width="1.0" height="1.0" opacity="0.83"/><rect x="562.04" y="123.88" width="1.0" height="1.0" opacity="0.71"/><rect x="562.39" y="124.39" width="1.0" height="1.0" opacity="0.73"/><rect x="562.73" y="119.00" width="1.0" height="1.0" opacity="0.48"/><rect x="563.07" y="120.03" width="1.0" height="1.0" opacity="0.84"/><rect x="563.41" y="126.81" width="1.0" height="1.0" opacity="0.90"/><rect x="563.76" y="125.14" width="1.0" height="1.0" opacity="0.77"/><rect x="564.10" y="122.96" width="1.0" height="1.0" opacity="0.57"/><rect x="564.44" y="119.81" width="1.0" height="1.0" opacity="0.83"/><rect x="564.79" y="123.90" width="1.0" height="1.0" opacity="0.62"/><rect x="565.13" y="119.59" width="1.0" height="1.0" opacity="0.79"/><rect x="565.47" y="120.74" width="1.0" height="1.0" opacity="0.80"/><rect x="565.81" y="123.20" width="1.0" height="1.0" opacity="0.66"/><rect x="566.16" y="120.86" width="1.0" height="1.0" opacity="0.85"/><rect x="566.50" y="118.03" width="1.0" height="1.0" opacity="0.89"/><rect x="566.84" y="122.58" width="1.0" height="1.0" opacity="0.81"/><rect x="567.19" y="122.23" width="1.0" height="1.0" opacity="0.66"/><rect x="567.53" y="129.25" width="1.0" height="1.0" opacity="0.95"/><rect x="567.87" y="130.39" width="1.0" height="1.0" opacity="0.53"/><rect x="568.21" y="125.88" width="1.0" height="1.0" opacity="0.93"/><rect x="568.56" y="128.96" width="1.0" height="1.0" opacity="0.60"/><rect x="568.90" y="126.47" width="1.0" height="1.0" opacity="0.54"/><rect x="569.24" y="126.59" width="1.0" height="1.0" opacity="0.68"/><rect x="569.59" y="131.44" width="1.0" height="1.0" opacity="0.50"/><rect x="569.93" y="131.51" width="1.0" height="1.0" opacity="0.56"/><rect x="570.27" y="132.18" width="1.0" height="1.0" opacity="0.56"/><rect x="570.61" y="130.65" width="1.0" height="1.0" opacity="0.59"/><rect x="570.96" y="134.88" width="1.0" height="1.0" opacity="0.72"/><rect x="571.30" y="131.86" width="1.0" height="1.0" opacity="0.69"/><rect x="571.64" y="140.76" width="1.0" height="1.0" opacity="0.62"/><rect x="571.99" y="134.24" width="1.0" height="1.0" opacity="0.93"/><rect x="572.33" y="138.10" width="1.0" height="1.0" opacity="0.92"/><rect x="572.67" y="138.47" width="1.0" height="1.0" opacity="0.64"/><rect x="573.01" y="134.24" width="1.0" height="1.0" opacity="0.95"/><rect x="573.36" y="135.06" width="1.0" height="1.0" opacity="0.57"/><rect x="573.70" y="132.07" width="1.0" height="1.0" opacity="0.85"/><rect x="574.04" y="133.84" width="1.0" height="1.0" opacity="0.75"/><rect x="574.39" y="133.71" width="1.0" height="1.0" opacity="0.58"/><rect x="574.73" y="135.48" width="1.0" height="1.0" opacity="0.71"/><rect x="575.07" y="133.72" width="1.0" height="1.0" opacity="0.72"/><rect x="575.41" y="131.40" width="1.0" height="1.0" opacity="0.84"/><rect x="575.76" y="133.16" width="1.0" height="1.0" opacity="0.86"/><rect x="576.10" y="126.62" width="1.0" height="1.0" opacity="0.58"/><rect x="576.44" y="132.71" width="1.0" height="1.0" opacity="0.68"/><rect x="576.79" y="133.72" width="1.0" height="1.0" opacity="0.74"/><rect x="577.13" y="129.00" width="1.0" height="1.0" opacity="0.66"/><rect x="577.47" y="139.97" width="1.0" height="1.0" opacity="0.50"/><rect x="577.81" y="134.79" width="1.0" height="1.0" opacity="0.71"/><rect x="578.16" y="137.10" width="1.0" height="1.0" opacity="0.87"/><rect x="578.50" y="134.69" width="1.0" height="1.0" opacity="0.60"/><rect x="578.84" y="136.79" width="1.0" height="1.0" opacity="0.81"/><rect x="579.19" y="136.33" width="1.0" height="1.0" opacity="0.65"/><rect x="579.53" y="136.57" width="1.0" height="1.0" opacity="0.93"/><rect x="579.87" y="138.08" width="1.0" height="1.0" opacity="0.64"/><rect x="580.21" y="139.02" width="1.0" height="1.0" opacity="0.57"/><rect x="580.56" y="139.07" width="1.0" height="1.0" opacity="0.95"/><rect x="580.90" y="138.63" width="1.0" height="1.0" opacity="0.55"/><rect x="581.24" y="137.09" width="1.0" height="1.0" opacity="0.72"/><rect x="581.59" y="139.07" width="1.0" height="1.0" opacity="0.62"/><rect x="581.93" y="135.03" width="1.0" height="1.0" opacity="0.55"/><rect x="582.27" y="133.49" width="1.0" height="1.0" opacity="0.61"/><rect x="582.61" y="127.56" width="1.0" height="1.0" opacity="0.62"/><rect x="582.96" y="130.59" width="1.0" height="1.0" opacity="0.50"/><rect x="583.30" y="135.49" width="1.0" height="1.0" opacity="0.80"/><rect x="583.64" y="133.83" width="1.0" height="1.0" opacity="0.65"/><rect x="583.99" y="129.50" width="1.0" height="1.0" opacity="0.56"/><rect x="584.33" y="129.87" width="1.0" height="1.0" opacity="0.51"/><rect x="584.67" y="134.61" width="1.0" height="1.0" opacity="0.66"/><rect x="585.01" y="131.45" width="1.0" height="1.0" opacity="0.77"/><rect x="585.36" y="129.41" width="1.0" height="1.0" opacity="0.62"/><rect x="585.70" y="125.56" width="1.0" height="1.0" opacity="0.46"/><rect x="586.04" y="124.91" width="1.0" height="1.0" opacity="0.84"/><rect x="586.39" y="119.86" width="1.0" height="1.0" opacity="0.75"/><rect x="586.73" y="124.57" width="1.0" height="1.0" opacity="0.78"/><rect x="587.07" y="126.88" width="1.0" height="1.0" opacity="0.64"/><rect x="587.41" y="125.35" width="1.0" height="1.0" opacity="0.76"/><rect x="587.76" y="119.40" width="1.0" height="1.0" opacity="0.83"/><rect x="588.10" y="120.02" width="1.0" height="1.0" opacity="0.70"/><rect x="588.44" y="123.64" width="1.0" height="1.0" opacity="0.81"/><rect x="588.79" y="117.49" width="1.0" height="1.0" opacity="0.87"/><rect x="589.13" y="124.49" width="1.0" height="1.0" opacity="0.92"/><rect x="589.47" y="125.47" width="1.0" height="1.0" opacity="0.57"/><rect x="589.81" y="126.38" width="1.0" height="1.0" opacity="0.80"/><rect x="590.16" y="127.76" width="1.0" height="1.0" opacity="0.68"/><rect x="590.50" y="125.01" width="1.0" height="1.0" opacity="0.94"/><rect x="590.84" y="128.75" width="1.0" height="1.0" opacity="0.73"/><rect x="591.19" y="124.85" width="1.0" height="1.0" opacity="0.58"/><rect x="591.53" y="135.12" width="1.0" height="1.0" opacity="0.75"/><rect x="591.87" y="126.89" width="1.0" height="1.0" opacity="0.86"/><rect x="592.21" y="128.50" width="1.0" height="1.0" opacity="0.74"/><rect x="592.56" y="124.38" width="1.0" height="1.0" opacity="0.54"/><rect x="592.90" y="126.26" width="1.0" height="1.0" opacity="0.54"/><rect x="593.24" y="125.57" width="1.0" height="1.0" opacity="0.92"/><rect x="593.59" y="123.09" width="1.0" height="1.0" opacity="0.82"/><rect x="593.93" y="127.03" width="1.0" height="1.0" opacity="0.75"/><rect x="594.27" y="125.99" width="1.0" height="1.0" opacity="0.68"/><rect x="594.61" y="122.49" width="1.0" height="1.0" opacity="0.64"/><rect x="594.96" y="122.99" width="1.0" height="1.0" opacity="0.58"/><rect x="595.30" y="123.55" width="1.0" height="1.0" opacity="0.62"/><rect x="595.64" y="123.77" width="1.0" height="1.0" opacity="0.52"/><rect x="595.99" y="121.20" width="1.0" height="1.0" opacity="0.75"/><rect x="596.33" y="116.09" width="1.0" height="1.0" opacity="0.79"/><rect x="596.67" y="120.42" width="1.0" height="1.0" opacity="0.83"/><rect x="597.01" y="123.33" width="1.0" height="1.0" opacity="0.88"/><rect x="597.36" y="118.70" width="1.0" height="1.0" opacity="0.67"/><rect x="597.70" y="121.39" width="1.0" height="1.0" opacity="0.71"/><rect x="598.04" y="117.42" width="1.0" height="1.0" opacity="0.90"/><rect x="598.39" y="122.80" width="1.0" height="1.0" opacity="0.90"/><rect x="598.73" y="120.57" width="1.0" height="1.0" opacity="0.75"/><rect x="599.07" y="118.29" width="1.0" height="1.0" opacity="0.48"/><rect x="599.41" y="122.51" width="1.0" height="1.0" opacity="0.67"/><rect x="599.76" y="118.96" width="1.0" height="1.0" opacity="0.80"/><rect x="600.10" y="120.16" width="1.0" height="1.0" opacity="0.57"/><rect x="600.44" y="118.39" width="1.0" height="1.0" opacity="0.48"/><rect x="600.79" y="121.91" width="1.0" height="1.0" opacity="0.93"/><rect x="601.13" y="121.67" width="1.0" height="1.0" opacity="0.85"/><rect x="601.47" y="118.23" width="1.0" height="1.0" opacity="0.82"/><rect x="601.81" y="121.10" width="1.0" height="1.0" opacity="0.85"/><rect x="602.16" y="119.68" width="1.0" height="1.0" opacity="0.72"/><rect x="602.50" y="123.77" width="1.0" height="1.0" opacity="0.60"/><rect x="602.84" y="120.52" width="1.0" height="1.0" opacity="0.48"/><rect x="603.19" y="122.42" width="1.0" height="1.0" opacity="0.63"/><rect x="603.53" y="118.50" width="1.0" height="1.0" opacity="0.47"/><rect x="603.87" y="122.41" width="1.0" height="1.0" opacity="0.70"/><rect x="604.21" y="118.23" width="1.0" height="1.0" opacity="0.94"/><rect x="604.56" y="120.85" width="1.0" height="1.0" opacity="0.91"/><rect x="604.90" y="123.71" width="1.0" height="1.0" opacity="0.55"/><rect x="605.24" y="116.77" width="1.0" height="1.0" opacity="0.54"/><rect x="605.59" y="123.68" width="1.0" height="1.0" opacity="0.95"/><rect x="605.93" y="118.37" width="1.0" height="1.0" opacity="0.89"/><rect x="606.27" y="118.04" width="1.0" height="1.0" opacity="0.50"/><rect x="606.61" y="116.99" width="1.0" height="1.0" opacity="0.88"/><rect x="606.96" y="123.51" width="1.0" height="1.0" opacity="0.52"/><rect x="607.30" y="120.94" width="1.0" height="1.0" opacity="0.49"/><rect x="607.64" y="117.32" width="1.0" height="1.0" opacity="0.60"/><rect x="607.99" y="118.59" width="1.0" height="1.0" opacity="0.57"/><rect x="608.33" y="119.30" width="1.0" height="1.0" opacity="0.85"/><rect x="608.67" y="115.03" width="1.0" height="1.0" opacity="0.74"/><rect x="609.01" y="113.18" width="1.0" height="1.0" opacity="0.60"/><rect x="609.36" y="115.40" width="1.0" height="1.0" opacity="0.77"/><rect x="609.70" y="115.31" width="1.0" height="1.0" opacity="0.94"/><rect x="610.04" y="113.85" width="1.0" height="1.0" opacity="0.47"/><rect x="610.39" y="116.02" width="1.0" height="1.0" opacity="0.59"/><rect x="610.73" y="116.65" width="1.0" height="1.0" opacity="0.59"/><rect x="611.07" y="115.13" width="1.0" height="1.0" opacity="0.57"/><rect x="611.41" y="114.40" width="1.0" height="1.0" opacity="0.90"/><rect x="611.76" y="114.79" width="1.0" height="1.0" opacity="0.47"/><rect x="612.10" y="115.44" width="1.0" height="1.0" opacity="0.91"/><rect x="612.44" y="112.84" width="1.0" height="1.0" opacity="0.54"/><rect x="612.79" y="113.60" width="1.0" height="1.0" opacity="0.78"/><rect x="613.13" y="112.97" width="1.0" height="1.0" opacity="0.71"/><rect x="613.47" y="116.60" width="1.0" height="1.0" opacity="0.71"/><rect x="613.81" y="108.68" width="1.0" height="1.0" opacity="0.54"/><rect x="614.16" y="115.92" width="1.0" height="1.0" opacity="0.57"/><rect x="614.50" y="117.18" width="1.0" height="1.0" opacity="0.84"/><rect x="614.84" y="114.90" width="1.0" height="1.0" opacity="0.69"/><rect x="615.19" y="112.86" width="1.0" height="1.0" opacity="0.74"/><rect x="615.53" y="117.82" width="1.0" height="1.0" opacity="0.81"/><rect x="615.87" y="115.48" width="1.0" height="1.0" opacity="0.89"/><rect x="616.21" y="115.13" width="1.0" height="1.0" opacity="0.70"/><rect x="616.56" y="115.34" width="1.0" height="1.0" opacity="0.67"/><rect x="616.90" y="115.35" width="1.0" height="1.0" opacity="0.90"/><rect x="617.24" y="114.29" width="1.0" height="1.0" opacity="0.72"/><rect x="617.59" y="115.38" width="1.0" height="1.0" opacity="0.61"/><rect x="617.93" y="116.73" width="1.0" height="1.0" opacity="0.61"/><rect x="618.27" y="113.63" width="1.0" height="1.0" opacity="0.74"/><rect x="618.61" y="115.29" width="1.0" height="1.0" opacity="0.86"/><rect x="618.96" y="115.65" width="1.0" height="1.0" opacity="0.80"/><rect x="619.30" y="118.45" width="1.0" height="1.0" opacity="0.84"/><rect x="619.64" y="113.97" width="1.0" height="1.0" opacity="0.56"/><rect x="619.99" y="118.29" width="1.0" height="1.0" opacity="0.47"/><rect x="620.33" y="116.60" width="1.0" height="1.0" opacity="0.52"/><rect x="620.67" y="109.20" width="1.0" height="1.0" opacity="0.82"/><rect x="621.01" y="116.61" width="1.0" height="1.0" opacity="0.52"/><rect x="621.36" y="121.39" width="1.0" height="1.0" opacity="0.60"/><rect x="621.70" y="116.68" width="1.0" height="1.0" opacity="0.95"/><rect x="622.04" y="116.17" width="1.0" height="1.0" opacity="0.82"/><rect x="622.39" y="115.58" width="1.0" height="1.0" opacity="0.57"/><rect x="622.73" y="118.44" width="1.0" height="1.0" opacity="0.92"/><rect x="623.07" y="111.64" width="1.0" height="1.0" opacity="0.76"/><rect x="623.41" y="120.70" width="1.0" height="1.0" opacity="0.65"/><rect x="623.76" y="116.74" width="1.0" height="1.0" opacity="0.80"/><rect x="624.10" y="115.93" width="1.0" height="1.0" opacity="0.75"/><rect x="624.44" y="109.83" width="1.0" height="1.0" opacity="0.87"/><rect x="624.79" y="114.52" width="1.0" height="1.0" opacity="0.84"/><rect x="625.13" y="112.85" width="1.0" height="1.0" opacity="0.72"/><rect x="625.47" y="114.74" width="1.0" height="1.0" opacity="0.55"/><rect x="625.81" y="111.23" width="1.0" height="1.0" opacity="0.67"/><rect x="626.16" y="113.79" width="1.0" height="1.0" opacity="0.79"/><rect x="626.50" y="114.01" width="1.0" height="1.0" opacity="0.49"/><rect x="626.84" y="114.79" width="1.0" height="1.0" opacity="0.63"/><rect x="627.19" y="113.80" width="1.0" height="1.0" opacity="0.58"/><rect x="627.53" y="112.23" width="1.0" height="1.0" opacity="0.91"/><rect x="627.87" y="111.54" width="1.0" height="1.0" opacity="0.53"/><rect x="628.21" y="115.80" width="1.0" height="1.0" opacity="0.63"/><rect x="628.56" y="110.46" width="1.0" height="1.0" opacity="0.46"/><rect x="628.90" y="106.05" width="1.0" height="1.0" opacity="0.64"/><rect x="629.24" y="112.68" width="1.0" height="1.0" opacity="0.84"/><rect x="629.59" y="109.57" width="1.0" height="1.0" opacity="0.48"/><rect x="629.93" y="110.95" width="1.0" height="1.0" opacity="0.53"/><rect x="630.27" y="111.49" width="1.0" height="1.0" opacity="0.47"/><rect x="630.61" y="108.02" width="1.0" height="1.0" opacity="0.52"/><rect x="630.96" y="111.97" width="1.0" height="1.0" opacity="0.58"/><rect x="631.30" y="109.81" width="1.0" height="1.0" opacity="0.55"/><rect x="631.64" y="109.21" width="1.0" height="1.0" opacity="0.81"/><rect x="631.99" y="106.64" width="1.0" height="1.0" opacity="0.56"/><rect x="632.33" y="113.32" width="1.0" height="1.0" opacity="0.62"/><rect x="632.67" y="110.59" width="1.0" height="1.0" opacity="0.77"/><rect x="633.01" y="110.10" width="1.0" height="1.0" opacity="0.85"/><rect x="633.36" y="107.87" width="1.0" height="1.0" opacity="0.91"/><rect x="633.70" y="113.18" width="1.0" height="1.0" opacity="0.79"/><rect x="634.04" y="114.30" width="1.0" height="1.0" opacity="0.57"/><rect x="634.39" y="108.21" width="1.0" height="1.0" opacity="0.49"/><rect x="634.73" y="108.79" width="1.0" height="1.0" opacity="0.64"/><rect x="635.07" y="109.88" width="1.0" height="1.0" opacity="0.70"/><rect x="635.41" y="110.57" width="1.0" height="1.0" opacity="0.69"/><rect x="635.76" y="111.19" width="1.0" height="1.0" opacity="0.78"/><rect x="636.10" y="110.97" width="1.0" height="1.0" opacity="0.66"/><rect x="636.44" y="110.42" width="1.0" height="1.0" opacity="0.74"/><rect x="636.79" y="105.76" width="1.0" height="1.0" opacity="0.46"/><rect x="637.13" y="108.13" width="1.0" height="1.0" opacity="0.63"/><rect x="637.47" y="108.76" width="1.0" height="1.0" opacity="0.70"/><rect x="637.81" y="109.95" width="1.0" height="1.0" opacity="0.68"/><rect x="638.16" y="109.55" width="1.0" height="1.0" opacity="0.62"/><rect x="638.50" y="110.62" width="1.0" height="1.0" opacity="0.73"/><rect x="638.84" y="108.95" width="1.0" height="1.0" opacity="0.68"/><rect x="639.19" y="108.44" width="1.0" height="1.0" opacity="0.93"/><rect x="639.53" y="104.76" width="1.0" height="1.0" opacity="0.84"/><rect x="639.87" y="107.28" width="1.0" height="1.0" opacity="0.76"/><rect x="640.21" y="108.32" width="1.0" height="1.0" opacity="0.86"/><rect x="640.56" y="111.89" width="1.0" height="1.0" opacity="0.64"/><rect x="640.90" y="112.49" width="1.0" height="1.0" opacity="0.70"/><rect x="641.24" y="110.51" width="1.0" height="1.0" opacity="0.63"/><rect x="641.59" y="112.00" width="1.0" height="1.0" opacity="0.56"/><rect x="641.93" y="111.61" width="1.0" height="1.0" opacity="0.57"/><rect x="642.27" y="108.10" width="1.0" height="1.0" opacity="0.57"/><rect x="642.61" y="109.83" width="1.0" height="1.0" opacity="0.78"/><rect x="642.96" y="108.36" width="1.0" height="1.0" opacity="0.87"/><rect x="643.30" y="106.59" width="1.0" height="1.0" opacity="0.62"/><rect x="643.64" y="112.43" width="1.0" height="1.0" opacity="0.81"/><rect x="643.99" y="109.70" width="1.0" height="1.0" opacity="0.79"/><rect x="644.33" y="112.46" width="1.0" height="1.0" opacity="0.76"/><rect x="644.67" y="110.20" width="1.0" height="1.0" opacity="0.73"/><rect x="645.01" y="110.78" width="1.0" height="1.0" opacity="0.72"/><rect x="645.36" y="115.76" width="1.0" height="1.0" opacity="0.57"/><rect x="645.70" y="113.34" width="1.0" height="1.0" opacity="0.51"/><rect x="646.04" y="114.86" width="1.0" height="1.0" opacity="0.48"/><rect x="646.39" y="112.15" width="1.0" height="1.0" opacity="0.68"/><rect x="646.73" y="111.55" width="1.0" height="1.0" opacity="0.69"/><rect x="647.07" y="116.11" width="1.0" height="1.0" opacity="0.48"/><rect x="647.41" y="109.47" width="1.0" height="1.0" opacity="0.70"/><rect x="647.76" y="110.32" width="1.0" height="1.0" opacity="0.58"/><rect x="648.10" y="115.87" width="1.0" height="1.0" opacity="0.61"/><rect x="648.44" y="113.96" width="1.0" height="1.0" opacity="0.86"/><rect x="648.79" y="109.28" width="1.0" height="1.0" opacity="0.66"/><rect x="649.13" y="110.85" width="1.0" height="1.0" opacity="0.85"/><rect x="649.47" y="111.13" width="1.0" height="1.0" opacity="0.64"/><rect x="649.81" y="114.68" width="1.0" height="1.0" opacity="0.46"/><rect x="650.16" y="116.22" width="1.0" height="1.0" opacity="0.92"/><rect x="650.50" y="119.48" width="1.0" height="1.0" opacity="0.66"/><rect x="650.84" y="117.80" width="1.0" height="1.0" opacity="0.65"/><rect x="651.19" y="116.66" width="1.0" height="1.0" opacity="0.81"/><rect x="651.53" y="115.36" width="1.0" height="1.0" opacity="0.47"/><rect x="651.87" y="114.69" width="1.0" height="1.0" opacity="0.51"/><rect x="652.21" y="108.18" width="1.0" height="1.0" opacity="0.46"/><rect x="652.56" y="113.62" width="1.0" height="1.0" opacity="0.60"/><rect x="652.90" y="116.56" width="1.0" height="1.0" opacity="0.87"/><rect x="653.24" y="113.68" width="1.0" height="1.0" opacity="0.83"/><rect x="653.59" y="120.37" width="1.0" height="1.0" opacity="0.64"/><rect x="653.93" y="112.49" width="1.0" height="1.0" opacity="0.52"/><rect x="654.27" y="115.56" width="1.0" height="1.0" opacity="0.50"/><rect x="654.61" y="116.91" width="1.0" height="1.0" opacity="0.51"/><rect x="654.96" y="119.79" width="1.0" height="1.0" opacity="0.46"/><rect x="655.30" y="118.59" width="1.0" height="1.0" opacity="0.59"/><rect x="655.64" y="118.64" width="1.0" height="1.0" opacity="0.69"/><rect x="655.99" y="115.45" width="1.0" height="1.0" opacity="0.48"/><rect x="656.33" y="116.45" width="1.0" height="1.0" opacity="0.60"/><rect x="656.67" y="115.62" width="1.0" height="1.0" opacity="0.95"/><rect x="657.01" y="116.49" width="1.0" height="1.0" opacity="0.88"/><rect x="657.36" y="109.73" width="1.0" height="1.0" opacity="0.65"/><rect x="657.70" y="115.19" width="1.0" height="1.0" opacity="0.73"/><rect x="658.04" y="111.07" width="1.0" height="1.0" opacity="0.92"/><rect x="658.39" y="109.42" width="1.0" height="1.0" opacity="0.95"/><rect x="658.73" y="113.38" width="1.0" height="1.0" opacity="0.54"/><rect x="659.07" y="107.60" width="1.0" height="1.0" opacity="0.53"/><rect x="659.41" y="112.60" width="1.0" height="1.0" opacity="0.83"/><rect x="659.76" y="111.54" width="1.0" height="1.0" opacity="0.71"/><rect x="660.10" y="111.97" width="1.0" height="1.0" opacity="0.46"/><rect x="660.44" y="116.29" width="1.0" height="1.0" opacity="0.86"/><rect x="660.79" y="110.12" width="1.0" height="1.0" opacity="0.85"/><rect x="661.13" y="105.76" width="1.0" height="1.0" opacity="0.83"/><rect x="661.47" y="119.11" width="1.0" height="1.0" opacity="0.65"/><rect x="661.81" y="113.65" width="1.0" height="1.0" opacity="0.58"/><rect x="662.16" y="115.94" width="1.0" height="1.0" opacity="0.56"/><rect x="662.50" y="110.51" width="1.0" height="1.0" opacity="0.63"/><rect x="662.84" y="110.84" width="1.0" height="1.0" opacity="0.77"/><rect x="663.19" y="107.81" width="1.0" height="1.0" opacity="0.59"/><rect x="663.53" y="109.00" width="1.0" height="1.0" opacity="0.62"/><rect x="663.87" y="110.77" width="1.0" height="1.0" opacity="0.56"/><rect x="664.21" y="106.28" width="1.0" height="1.0" opacity="0.54"/><rect x="664.56" y="108.66" width="1.0" height="1.0" opacity="0.52"/><rect x="664.90" y="109.33" width="1.0" height="1.0" opacity="0.70"/><rect x="665.24" y="109.71" width="1.0" height="1.0" opacity="0.61"/><rect x="665.59" y="111.07" width="1.0" height="1.0" opacity="0.89"/><rect x="665.93" y="108.98" width="1.0" height="1.0" opacity="0.83"/><rect x="666.27" y="111.94" width="1.0" height="1.0" opacity="0.93"/><rect x="666.61" y="109.14" width="1.0" height="1.0" opacity="0.65"/><rect x="666.96" y="110.12" width="1.0" height="1.0" opacity="0.79"/><rect x="667.30" y="112.45" width="1.0" height="1.0" opacity="0.61"/><rect x="667.64" y="104.64" width="1.0" height="1.0" opacity="0.52"/><rect x="667.99" y="114.76" width="1.0" height="1.0" opacity="0.64"/><rect x="668.33" y="109.88" width="1.0" height="1.0" opacity="0.89"/><rect x="668.67" y="115.15" width="1.0" height="1.0" opacity="0.76"/><rect x="669.01" y="108.02" width="1.0" height="1.0" opacity="0.87"/><rect x="669.36" y="108.61" width="1.0" height="1.0" opacity="0.68"/><rect x="669.70" y="107.03" width="1.0" height="1.0" opacity="0.57"/><rect x="670.04" y="110.25" width="1.0" height="1.0" opacity="0.74"/><rect x="670.39" y="112.40" width="1.0" height="1.0" opacity="0.67"/><rect x="670.73" y="109.78" width="1.0" height="1.0" opacity="0.75"/><rect x="671.07" y="112.02" width="1.0" height="1.0" opacity="0.95"/><rect x="671.41" y="111.30" width="1.0" height="1.0" opacity="0.61"/><rect x="671.76" y="111.53" width="1.0" height="1.0" opacity="0.88"/><rect x="672.10" y="108.94" width="1.0" height="1.0" opacity="0.95"/><rect x="672.44" y="109.56" width="1.0" height="1.0" opacity="0.77"/><rect x="672.79" y="117.68" width="1.0" height="1.0" opacity="0.86"/><rect x="673.13" y="101.48" width="1.0" height="1.0" opacity="0.48"/><rect x="673.47" y="108.06" width="1.0" height="1.0" opacity="0.81"/><rect x="673.81" y="110.03" width="1.0" height="1.0" opacity="0.72"/><rect x="674.16" y="104.46" width="1.0" height="1.0" opacity="0.55"/></g>
<path d="M483.00,109.39 L484.60,111.30 L486.20,111.46 L487.80,111.36 L489.40,111.56 L491.00,110.88 L492.60,112.56 L494.20,114.67 L495.80,115.06 L497.40,114.10 L499.00,112.79 L500.60,113.25 L502.20,113.35 L503.80,112.71 L505.40,112.92 L507.00,113.51 L508.60,114.01 L510.20,113.06 L511.80,113.47 L513.40,110.54 L515.00,111.71 L516.60,111.14 L518.20,109.00 L519.80,111.74 L521.40,109.45 L523.00,109.86 L524.60,113.84 L526.20,112.88 L527.80,112.40 L529.40,113.66 L531.00,113.86 L532.60,112.18 L534.20,114.66 L535.80,116.51 L537.40,116.12 L539.00,117.44 L540.60,118.23 L542.20,120.58 L543.80,120.69 L545.40,121.93 L547.00,120.94 L548.60,120.41 L550.20,120.65 L551.80,120.60 L553.40,121.80 L555.00,123.18 L556.60,126.42 L558.20,127.03 L559.80,127.07 L561.40,124.68 L563.00,123.97 L564.60,124.01 L566.20,126.62 L567.80,127.05 L569.40,129.38 L571.00,133.14 L572.60,138.18 L574.20,135.70 L575.80,132.87 L577.40,132.56 L579.00,134.07 L580.60,140.31 L582.20,136.19 L583.80,133.54 L585.40,127.66 L587.00,126.51 L588.60,123.73 L590.20,126.99 L591.80,127.26 L593.40,127.40 L595.00,122.66 L596.60,121.67 L598.20,119.06 L599.80,121.66 L601.40,119.99 L603.00,120.02 L604.60,121.92 L606.20,119.71 L607.80,118.98 L609.40,116.78 L611.00,116.65 L612.60,116.03 L614.20,114.26 L615.80,115.45 L617.40,113.49 L619.00,116.87 L620.60,116.17 L622.20,117.96 L623.80,115.19 L625.40,113.79 L627.00,112.86 L628.60,112.40 L630.20,112.01 L631.80,110.57 L633.40,109.78 L635.00,110.42 L636.60,110.39 L638.20,108.39 L639.80,109.35 L641.40,110.02 L643.00,112.51 L644.60,112.75 L646.20,113.30 L647.80,113.97 L649.40,113.44 L651.00,116.42 L652.60,115.80 L654.20,116.28 L655.80,118.77 L657.40,113.33 L659.00,113.54 L660.60,111.15 L662.20,109.85 L663.80,110.57 L665.40,109.37 L667.00,110.03 L668.60,109.01 L670.20,108.52 L671.80,112.02 L673.40,109.14" fill="none" stroke="#3a3a3a" stroke-width="0.75" stroke-linejoin="round"/>
<text x="631.50" y="10.90" font-size="7.9" fill="#222" stroke="#222" stroke-width="0.1" text-anchor="start" font-weight="normal">Fe<tspan font-size="4.90" dy="-3.00">3+</tspan><tspan dy="3.00">&#8203;</tspan></text>
<text x="631.50" y="35.00" font-size="7.9" fill="#222" stroke="#222" stroke-width="0.1" text-anchor="start" font-weight="normal">Fe<tspan font-size="4.90" dy="2.05">5</tspan><tspan dy="-2.05">&#8203;</tspan>C<tspan font-size="4.90" dy="2.05">2</tspan><tspan dy="-2.05">&#8203;</tspan> (C)</text>
<text x="631.50" y="50.40" font-size="7.9" fill="#222" stroke="#222" stroke-width="0.1" text-anchor="start" font-weight="normal">Fe<tspan font-size="4.90" dy="2.05">5</tspan><tspan dy="-2.05">&#8203;</tspan>C<tspan font-size="4.90" dy="2.05">2</tspan><tspan dy="-2.05">&#8203;</tspan> (B)</text>
<text x="631.50" y="65.80" font-size="7.9" fill="#222" stroke="#222" stroke-width="0.1" text-anchor="start" font-weight="normal">Fe<tspan font-size="4.90" dy="2.05">5</tspan><tspan dy="-2.05">&#8203;</tspan>C<tspan font-size="4.90" dy="2.05">2</tspan><tspan dy="-2.05">&#8203;</tspan> (A)</text>
<text x="631.50" y="81.20" font-size="7.9" fill="#222" stroke="#222" stroke-width="0.1" text-anchor="start" font-weight="normal">Fe<tspan font-size="4.90" dy="2.05">3</tspan><tspan dy="-2.05">&#8203;</tspan>O<tspan font-size="4.90" dy="2.05">4</tspan><tspan dy="-2.05">&#8203;</tspan> (A)</text>
<text x="631.50" y="95.00" font-size="7.9" fill="#222" stroke="#222" stroke-width="0.1" text-anchor="start" font-weight="normal">Fe<tspan font-size="4.90" dy="2.05">3</tspan><tspan dy="-2.05">&#8203;</tspan>O<tspan font-size="4.90" dy="2.05">4</tspan><tspan dy="-2.05">&#8203;</tspan> (B)</text>
<line x1="30.10" y1="176.30" x2="200.40" y2="176.30" stroke="#333" stroke-width="1.0"/>
<line x1="30.10" y1="319.20" x2="200.40" y2="319.20" stroke="#333" stroke-width="1.0"/>
<line x1="30.10" y1="176.30" x2="30.10" y2="319.20" stroke="#333" stroke-width="1.0"/>
<line x1="200.40" y1="176.30" x2="200.40" y2="319.20" stroke="#333" stroke-width="1.0"/>
<line x1="40.74" y1="319.20" x2="40.74" y2="320.50" stroke="#333" stroke-width="0.8"/>
<line x1="62.03" y1="319.20" x2="62.03" y2="320.50" stroke="#333" stroke-width="0.8"/>
<line x1="83.32" y1="319.20" x2="83.32" y2="320.50" stroke="#333" stroke-width="0.8"/>
<line x1="104.61" y1="319.20" x2="104.61" y2="320.50" stroke="#333" stroke-width="0.8"/>
<line x1="125.89" y1="319.20" x2="125.89" y2="320.50" stroke="#333" stroke-width="0.8"/>
<line x1="147.18" y1="319.20" x2="147.18" y2="320.50" stroke="#333" stroke-width="0.8"/>
<line x1="168.47" y1="319.20" x2="168.47" y2="320.50" stroke="#333" stroke-width="0.8"/>
<line x1="189.76" y1="319.20" x2="189.76" y2="320.50" stroke="#333" stroke-width="0.8"/>
<line x1="30.10" y1="319.20" x2="30.10" y2="321.40" stroke="#333" stroke-width="0.8"/>
<text x="0.00" y="0.00" font-size="9.0" fill="#222" stroke="#222" stroke-width="0.1" text-anchor="middle" font-weight="normal" transform="translate(30.10 331.20) scale(0.9 1)">100</text>
<line x1="51.39" y1="319.20" x2="51.39" y2="321.40" stroke="#333" stroke-width="0.8"/>
<text x="0.00" y="0.00" font-size="9.0" fill="#222" stroke="#222" stroke-width="0.1" text-anchor="middle" font-weight="normal" transform="translate(51.39 331.20) scale(0.9 1)">200</text>
<line x1="72.68" y1="319.20" x2="72.68" y2="321.40" stroke="#333" stroke-width="0.8"/>
<text x="0.00" y="0.00" font-size="9.0" fill="#222" stroke="#222" stroke-width="0.1" text-anchor="middle" font-weight="normal" transform="translate(72.68 331.20) scale(0.9 1)">300</text>
<line x1="93.96" y1="319.20" x2="93.96" y2="321.40" stroke="#333" stroke-width="0.8"/>
<text x="0.00" y="0.00" font-size="9.0" fill="#222" stroke="#222" stroke-width="0.1" text-anchor="middle" font-weight="normal" transform="translate(93.96 331.20) scale(0.9 1)">400</text>
<line x1="115.25" y1="319.20" x2="115.25" y2="321.40" stroke="#333" stroke-width="0.8"/>
<text x="0.00" y="0.00" font-size="9.0" fill="#222" stroke="#222" stroke-width="0.1" text-anchor="middle" font-weight="normal" transform="translate(115.25 331.20) scale(0.9 1)">500</text>
<line x1="136.54" y1="319.20" x2="136.54" y2="321.40" stroke="#333" stroke-width="0.8"/>
<text x="0.00" y="0.00" font-size="9.0" fill="#222" stroke="#222" stroke-width="0.1" text-anchor="middle" font-weight="normal" transform="translate(136.54 331.20) scale(0.9 1)">600</text>
<line x1="157.83" y1="319.20" x2="157.83" y2="321.40" stroke="#333" stroke-width="0.8"/>
<text x="0.00" y="0.00" font-size="9.0" fill="#222" stroke="#222" stroke-width="0.1" text-anchor="middle" font-weight="normal" transform="translate(157.83 331.20) scale(0.9 1)">700</text>
<line x1="179.11" y1="319.20" x2="179.11" y2="321.40" stroke="#333" stroke-width="0.8"/>
<text x="0.00" y="0.00" font-size="9.0" fill="#222" stroke="#222" stroke-width="0.1" text-anchor="middle" font-weight="normal" transform="translate(179.11 331.20) scale(0.9 1)">800</text>
<line x1="200.40" y1="319.20" x2="200.40" y2="321.40" stroke="#333" stroke-width="0.8"/>
<text x="0.00" y="0.00" font-size="9.0" fill="#222" stroke="#222" stroke-width="0.1" text-anchor="middle" font-weight="normal" transform="translate(200.40 331.20) scale(0.9 1)">900</text>
<text x="115.3" y="342.8" font-size="10.1" fill="#222" stroke="#222" stroke-width="0.2" text-anchor="middle">Temperature (°C)</text>
<text x="0.00" y="0.00" font-size="9.9" fill="#222" stroke="#222" stroke-width="0.2" text-anchor="middle" font-weight="normal" transform="translate(19.80 247.50) rotate(-90)">Intensity (arb. units)</text>
<text x="0.30" y="186.00" font-size="15.8" fill="#111" stroke="#111" text-anchor="start" font-weight="normal" stroke-width="0.3">d</text>
<text x="37.20" y="186.80" font-size="7.9" fill="#222" stroke="#222" stroke-width="0.1" text-anchor="start" font-weight="normal">H<tspan font-size="4.90" dy="2.05">2</tspan><tspan dy="-2.05">&#8203;</tspan>-TPR</text>
<path d="M30.50,225.30 C38.58,225.30 46.92,225.46 55.00,225.30 C61.70,225.17 68.64,225.00 75.30,224.40 C78.47,224.11 81.74,223.45 84.80,222.60 C87.09,221.96 89.65,221.25 91.50,219.90 C92.98,218.81 93.66,216.62 94.90,215.20 C95.21,214.84 95.79,214.41 96.20,214.50 C96.91,214.65 97.54,215.80 98.30,215.90 C99.32,216.03 100.74,215.81 101.60,215.20 C102.95,214.23 104.08,212.59 105.00,211.10 C106.56,208.56 107.75,205.68 109.10,203.00 C109.76,201.68 110.58,198.59 111.10,199.00 C112.00,199.71 112.47,206.03 113.40,206.40 C114.12,206.69 114.96,202.57 116.10,201.00 C116.74,200.13 117.81,199.37 118.80,199.00 C119.59,198.71 120.87,199.51 121.50,199.00 C123.08,197.73 124.07,195.28 125.50,193.60 C126.74,192.15 128.14,190.72 129.60,189.50 C130.39,188.84 131.52,187.70 132.30,187.90 C133.30,188.16 134.21,189.83 135.00,190.90 C136.42,192.80 137.30,195.64 139.00,196.90 C139.97,197.62 141.87,197.31 143.10,196.90 C144.55,196.42 145.73,195.00 147.10,194.20 C148.40,193.45 149.81,192.30 151.20,192.20 C152.49,192.10 153.87,193.16 155.20,193.60 C156.55,194.05 157.91,194.82 159.30,194.90 C161.51,195.02 163.85,194.42 166.10,194.20 C169.66,193.86 173.33,193.30 176.90,193.20 C180.46,193.10 184.18,193.15 187.70,193.60 C190.42,193.95 193.25,194.64 195.80,195.60 C197.38,196.19 198.75,197.41 200.20,198.30" fill="none" stroke="#f47f7f" stroke-width="0.9" stroke-linejoin="round" stroke-linecap="round"/>
<path d="M30.50,253.30 C38.58,253.30 46.92,253.37 55.00,253.30 C61.70,253.24 68.61,253.26 75.30,252.90 C79.77,252.66 84.41,252.28 88.80,251.50 C92.00,250.93 95.26,249.93 98.30,248.80 C100.60,247.95 103.09,246.98 105.00,245.50 C107.08,243.88 108.71,241.49 110.40,239.40 C111.38,238.19 112.25,236.81 113.10,235.50 C113.67,234.63 114.10,233.64 114.70,232.80 C115.52,231.63 116.56,229.45 117.40,229.40 C118.11,229.35 119.04,231.36 119.40,232.50 C120.23,235.18 120.36,238.22 121.00,241.00 C121.42,242.84 121.63,245.10 122.60,246.50 C123.12,247.25 124.52,247.54 125.50,247.50 C127.72,247.41 130.10,246.74 132.30,246.10 C135.45,245.19 138.73,244.19 141.70,242.80 C145.86,240.85 149.78,238.04 153.90,236.00 C157.37,234.28 161.05,232.62 164.70,231.40 C166.85,230.68 169.26,230.10 171.50,230.10 C173.71,230.10 176.01,230.87 178.20,231.40 C180.47,231.95 182.71,233.09 185.00,233.40 C187.62,233.75 190.44,233.56 193.10,233.40 C195.45,233.26 197.86,232.80 200.20,232.50" fill="none" stroke="#1e96f0" stroke-width="1.1" stroke-linejoin="round" stroke-linecap="round"/>
<line x1="200.20" y1="229.50" x2="200.20" y2="236.00" stroke="#1e96f0" stroke-width="1.6"/>
<path d="M30.50,293.40 C40.83,293.40 51.49,293.80 61.80,293.40 C68.52,293.14 75.46,292.40 82.10,291.40 C85.72,290.85 89.46,289.94 92.90,288.70 C95.70,287.69 98.36,286.01 101.00,284.60 C102.02,284.06 102.98,283.00 104.00,282.80 C104.63,282.67 105.36,283.70 106.00,283.60 C107.04,283.44 108.30,282.79 109.10,282.00 C111.10,280.02 112.89,277.56 114.50,275.20 C115.63,273.53 116.58,271.64 117.40,269.80 C118.59,267.12 119.47,264.21 120.60,261.50 C121.15,260.18 121.96,257.52 122.50,257.60 C123.08,257.69 123.77,260.49 124.00,262.00 C124.76,266.96 123.89,274.45 125.50,277.20 C126.17,278.35 129.17,275.00 130.90,273.80 C133.63,271.90 136.33,269.79 139.00,267.80 C141.68,265.80 144.32,262.81 147.10,261.70 C148.12,261.29 149.93,262.24 150.50,263.20 C151.65,265.14 151.62,268.11 152.30,270.50 C152.75,272.07 153.10,274.83 153.90,275.20 C154.52,275.49 155.47,272.86 156.60,272.50 C158.61,271.87 161.31,272.83 163.40,272.20 C165.77,271.48 167.78,269.42 170.10,268.40 C173.13,267.07 176.40,265.95 179.60,265.10 C182.64,264.30 185.87,263.75 189.00,263.40 C192.67,262.99 196.50,263.00 200.20,262.80" fill="none" stroke="#6e6e6e" stroke-width="0.9" stroke-linejoin="round" stroke-linecap="round"/>
<path d="M30.50,306.70 C46.44,306.44 62.86,306.26 78.80,305.90 C81.74,305.83 84.87,305.88 87.70,305.40 C88.40,305.28 88.90,304.10 89.50,304.10 C90.15,304.10 90.73,305.36 91.50,305.40 C95.58,305.62 100.08,305.52 104.20,304.90 C108.46,304.26 112.82,302.98 116.90,301.60 C118.96,300.90 120.74,299.25 122.80,298.60 C124.93,297.93 127.34,297.74 129.60,297.60 C131.70,297.47 133.99,297.37 136.00,297.80 C137.35,298.09 138.42,299.56 139.80,299.80 C144.69,300.65 150.00,300.55 155.00,301.10 C160.89,301.74 166.96,302.42 172.80,303.40 C177.03,304.11 181.26,305.69 185.50,306.20 C190.30,306.78 195.35,306.54 200.20,306.70" fill="none" stroke="#3aae66" stroke-width="0.9" stroke-linejoin="round" stroke-linecap="round"/>
<line x1="118.80" y1="195.00" x2="118.80" y2="205.00" stroke="#f47f7f" stroke-width="0.8" stroke-dasharray="1.6,1.2"/>
<line x1="151.50" y1="187.50" x2="151.50" y2="196.00" stroke="#f47f7f" stroke-width="0.8" stroke-dasharray="1.6,1.2"/>
<text x="34.80" y="216.50" font-size="7.9" fill="#f47f7f" stroke="#f47f7f" stroke-width="0.1" text-anchor="start" font-weight="normal">NiFe<tspan font-size="4.90" dy="2.05">2</tspan><tspan dy="-2.05">&#8203;</tspan>O<tspan font-size="4.90" dy="2.05">4</tspan><tspan dy="-2.05">&#8203;</tspan>/Fe<tspan font-size="4.90" dy="2.05">2</tspan><tspan dy="-2.05">&#8203;</tspan>O<tspan font-size="4.90" dy="2.05">3</tspan><tspan dy="-2.05">&#8203;</tspan></text>
<text x="34.80" y="248.40" font-size="7.9" fill="#1e96f0" stroke="#1e96f0" stroke-width="0.1" text-anchor="start" font-weight="normal">NiO<tspan font-size="4.90" dy="2.05">x</tspan><tspan dy="-2.05">&#8203;</tspan>/Fe<tspan font-size="4.90" dy="2.05">2</tspan><tspan dy="-2.05">&#8203;</tspan>O<tspan font-size="4.90" dy="2.05">3</tspan><tspan dy="-2.05">&#8203;</tspan></text>
<text x="34.80" y="286.70" font-size="7.9" fill="#8a8a8a" stroke="#8a8a8a" stroke-width="0.1" text-anchor="start" font-weight="normal">Fe<tspan font-size="4.90" dy="2.05">2</tspan><tspan dy="-2.05">&#8203;</tspan>O<tspan font-size="4.90" dy="2.05">3</tspan><tspan dy="-2.05">&#8203;</tspan></text>
<text x="34.80" y="302.20" font-size="7.9" fill="#3aae66" stroke="#3aae66" stroke-width="0.1" text-anchor="start" font-weight="normal">NiFe<tspan font-size="4.90" dy="2.05">2</tspan><tspan dy="-2.05">&#8203;</tspan>O<tspan font-size="4.90" dy="2.05">4</tspan><tspan dy="-2.05">&#8203;</tspan></text>
<text x="92.60" y="201.90" font-size="8.0" fill="#f47f7f" stroke="#f47f7f" stroke-width="0.1" text-anchor="start" font-weight="normal" font-style="italic">α</text>
<text x="107.80" y="193.70" font-size="8.0" fill="#f47f7f" stroke="#f47f7f" stroke-width="0.1" text-anchor="start" font-weight="normal" font-style="italic">β</text>
<text x="130.60" y="183.10" font-size="8.0" fill="#f47f7f" stroke="#f47f7f" stroke-width="0.1" text-anchor="start" font-weight="normal" font-style="italic">γ</text>
<text x="115.20" y="226.20" font-size="8.0" fill="#1e96f0" stroke="#1e96f0" stroke-width="0.1" text-anchor="start" font-weight="normal" font-style="italic">β</text>
<text x="167.50" y="222.90" font-size="8.0" fill="#1e96f0" stroke="#1e96f0" stroke-width="0.1" text-anchor="start" font-weight="normal" font-style="italic">γ</text>
<text x="98.00" y="278.70" font-size="8.0" fill="#8a8a8a" stroke="#8a8a8a" stroke-width="0.1" text-anchor="start" font-weight="normal" font-style="italic">α</text>
<text x="119.90" y="256.40" font-size="8.0" fill="#8a8a8a" stroke="#8a8a8a" stroke-width="0.1" text-anchor="start" font-weight="normal" font-style="italic">β</text>
<text x="144.20" y="256.90" font-size="8.0" fill="#8a8a8a" stroke="#8a8a8a" stroke-width="0.1" text-anchor="start" font-weight="normal" font-style="italic">γ</text>
<text x="87.30" y="300.40" font-size="8.0" fill="#3aae66" stroke="#3aae66" stroke-width="0.1" text-anchor="start" font-weight="normal" font-style="italic">α</text>
<text x="128.00" y="290.90" font-size="8.0" fill="#3aae66" stroke="#3aae66" stroke-width="0.1" text-anchor="start" font-weight="normal" font-style="italic">β</text>
<line x1="256.40" y1="176.30" x2="440.40" y2="176.30" stroke="#333" stroke-width="1.0"/>
<line x1="256.40" y1="319.20" x2="440.40" y2="319.20" stroke="#333" stroke-width="1.0"/>
<line x1="256.40" y1="176.30" x2="256.40" y2="319.20" stroke="#333" stroke-width="1.0"/>
<line x1="440.40" y1="176.30" x2="440.40" y2="319.20" stroke="#333" stroke-width="1.0"/>
<line x1="308.97" y1="319.20" x2="308.97" y2="320.50" stroke="#333" stroke-width="0.8"/>
<line x1="361.54" y1="319.20" x2="361.54" y2="320.50" stroke="#333" stroke-width="0.8"/>
<line x1="414.11" y1="319.20" x2="414.11" y2="320.50" stroke="#333" stroke-width="0.8"/>
<line x1="282.69" y1="319.20" x2="282.69" y2="321.40" stroke="#333" stroke-width="0.8"/>
<text x="0.00" y="0.00" font-size="9.0" fill="#222" stroke="#222" stroke-width="0.1" text-anchor="middle" font-weight="normal" transform="translate(282.69 331.20) scale(0.9 1)">100</text>
<line x1="335.26" y1="319.20" x2="335.26" y2="321.40" stroke="#333" stroke-width="0.8"/>
<text x="0.00" y="0.00" font-size="9.0" fill="#222" stroke="#222" stroke-width="0.1" text-anchor="middle" font-weight="normal" transform="translate(335.26 331.20) scale(0.9 1)">200</text>
<line x1="387.83" y1="319.20" x2="387.83" y2="321.40" stroke="#333" stroke-width="0.8"/>
<text x="0.00" y="0.00" font-size="9.0" fill="#222" stroke="#222" stroke-width="0.1" text-anchor="middle" font-weight="normal" transform="translate(387.83 331.20) scale(0.9 1)">300</text>
<line x1="440.40" y1="319.20" x2="440.40" y2="321.40" stroke="#333" stroke-width="0.8"/>
<text x="0.00" y="0.00" font-size="9.0" fill="#222" stroke="#222" stroke-width="0.1" text-anchor="middle" font-weight="normal" transform="translate(440.40 331.20) scale(0.9 1)">400</text>
<text x="346.6" y="342.8" font-size="10.1" fill="#222" stroke="#222" stroke-width="0.2" text-anchor="middle">Temperature (°C)</text>
<text x="0.00" y="0.00" font-size="9.9" fill="#222" stroke="#222" stroke-width="0.2" text-anchor="middle" font-weight="normal" transform="translate(247.50 247.50) rotate(-90)">Intensity (arb. units)</text>
<text x="239.00" y="186.00" font-size="15.8" fill="#111" stroke="#111" text-anchor="start" font-weight="normal" stroke-width="0.3">e</text>
<text x="401.90" y="188.50" font-size="7.9" fill="#222" stroke="#222" stroke-width="0.1" text-anchor="start" font-weight="normal">CO<tspan font-size="4.90" dy="2.05">2</tspan><tspan dy="-2.05">&#8203;</tspan>-TPD</text>
<path d="M256.60,231.50 C258.81,231.04 261.24,230.96 263.30,230.10 C266.19,228.88 269.29,227.30 271.60,225.20 C274.34,222.71 276.61,219.38 278.60,216.20 C281.20,212.05 282.74,206.97 285.50,203.00 C286.87,201.03 289.08,199.49 291.10,198.20 C292.28,197.44 293.89,196.61 295.20,196.80 C297.09,197.07 299.09,198.46 300.80,199.60 C303.21,201.20 305.27,203.52 307.70,205.10 C309.83,206.49 312.27,207.56 314.60,208.60 C316.40,209.41 318.44,209.83 320.20,210.70 C323.02,212.10 325.67,214.09 328.50,215.50 C331.61,217.06 334.91,218.55 338.20,219.70 C342.01,221.03 346.07,222.08 350.00,223.00 C353.00,223.70 356.15,224.21 359.20,224.60 C363.83,225.20 368.65,225.56 373.30,226.00 C377.98,226.45 382.80,227.02 387.50,227.30 C394.49,227.71 401.70,227.92 408.70,228.10 C415.73,228.28 422.97,228.33 430.00,228.40 C433.37,228.43 436.83,228.40 440.20,228.40" fill="none" stroke="#f47f7f" stroke-width="0.9" stroke-linejoin="round" stroke-linecap="round"/>
<path d="M256.60,261.10 C259.27,260.94 262.15,261.28 264.70,260.60 C268.06,259.70 271.73,258.36 274.50,256.30 C277.64,253.97 279.94,250.28 282.60,247.30 C284.72,244.93 286.62,242.15 289.00,240.10 C290.87,238.49 293.20,237.02 295.50,236.20 C297.55,235.47 300.03,235.18 302.20,235.40 C304.98,235.68 307.81,236.80 310.50,237.70 C314.21,238.94 317.93,240.52 321.60,241.90 C326.38,243.69 331.34,245.44 336.10,247.30 C340.72,249.10 345.30,251.46 350.00,253.00 C354.84,254.59 359.99,255.86 365.00,256.80 C369.89,257.71 375.03,258.20 380.00,258.60 C386.58,259.13 393.40,259.43 400.00,259.60 C406.60,259.76 413.41,259.80 420.00,259.60 C426.67,259.40 433.53,258.80 440.20,258.40" fill="none" stroke="#1e96f0" stroke-width="1.1" stroke-linejoin="round" stroke-linecap="round"/>
<path d="M256.60,286.30 C259.27,285.74 262.25,285.71 264.70,284.60 C268.16,283.03 271.52,280.63 274.50,278.20 C277.43,275.81 279.71,272.43 282.60,270.00 C284.49,268.41 286.75,266.96 289.00,266.00 C290.48,265.37 292.30,265.09 293.90,265.20 C296.06,265.35 298.28,266.17 300.40,266.80 C303.63,267.76 306.87,269.05 310.10,270.00 C313.30,270.94 316.66,271.69 319.90,272.50 C323.10,273.30 326.48,273.86 329.60,274.90 C332.88,276.00 336.11,277.61 339.30,279.00 C342.85,280.55 346.32,282.68 350.00,283.80 C354.80,285.26 360.00,286.17 365.00,286.80 C369.90,287.42 375.05,287.52 380.00,287.60 C384.95,287.68 390.06,287.14 395.00,287.30 C399.96,287.47 405.05,288.19 410.00,288.60 C414.95,289.01 420.04,289.52 425.00,289.80 C430.01,290.08 435.18,290.14 440.20,290.30" fill="none" stroke="#6e6e6e" stroke-width="0.9" stroke-linejoin="round" stroke-linecap="round"/>
<path d="M256.60,306.00 C259.27,305.64 262.09,305.53 264.70,304.90 C267.99,304.11 271.42,303.09 274.50,301.70 C277.33,300.42 279.79,298.13 282.60,296.80 C285.14,295.59 287.96,294.45 290.70,294.00 C292.78,293.66 295.09,294.04 297.20,294.40 C300.44,294.96 303.66,296.23 306.90,296.80 C311.15,297.55 315.64,297.69 319.90,298.40 C325.28,299.30 330.73,300.74 336.10,301.70 C340.66,302.52 345.40,303.22 350.00,303.80 C356.59,304.64 363.39,305.43 370.00,306.00 C378.24,306.71 386.74,307.27 395.00,307.70 C403.24,308.13 411.75,308.31 420.00,308.60 C426.67,308.84 433.53,309.07 440.20,309.30" fill="none" stroke="#3aae66" stroke-width="0.9" stroke-linejoin="round" stroke-linecap="round"/>
<line x1="294.50" y1="195.40" x2="294.50" y2="205.10" stroke="#f47f7f" stroke-width="0.8" stroke-dasharray="1.6,1.2"/>
<line x1="299.40" y1="231.50" x2="299.40" y2="239.80" stroke="#1e96f0" stroke-width="0.8" stroke-dasharray="1.6,1.2"/>
<line x1="290.30" y1="262.80" x2="290.30" y2="272.50" stroke="#6e6e6e" stroke-width="0.8" stroke-dasharray="1.6,1.2"/>
<line x1="293.90" y1="290.30" x2="293.90" y2="300.90" stroke="#3aae66" stroke-width="0.8" stroke-dasharray="1.6,1.2"/>
<text x="294.00" y="192.00" font-size="8.0" fill="#f47f7f" stroke="#f47f7f" stroke-width="0.1" text-anchor="middle" font-weight="normal">122</text>
<text x="300.20" y="227.30" font-size="8.0" fill="#1e96f0" stroke="#1e96f0" stroke-width="0.1" text-anchor="middle" font-weight="normal">132</text>
<text x="291.50" y="257.90" font-size="8.0" fill="#8a8a8a" stroke="#8a8a8a" stroke-width="0.1" text-anchor="middle" font-weight="normal">116</text>
<text x="294.50" y="287.60" font-size="8.0" fill="#3aae66" stroke="#3aae66" stroke-width="0.1" text-anchor="middle" font-weight="normal">121</text>
<text x="435.60" y="224.10" font-size="7.9" fill="#f47f7f" stroke="#f47f7f" stroke-width="0.1" text-anchor="end" font-weight="normal">NiFe<tspan font-size="4.90" dy="2.05">2</tspan><tspan dy="-2.05">&#8203;</tspan>O<tspan font-size="4.90" dy="2.05">4</tspan><tspan dy="-2.05">&#8203;</tspan>/Fe<tspan font-size="4.90" dy="2.05">2</tspan><tspan dy="-2.05">&#8203;</tspan>O<tspan font-size="4.90" dy="2.05">3</tspan><tspan dy="-2.05">&#8203;</tspan></text>
<text x="434.60" y="253.90" font-size="7.9" fill="#1e96f0" stroke="#1e96f0" stroke-width="0.1" text-anchor="end" font-weight="normal">NiO<tspan font-size="4.90" dy="2.05">x</tspan><tspan dy="-2.05">&#8203;</tspan>/Fe<tspan font-size="4.90" dy="2.05">2</tspan><tspan dy="-2.05">&#8203;</tspan>O<tspan font-size="4.90" dy="2.05">3</tspan><tspan dy="-2.05">&#8203;</tspan></text>
<text x="435.60" y="279.00" font-size="7.9" fill="#8a8a8a" stroke="#8a8a8a" stroke-width="0.1" text-anchor="end" font-weight="normal">Fe<tspan font-size="4.90" dy="2.05">2</tspan><tspan dy="-2.05">&#8203;</tspan>O<tspan font-size="4.90" dy="2.05">3</tspan><tspan dy="-2.05">&#8203;</tspan></text>
<text x="435.60" y="302.60" font-size="7.9" fill="#3aae66" stroke="#3aae66" stroke-width="0.1" text-anchor="end" font-weight="normal">NiFe<tspan font-size="4.90" dy="2.05">2</tspan><tspan dy="-2.05">&#8203;</tspan>O<tspan font-size="4.90" dy="2.05">4</tspan><tspan dy="-2.05">&#8203;</tspan></text>
<line x1="482.40" y1="176.30" x2="676.20" y2="176.30" stroke="#333" stroke-width="1.0"/>
<line x1="482.40" y1="319.20" x2="676.20" y2="319.20" stroke="#333" stroke-width="1.0"/>
<line x1="482.40" y1="176.30" x2="482.40" y2="319.20" stroke="#333" stroke-width="1.0"/>
<line x1="676.20" y1="176.30" x2="676.20" y2="319.20" stroke="#333" stroke-width="1.0"/>
<line x1="525.47" y1="319.20" x2="525.47" y2="320.50" stroke="#333" stroke-width="0.8"/>
<line x1="568.53" y1="319.20" x2="568.53" y2="320.50" stroke="#333" stroke-width="0.8"/>
<line x1="611.60" y1="319.20" x2="611.60" y2="320.50" stroke="#333" stroke-width="0.8"/>
<line x1="654.67" y1="319.20" x2="654.67" y2="320.50" stroke="#333" stroke-width="0.8"/>
<line x1="503.93" y1="319.20" x2="503.93" y2="321.40" stroke="#333" stroke-width="0.8"/>
<text x="0.00" y="0.00" font-size="9.0" fill="#222" stroke="#222" stroke-width="0.1" text-anchor="middle" font-weight="normal" transform="translate(503.93 331.20) scale(0.9 1)">100</text>
<line x1="547.00" y1="319.20" x2="547.00" y2="321.40" stroke="#333" stroke-width="0.8"/>
<text x="0.00" y="0.00" font-size="9.0" fill="#222" stroke="#222" stroke-width="0.1" text-anchor="middle" font-weight="normal" transform="translate(547.00 331.20) scale(0.9 1)">200</text>
<line x1="590.07" y1="319.20" x2="590.07" y2="321.40" stroke="#333" stroke-width="0.8"/>
<text x="0.00" y="0.00" font-size="9.0" fill="#222" stroke="#222" stroke-width="0.1" text-anchor="middle" font-weight="normal" transform="translate(590.07 331.20) scale(0.9 1)">300</text>
<line x1="633.13" y1="319.20" x2="633.13" y2="321.40" stroke="#333" stroke-width="0.8"/>
<text x="0.00" y="0.00" font-size="9.0" fill="#222" stroke="#222" stroke-width="0.1" text-anchor="middle" font-weight="normal" transform="translate(633.13 331.20) scale(0.9 1)">400</text>
<line x1="676.20" y1="319.20" x2="676.20" y2="321.40" stroke="#333" stroke-width="0.8"/>
<text x="0.00" y="0.00" font-size="9.0" fill="#222" stroke="#222" stroke-width="0.1" text-anchor="middle" font-weight="normal" transform="translate(676.20 331.20) scale(0.9 1)">500</text>
<text x="579.3" y="342.8" font-size="10.1" fill="#222" stroke="#222" stroke-width="0.2" text-anchor="middle">Temperature (°C)</text>
<text x="0.00" y="0.00" font-size="9.9" fill="#222" stroke="#222" stroke-width="0.2" text-anchor="middle" font-weight="normal" transform="translate(473.30 249.60) rotate(-90)">Intensity (arb. units)</text>
<text x="467.60" y="186.00" font-size="15.8" fill="#111" stroke="#111" text-anchor="start" font-weight="normal" stroke-width="0.3">f</text>
<text x="489.90" y="187.00" font-size="7.9" fill="#222" stroke="#222" stroke-width="0.1" text-anchor="start" font-weight="normal">H<tspan font-size="4.90" dy="2.05">2</tspan><tspan dy="-2.05">&#8203;</tspan>-TPD</text>
<path d="M482.60,221.30 C484.15,219.35 485.48,217.06 487.30,215.40 C489.44,213.43 492.04,211.70 494.60,210.30 C496.86,209.06 499.47,208.30 501.90,207.40 C504.29,206.52 506.74,205.36 509.20,204.90 C510.60,204.64 512.24,204.75 513.60,205.20 C516.10,206.03 518.38,207.88 520.90,208.80 C525.61,210.52 530.64,211.91 535.50,213.20 C538.82,214.08 542.35,214.62 545.70,215.40 C549.57,216.30 553.64,217.05 557.40,218.30 C560.87,219.46 564.19,221.36 567.60,222.70 C570.99,224.03 574.64,225.01 578.00,226.40 C580.48,227.42 582.75,229.26 585.30,230.00 C588.53,230.94 592.13,231.50 595.50,231.50 C599.36,231.50 603.38,230.69 607.20,230.00 C610.14,229.47 613.06,228.29 616.00,227.80 C618.83,227.33 621.87,226.86 624.70,227.10 C627.64,227.35 630.68,228.32 633.50,229.30 C636.95,230.50 640.33,232.26 643.70,233.70 C647.06,235.13 650.45,236.82 653.90,238.00 C656.72,238.97 659.76,239.95 662.70,240.20 C665.53,240.44 668.55,239.86 671.40,239.50 C672.94,239.30 674.48,238.83 676.00,238.50" fill="none" stroke="#f47f7f" stroke-width="0.9" stroke-linejoin="round" stroke-linecap="round"/>
<path d="M482.60,257.90 C484.94,257.37 487.52,257.25 489.70,256.30 C493.07,254.84 496.14,252.37 499.40,250.60 C502.57,248.87 505.80,246.80 509.20,245.70 C512.76,244.55 516.76,243.95 520.50,243.80 C523.17,243.69 526.02,244.17 528.60,244.90 C532.98,246.15 537.30,248.22 541.60,249.80 C545.31,251.16 549.10,252.73 552.90,253.80 C557.65,255.14 562.64,256.22 567.50,257.10 C571.59,257.84 575.86,258.39 580.00,258.70 C590.01,259.45 600.36,260.04 610.40,260.30 C621.08,260.57 632.11,260.43 642.80,260.30 C653.76,260.17 665.04,259.76 676.00,259.50" fill="none" stroke="#1e96f0" stroke-width="1.1" stroke-linejoin="round" stroke-linecap="round"/>
<path d="M482.60,272.50 C484.94,271.68 487.36,270.84 489.70,270.00 C492.90,268.86 496.12,267.37 499.40,266.50 C503.08,265.52 507.03,264.49 510.80,264.40 C514.00,264.32 517.31,265.40 520.50,266.00 C524.28,266.72 528.11,267.74 531.90,268.40 C537.22,269.33 542.74,270.12 548.10,270.80 C553.43,271.47 558.95,272.00 564.30,272.50 C569.48,272.99 574.81,273.53 580.00,273.80 C590.02,274.32 600.37,274.52 610.40,274.90 C621.09,275.31 632.10,275.94 642.80,276.20 C653.75,276.47 665.04,276.40 676.00,276.50" fill="none" stroke="#6e6e6e" stroke-width="0.9" stroke-linejoin="round" stroke-linecap="round"/>
<path d="M482.60,298.40 C484.94,297.87 487.52,297.75 489.70,296.80 C493.07,295.34 496.25,293.07 499.40,291.10 C502.69,289.04 506.11,286.93 509.20,284.60 C511.06,283.20 512.74,279.80 514.40,279.80 C515.94,279.80 517.30,283.14 518.90,284.60 C520.93,286.44 523.05,288.51 525.40,289.80 C526.78,290.56 528.67,290.30 530.20,290.80 C531.87,291.35 533.41,292.54 535.10,293.00 C536.65,293.43 538.53,292.93 540.00,293.50 C541.73,294.18 543.06,296.03 544.80,296.80 C547.32,297.91 550.16,298.81 552.90,299.20 C557.65,299.87 562.68,299.77 567.50,300.00 C571.62,300.20 575.87,300.42 580.00,300.50 C595.38,300.81 611.22,301.02 626.60,301.20 C642.90,301.39 659.70,301.47 676.00,301.60" fill="none" stroke="#3aae66" stroke-width="0.9" stroke-linejoin="round" stroke-linecap="round"/>
<line x1="509.90" y1="201.50" x2="509.90" y2="211.00" stroke="#f47f7f" stroke-width="0.8" stroke-dasharray="1.6,1.2"/>
<line x1="624.70" y1="226.40" x2="624.70" y2="235.90" stroke="#f47f7f" stroke-width="0.8" stroke-dasharray="1.6,1.2"/>
<line x1="520.90" y1="239.00" x2="520.90" y2="246.00" stroke="#1e96f0" stroke-width="0.8" stroke-dasharray="1.6,1.2"/>
<line x1="510.50" y1="261.10" x2="510.50" y2="270.80" stroke="#6e6e6e" stroke-width="0.8" stroke-dasharray="1.6,1.2"/>
<line x1="514.40" y1="282.20" x2="514.40" y2="288.70" stroke="#3aae66" stroke-width="0.8" stroke-dasharray="1.6,1.2"/>
<text x="509.90" y="198.60" font-size="8.0" fill="#f47f7f" stroke="#f47f7f" stroke-width="0.1" text-anchor="middle" font-weight="normal">114</text>
<text x="625.70" y="220.50" font-size="8.0" fill="#f47f7f" stroke="#f47f7f" stroke-width="0.1" text-anchor="middle" font-weight="normal">380</text>
<text x="521.60" y="234.40" font-size="8.0" fill="#1e96f0" stroke="#1e96f0" stroke-width="0.1" text-anchor="middle" font-weight="normal">140</text>
<text x="510.50" y="258.70" font-size="8.0" fill="#8a8a8a" stroke="#8a8a8a" stroke-width="0.1" text-anchor="middle" font-weight="normal">116</text>
<text x="517.80" y="276.50" font-size="8.0" fill="#3aae66" stroke="#3aae66" stroke-width="0.1" text-anchor="middle" font-weight="normal">125</text>
<text x="672.90" y="206.70" font-size="7.9" fill="#f47f7f" stroke="#f47f7f" stroke-width="0.1" text-anchor="end" font-weight="normal">NiFe<tspan font-size="4.90" dy="2.05">2</tspan><tspan dy="-2.05">&#8203;</tspan>O<tspan font-size="4.90" dy="2.05">4</tspan><tspan dy="-2.05">&#8203;</tspan>/Fe<tspan font-size="4.90" dy="2.05">2</tspan><tspan dy="-2.05">&#8203;</tspan>O<tspan font-size="4.90" dy="2.05">3</tspan><tspan dy="-2.05">&#8203;</tspan></text>
<text x="671.70" y="253.00" font-size="7.9" fill="#1e96f0" stroke="#1e96f0" stroke-width="0.1" text-anchor="end" font-weight="normal">NiO<tspan font-size="4.90" dy="2.05">x</tspan><tspan dy="-2.05">&#8203;</tspan>/Fe<tspan font-size="4.90" dy="2.05">2</tspan><tspan dy="-2.05">&#8203;</tspan>O<tspan font-size="4.90" dy="2.05">3</tspan><tspan dy="-2.05">&#8203;</tspan></text>
<text x="672.80" y="273.00" font-size="7.9" fill="#8a8a8a" stroke="#8a8a8a" stroke-width="0.1" text-anchor="end" font-weight="normal">Fe<tspan font-size="4.90" dy="2.05">2</tspan><tspan dy="-2.05">&#8203;</tspan>O<tspan font-size="4.90" dy="2.05">3</tspan><tspan dy="-2.05">&#8203;</tspan></text>
<text x="672.80" y="297.90" font-size="7.9" fill="#3aae66" stroke="#3aae66" stroke-width="0.1" text-anchor="end" font-weight="normal">NiFe<tspan font-size="4.90" dy="2.05">2</tspan><tspan dy="-2.05">&#8203;</tspan>O<tspan font-size="4.90" dy="2.05">4</tspan><tspan dy="-2.05">&#8203;</tspan></text>
<defs><linearGradient id="g0" x1="0" y1="0" x2="0" y2="1"><stop offset="0.0000" stop-color="#3575b8"/><stop offset="0.7244" stop-color="#3575b8"/><stop offset="0.7351" stop-color="#094c98"/><stop offset="1.0000" stop-color="#094c98"/></linearGradient><linearGradient id="g1" x1="0" y1="0" x2="0" y2="1"><stop offset="0.0000" stop-color="#4182c1"/><stop offset="0.7244" stop-color="#4182c1"/><stop offset="0.7351" stop-color="#074a96"/><stop offset="1.0000" stop-color="#074a96"/></linearGradient><linearGradient id="g2" x1="0" y1="0" x2="0" y2="1"><stop offset="0.0000" stop-color="#4f90ca"/><stop offset="0.6607" stop-color="#4f90ca"/><stop offset="0.7394" stop-color="#2164aa"/><stop offset="0.7752" stop-color="#0d509c"/><stop offset="1.0000" stop-color="#0d509c"/></linearGradient><linearGradient id="g3" x1="0" y1="0" x2="0" y2="1"><stop offset="0.0000" stop-color="#67a2d2"/><stop offset="0.6607" stop-color="#67a2d2"/><stop offset="0.7394" stop-color="#2162a6"/><stop offset="0.7752" stop-color="#064995"/><stop offset="1.0000" stop-color="#064995"/></linearGradient><linearGradient id="g4" x1="0" y1="0" x2="0" y2="1"><stop offset="0.0000" stop-color="#7fb5db"/><stop offset="0.6607" stop-color="#7fb5db"/><stop offset="0.7394" stop-color="#2e6dae"/><stop offset="0.7752" stop-color="#0b4e9a"/><stop offset="1.0000" stop-color="#0b4e9a"/></linearGradient><linearGradient id="g5" x1="0" y1="0" x2="0" y2="1"><stop offset="0.0000" stop-color="#8fc2e1"/><stop offset="0.6607" stop-color="#8fc2e1"/><stop offset="0.7394" stop-color="#316fae"/><stop offset="0.7752" stop-color="#094c98"/><stop offset="1.0000" stop-color="#094c98"/></linearGradient><linearGradient id="g6" x1="0" y1="0" x2="0" y2="1"><stop offset="0.0000" stop-color="#82b8dc"/><stop offset="0.6607" stop-color="#82b8dc"/><stop offset="0.7394" stop-color="#2968a8"/><stop offset="0.7752" stop-color="#064995"/><stop offset="1.0000" stop-color="#064995"/></linearGradient><linearGradient id="g7" x1="0" y1="0" x2="0" y2="1"><stop offset="0.0000" stop-color="#75add7"/><stop offset="0.6607" stop-color="#75add7"/><stop offset="0.7394" stop-color="#2b6bac"/><stop offset="0.7752" stop-color="#0b4e9a"/><stop offset="1.0000" stop-color="#0b4e9a"/></linearGradient><linearGradient id="g8" x1="0" y1="0" x2="0" y2="1"><stop offset="0.0000" stop-color="#67a2d2"/><stop offset="0.6607" stop-color="#67a2d2"/><stop offset="0.7394" stop-color="#2162a5"/><stop offset="0.7752" stop-color="#054894"/><stop offset="1.0000" stop-color="#054894"/></linearGradient><linearGradient id="g9" x1="0" y1="0" x2="0" y2="1"><stop offset="0.0000" stop-color="#5795cb"/><stop offset="0.7244" stop-color="#5795cb"/><stop offset="0.7351" stop-color="#0a4d99"/><stop offset="1.0000" stop-color="#0a4d99"/></linearGradient><linearGradient id="g10" x1="0" y1="0" x2="0" y2="1"><stop offset="0.0000" stop-color="#3572b5"/><stop offset="0.7244" stop-color="#3572b5"/><stop offset="0.7351" stop-color="#064995"/><stop offset="1.0000" stop-color="#064995"/></linearGradient><linearGradient id="g11" x1="0" y1="0" x2="0" y2="1"><stop offset="0.0000" stop-color="#ea9d95"/><stop offset="0.7032" stop-color="#ea9d95"/><stop offset="0.7462" stop-color="#eecec7"/><stop offset="0.7676" stop-color="#c1d7ea"/><stop offset="0.7855" stop-color="#064995"/><stop offset="1.0000" stop-color="#064995"/></linearGradient><linearGradient id="g12" x1="0" y1="0" x2="0" y2="1"><stop offset="0.0000" stop-color="#ee4a34"/><stop offset="0.7394" stop-color="#ed4933"/><stop offset="0.7958" stop-color="#f2d2cb"/><stop offset="0.8173" stop-color="#c5dbee"/><stop offset="0.8352" stop-color="#0a4d99"/><stop offset="1.0000" stop-color="#0a4d99"/></linearGradient><linearGradient id="g13" x1="0" y1="0" x2="0" y2="1"><stop offset="0.0000" stop-color="#ee4a34"/><stop offset="0.7394" stop-color="#f24e38"/><stop offset="0.8144" stop-color="#f7d7d0"/><stop offset="0.8359" stop-color="#cae0f3"/><stop offset="0.8538" stop-color="#0f529e"/><stop offset="1.0000" stop-color="#0f529e"/></linearGradient><linearGradient id="g14" x1="0" y1="0" x2="0" y2="1"><stop offset="0.0000" stop-color="#ef4a34"/><stop offset="0.7394" stop-color="#ea452f"/><stop offset="0.8020" stop-color="#eecec7"/><stop offset="0.8235" stop-color="#c1d7ea"/><stop offset="0.8414" stop-color="#064995"/><stop offset="1.0000" stop-color="#064995"/></linearGradient><linearGradient id="g15" x1="0" y1="0" x2="0" y2="1"><stop offset="0.0000" stop-color="#ef4a34"/><stop offset="0.7156" stop-color="#ef4a34"/><stop offset="0.7586" stop-color="#f0d0c9"/><stop offset="0.7800" stop-color="#c3d9ec"/><stop offset="0.7979" stop-color="#084b97"/><stop offset="1.0000" stop-color="#084b97"/></linearGradient><linearGradient id="g16" x1="0" y1="0" x2="0" y2="1"><stop offset="0.0000" stop-color="#f9d8cc"/><stop offset="0.6755" stop-color="#f9d8cc"/><stop offset="0.7430" stop-color="#f5d5ce"/><stop offset="0.7466" stop-color="#c8def1"/><stop offset="0.7578" stop-color="#0d509c"/><stop offset="1.0000" stop-color="#0d509c"/></linearGradient><linearGradient id="g17" x1="0" y1="0" x2="0" y2="1"><stop offset="0.0000" stop-color="#ee4d36"/><stop offset="0.7389" stop-color="#f3523b"/><stop offset="0.7819" stop-color="#f8d8d1"/><stop offset="0.8034" stop-color="#cbe1f4"/><stop offset="0.8213" stop-color="#10539f"/><stop offset="1.0000" stop-color="#10539f"/></linearGradient><linearGradient id="g18" x1="0" y1="0" x2="0" y2="1"><stop offset="0.0000" stop-color="#ec4c35"/><stop offset="0.7394" stop-color="#ed4d36"/><stop offset="0.8119" stop-color="#f4d4cd"/><stop offset="0.8334" stop-color="#c7ddf0"/><stop offset="0.8513" stop-color="#0c4f9b"/><stop offset="1.0000" stop-color="#0c4f9b"/></linearGradient><linearGradient id="g19" x1="0" y1="0" x2="0" y2="1"><stop offset="0.0000" stop-color="#eb4b35"/><stop offset="0.7394" stop-color="#ea4a33"/><stop offset="0.8086" stop-color="#f2d2cb"/><stop offset="0.8301" stop-color="#c5dbee"/><stop offset="0.8480" stop-color="#0a4d99"/><stop offset="1.0000" stop-color="#0a4d99"/></linearGradient><linearGradient id="g20" x1="0" y1="0" x2="0" y2="1"><stop offset="0.0000" stop-color="#ea4a34"/><stop offset="0.7289" stop-color="#f0503a"/><stop offset="0.7719" stop-color="#f9d9d2"/><stop offset="0.7933" stop-color="#cce2f5"/><stop offset="0.8112" stop-color="#1154a0"/><stop offset="1.0000" stop-color="#1154a0"/></linearGradient><linearGradient id="g21" x1="0" y1="0" x2="0" y2="1"><stop offset="0.0000" stop-color="#f2d9d1"/><stop offset="0.6588" stop-color="#f2d9d1"/><stop offset="0.7430" stop-color="#eecec7"/><stop offset="0.7466" stop-color="#c1d7ea"/><stop offset="0.7502" stop-color="#064995"/><stop offset="1.0000" stop-color="#064995"/></linearGradient><linearGradient id="g22" x1="0" y1="0" x2="0" y2="1"><stop offset="0.0000" stop-color="#a7cae4"/><stop offset="0.7244" stop-color="#a7cae4"/><stop offset="0.7351" stop-color="#0f529e"/><stop offset="1.0000" stop-color="#0f529e"/></linearGradient><linearGradient id="g23" x1="0" y1="0" x2="0" y2="1"><stop offset="0.0000" stop-color="#3b77b4"/><stop offset="0.7244" stop-color="#3b77b4"/><stop offset="0.7351" stop-color="#084b97"/><stop offset="1.0000" stop-color="#084b97"/></linearGradient><linearGradient id="g24" x1="0" y1="0" x2="0" y2="1"><stop offset="0.0000" stop-color="#134a8e"/><stop offset="0.7244" stop-color="#134a8e"/><stop offset="0.7351" stop-color="#074a96"/><stop offset="1.0000" stop-color="#074a96"/></linearGradient><linearGradient id="g25" x1="0" y1="0" x2="0" y2="1"><stop offset="0.0000" stop-color="#0e4184"/><stop offset="0.7244" stop-color="#0e4184"/><stop offset="0.7351" stop-color="#064995"/><stop offset="1.0000" stop-color="#064995"/></linearGradient><linearGradient id="g26" x1="0" y1="0" x2="0" y2="1"><stop offset="0.0000" stop-color="#0d4082"/><stop offset="0.7244" stop-color="#0d4082"/><stop offset="0.7351" stop-color="#094c98"/><stop offset="1.0000" stop-color="#094c98"/></linearGradient><linearGradient id="g27" x1="0" y1="0" x2="0" y2="1"><stop offset="0.0000" stop-color="#0c3f81"/><stop offset="0.7244" stop-color="#0c3f81"/><stop offset="0.7351" stop-color="#0f529e"/><stop offset="1.0000" stop-color="#0f529e"/></linearGradient><linearGradient id="g28" x1="0" y1="0" x2="0" y2="1"><stop offset="0.0000" stop-color="#0c3e7f"/><stop offset="0.7244" stop-color="#0c3e7f"/><stop offset="0.7351" stop-color="#074a96"/><stop offset="1.0000" stop-color="#074a96"/></linearGradient><linearGradient id="g29" x1="0" y1="0" x2="0" y2="1"><stop offset="0.0000" stop-color="#0b3d7e"/><stop offset="0.7244" stop-color="#0b3d7e"/><stop offset="0.7351" stop-color="#0c4f9b"/><stop offset="1.0000" stop-color="#0c4f9b"/></linearGradient><linearGradient id="g30" x1="0" y1="0" x2="0" y2="1"><stop offset="0.0000" stop-color="#0b3b7c"/><stop offset="0.7244" stop-color="#0b3b7c"/><stop offset="0.7351" stop-color="#0d509c"/><stop offset="1.0000" stop-color="#0d509c"/></linearGradient><linearGradient id="g31" x1="0" y1="0" x2="0" y2="1"><stop offset="0.0000" stop-color="#0a3a7a"/><stop offset="0.7244" stop-color="#0a3a7a"/><stop offset="0.7351" stop-color="#094c98"/><stop offset="1.0000" stop-color="#094c98"/></linearGradient><linearGradient id="g32" x1="0" y1="0" x2="0" y2="1"><stop offset="0.0000" stop-color="#0a3b7b"/><stop offset="0.7244" stop-color="#0a3b7b"/><stop offset="0.7351" stop-color="#0c4f9b"/><stop offset="1.0000" stop-color="#0c4f9b"/></linearGradient><linearGradient id="g33" x1="0" y1="0" x2="0" y2="1"><stop offset="0.0000" stop-color="#0b3c7d"/><stop offset="0.7244" stop-color="#0b3c7d"/><stop offset="0.7351" stop-color="#064995"/><stop offset="1.0000" stop-color="#064995"/></linearGradient><linearGradient id="g34" x1="0" y1="0" x2="0" y2="1"><stop offset="0.0000" stop-color="#0b3d7e"/><stop offset="0.7244" stop-color="#0b3d7e"/><stop offset="0.7351" stop-color="#064995"/><stop offset="1.0000" stop-color="#064995"/></linearGradient><linearGradient id="g35" x1="0" y1="0" x2="0" y2="1"><stop offset="0.0000" stop-color="#0c3e80"/><stop offset="0.7244" stop-color="#0c3e80"/><stop offset="0.7351" stop-color="#074a96"/><stop offset="1.0000" stop-color="#074a96"/></linearGradient><linearGradient id="g36" x1="0" y1="0" x2="0" y2="1"><stop offset="0.0000" stop-color="#0c3f81"/><stop offset="0.7244" stop-color="#0c3f81"/><stop offset="0.7351" stop-color="#0d509c"/><stop offset="1.0000" stop-color="#0d509c"/></linearGradient><linearGradient id="g37" x1="0" y1="0" x2="0" y2="1"><stop offset="0.0000" stop-color="#0d4183"/><stop offset="0.7244" stop-color="#0d4183"/><stop offset="0.7351" stop-color="#0a4d99"/><stop offset="1.0000" stop-color="#0a4d99"/></linearGradient><linearGradient id="g38" x1="0" y1="0" x2="0" y2="1"><stop offset="0.0000" stop-color="#0d4284"/><stop offset="0.7244" stop-color="#0d4284"/><stop offset="0.7351" stop-color="#094c98"/><stop offset="1.0000" stop-color="#094c98"/></linearGradient><linearGradient id="g39" x1="0" y1="0" x2="0" y2="1"><stop offset="0.0000" stop-color="#0e4386"/><stop offset="0.7244" stop-color="#0e4386"/><stop offset="0.7351" stop-color="#0c4f9b"/><stop offset="1.0000" stop-color="#0c4f9b"/></linearGradient><linearGradient id="g40" x1="0" y1="0" x2="0" y2="1"><stop offset="0.0000" stop-color="#82a3c5"/><stop offset="0.5963" stop-color="#82a3c5"/><stop offset="0.6822" stop-color="#b9d7ec"/><stop offset="0.7387" stop-color="#5084ba"/><stop offset="0.7565" stop-color="#0a4d99"/><stop offset="1.0000" stop-color="#0a4d99"/></linearGradient><linearGradient id="g41" x1="0" y1="0" x2="0" y2="1"><stop offset="0.0000" stop-color="#dce9f0"/><stop offset="0.5963" stop-color="#dce9f0"/><stop offset="0.6822" stop-color="#b9d7ec"/><stop offset="0.7467" stop-color="#4e82b8"/><stop offset="0.7646" stop-color="#094c98"/><stop offset="1.0000" stop-color="#094c98"/></linearGradient><linearGradient id="g42" x1="0" y1="0" x2="0" y2="1"><stop offset="0.0000" stop-color="#f7f1ed"/><stop offset="0.5963" stop-color="#f7f1ed"/><stop offset="0.6822" stop-color="#b9d7ec"/><stop offset="0.7534" stop-color="#5488be"/><stop offset="0.7713" stop-color="#0f529e"/><stop offset="1.0000" stop-color="#0f529e"/></linearGradient><linearGradient id="g43" x1="0" y1="0" x2="0" y2="1"><stop offset="0.0000" stop-color="#f8e1d6"/><stop offset="0.5963" stop-color="#f8e1d6"/><stop offset="0.6822" stop-color="#b9d7ec"/><stop offset="0.7589" stop-color="#5387bd"/><stop offset="0.7768" stop-color="#0d509c"/><stop offset="1.0000" stop-color="#0d509c"/></linearGradient><linearGradient id="g44" x1="0" y1="0" x2="0" y2="1"><stop offset="0.0000" stop-color="#f7c2af"/><stop offset="0.5963" stop-color="#f7c2af"/><stop offset="0.6822" stop-color="#b9d7ec"/><stop offset="0.7631" stop-color="#4e82b8"/><stop offset="0.7810" stop-color="#084b97"/><stop offset="1.0000" stop-color="#084b97"/></linearGradient><linearGradient id="g45" x1="0" y1="0" x2="0" y2="1"><stop offset="0.0000" stop-color="#ea634a"/><stop offset="0.5244" stop-color="#ea634a"/><stop offset="0.6389" stop-color="#f1e0dc"/><stop offset="0.6893" stop-color="#b9d7ec"/><stop offset="0.7660" stop-color="#5186bc"/><stop offset="0.7839" stop-color="#0c4f9b"/><stop offset="1.0000" stop-color="#0c4f9b"/></linearGradient><linearGradient id="g46" x1="0" y1="0" x2="0" y2="1"><stop offset="0.0000" stop-color="#e14839"/><stop offset="0.4937" stop-color="#e14839"/><stop offset="0.6083" stop-color="#f0ddda"/><stop offset="0.6893" stop-color="#b9d7ec"/><stop offset="0.7677" stop-color="#5185bb"/><stop offset="0.7856" stop-color="#0b4e9a"/><stop offset="1.0000" stop-color="#0b4e9a"/></linearGradient><linearGradient id="g47" x1="0" y1="0" x2="0" y2="1"><stop offset="0.0000" stop-color="#d73331"/><stop offset="0.4729" stop-color="#d73331"/><stop offset="0.5875" stop-color="#efdbd9"/><stop offset="0.6893" stop-color="#b9d7ec"/><stop offset="0.7680" stop-color="#5589bf"/><stop offset="0.7859" stop-color="#10539f"/><stop offset="1.0000" stop-color="#10539f"/></linearGradient><linearGradient id="g48" x1="0" y1="0" x2="0" y2="1"><stop offset="0.0000" stop-color="#d0242a"/><stop offset="0.4621" stop-color="#d0242a"/><stop offset="0.5766" stop-color="#efdad9"/><stop offset="0.6893" stop-color="#b9d7ec"/><stop offset="0.7672" stop-color="#5388be"/><stop offset="0.7851" stop-color="#0e519d"/><stop offset="1.0000" stop-color="#0e519d"/></linearGradient><linearGradient id="g49" x1="0" y1="0" x2="0" y2="1"><stop offset="0.0000" stop-color="#d2262a"/><stop offset="0.4611" stop-color="#d2262a"/><stop offset="0.5756" stop-color="#efdad9"/><stop offset="0.6893" stop-color="#b9d7ec"/><stop offset="0.7650" stop-color="#4e82b8"/><stop offset="0.7829" stop-color="#084b97"/><stop offset="1.0000" stop-color="#084b97"/></linearGradient><linearGradient id="g50" x1="0" y1="0" x2="0" y2="1"><stop offset="0.0000" stop-color="#d4292a"/><stop offset="0.4700" stop-color="#d4292a"/><stop offset="0.5845" stop-color="#efdad9"/><stop offset="0.6893" stop-color="#b9d7ec"/><stop offset="0.7616" stop-color="#568bc1"/><stop offset="0.7795" stop-color="#1154a0"/><stop offset="1.0000" stop-color="#1154a0"/></linearGradient><linearGradient id="g51" x1="0" y1="0" x2="0" y2="1"><stop offset="0.0000" stop-color="#e14f41"/><stop offset="0.4888" stop-color="#e14f41"/><stop offset="0.6033" stop-color="#f0dedb"/><stop offset="0.6893" stop-color="#b9d7ec"/><stop offset="0.7569" stop-color="#4c80b6"/><stop offset="0.7747" stop-color="#064995"/><stop offset="1.0000" stop-color="#064995"/></linearGradient><linearGradient id="g52" x1="0" y1="0" x2="0" y2="1"><stop offset="0.0000" stop-color="#f0886d"/><stop offset="0.5175" stop-color="#f0886d"/><stop offset="0.6320" stop-color="#f2e4df"/><stop offset="0.6893" stop-color="#b9d7ec"/><stop offset="0.7509" stop-color="#5084ba"/><stop offset="0.7688" stop-color="#0a4d99"/><stop offset="1.0000" stop-color="#0a4d99"/></linearGradient><linearGradient id="g53" x1="0" y1="0" x2="0" y2="1"><stop offset="0.0000" stop-color="#f4cfc4"/><stop offset="0.5561" stop-color="#f4cfc4"/><stop offset="0.6706" stop-color="#f2ebe8"/><stop offset="0.6992" stop-color="#b9d7ec"/><stop offset="0.7436" stop-color="#5488be"/><stop offset="0.7615" stop-color="#0e519d"/><stop offset="1.0000" stop-color="#0e519d"/></linearGradient><linearGradient id="g54" x1="0" y1="0" x2="0" y2="1"><stop offset="0.0000" stop-color="#c5d4e1"/><stop offset="0.6046" stop-color="#c5d4e1"/><stop offset="0.7191" stop-color="#eeebeb"/><stop offset="0.7477" stop-color="#b5d3e8"/><stop offset="0.7351" stop-color="#4c81b7"/><stop offset="0.7530" stop-color="#074a96"/><stop offset="1.0000" stop-color="#074a96"/></linearGradient><linearGradient id="g55" x1="0" y1="0" x2="0" y2="1"><stop offset="0.0000" stop-color="#6198cc"/><stop offset="0.7244" stop-color="#6198cc"/><stop offset="0.7351" stop-color="#0b4e9a"/><stop offset="1.0000" stop-color="#0b4e9a"/></linearGradient><linearGradient id="g56" x1="0" y1="0" x2="0" y2="1"><stop offset="0.0000" stop-color="#2764a7"/><stop offset="0.7244" stop-color="#2764a7"/><stop offset="0.7351" stop-color="#054894"/><stop offset="1.0000" stop-color="#054894"/></linearGradient><linearGradient id="g57" x1="0" y1="0" x2="0" y2="1"><stop offset="0.0000" stop-color="#144a8d"/><stop offset="0.7244" stop-color="#144a8d"/><stop offset="0.7351" stop-color="#0d509c"/><stop offset="1.0000" stop-color="#0d509c"/></linearGradient><linearGradient id="g58" x1="0" y1="0" x2="0" y2="1"><stop offset="0.0000" stop-color="#0e4284"/><stop offset="0.7244" stop-color="#0e4284"/><stop offset="0.7351" stop-color="#0e519d"/><stop offset="1.0000" stop-color="#0e519d"/></linearGradient><linearGradient id="g59" x1="0" y1="0" x2="0" y2="1"><stop offset="0.0000" stop-color="#0d4183"/><stop offset="0.7244" stop-color="#0d4183"/><stop offset="0.7351" stop-color="#0c4f9b"/><stop offset="1.0000" stop-color="#0c4f9b"/></linearGradient><linearGradient id="g60" x1="0" y1="0" x2="0" y2="1"><stop offset="0.0000" stop-color="#0d4083"/><stop offset="0.7244" stop-color="#0d4083"/><stop offset="0.7351" stop-color="#10539f"/><stop offset="1.0000" stop-color="#10539f"/></linearGradient><linearGradient id="g61" x1="0" y1="0" x2="0" y2="1"><stop offset="0.0000" stop-color="#0d4082"/><stop offset="0.7244" stop-color="#0d4082"/><stop offset="0.7351" stop-color="#094c98"/><stop offset="1.0000" stop-color="#094c98"/></linearGradient><linearGradient id="g62" x1="0" y1="0" x2="0" y2="1"><stop offset="0.0000" stop-color="#0c3f81"/><stop offset="0.7244" stop-color="#0c3f81"/><stop offset="0.7351" stop-color="#0d509c"/><stop offset="1.0000" stop-color="#0d509c"/></linearGradient><linearGradient id="g63" x1="0" y1="0" x2="0" y2="1"><stop offset="0.0000" stop-color="#0c3e80"/><stop offset="0.7244" stop-color="#0c3e80"/><stop offset="0.7351" stop-color="#0c4f9b"/><stop offset="1.0000" stop-color="#0c4f9b"/></linearGradient><linearGradient id="g64" x1="0" y1="0" x2="0" y2="1"><stop offset="0.0000" stop-color="#0c3e7f"/><stop offset="0.7244" stop-color="#0c3e7f"/><stop offset="0.7351" stop-color="#0c4f9b"/><stop offset="1.0000" stop-color="#0c4f9b"/></linearGradient><linearGradient id="g65" x1="0" y1="0" x2="0" y2="1"><stop offset="0.0000" stop-color="#0b3d7e"/><stop offset="0.7244" stop-color="#0b3d7e"/><stop offset="0.7351" stop-color="#0a4d99"/><stop offset="1.0000" stop-color="#0a4d99"/></linearGradient><linearGradient id="g66" x1="0" y1="0" x2="0" y2="1"><stop offset="0.0000" stop-color="#0b3c7d"/><stop offset="0.7244" stop-color="#0b3c7d"/><stop offset="0.7351" stop-color="#0f529e"/><stop offset="1.0000" stop-color="#0f529e"/></linearGradient><linearGradient id="g67" x1="0" y1="0" x2="0" y2="1"><stop offset="0.0000" stop-color="#0b3c7c"/><stop offset="0.7244" stop-color="#0b3c7c"/><stop offset="0.7351" stop-color="#10539f"/><stop offset="1.0000" stop-color="#10539f"/></linearGradient><linearGradient id="g68" x1="0" y1="0" x2="0" y2="1"><stop offset="0.0000" stop-color="#0a3b7b"/><stop offset="0.7244" stop-color="#0a3b7b"/><stop offset="0.7351" stop-color="#0b4e9a"/><stop offset="1.0000" stop-color="#0b4e9a"/></linearGradient><linearGradient id="g69" x1="0" y1="0" x2="0" y2="1"><stop offset="0.0000" stop-color="#0a3a7a"/><stop offset="0.7244" stop-color="#0a3a7a"/><stop offset="0.7351" stop-color="#0d509c"/><stop offset="1.0000" stop-color="#0d509c"/></linearGradient><linearGradient id="g70" x1="0" y1="0" x2="0" y2="1"><stop offset="0.0000" stop-color="#0a3a7a"/><stop offset="0.7244" stop-color="#0a3a7a"/><stop offset="0.7351" stop-color="#064995"/><stop offset="1.0000" stop-color="#064995"/></linearGradient><linearGradient id="g71" x1="0" y1="0" x2="0" y2="1"><stop offset="0.0000" stop-color="#0a3b7b"/><stop offset="0.7244" stop-color="#0a3b7b"/><stop offset="0.7351" stop-color="#0d509c"/><stop offset="1.0000" stop-color="#0d509c"/></linearGradient><linearGradient id="g72" x1="0" y1="0" x2="0" y2="1"><stop offset="0.0000" stop-color="#0b3b7b"/><stop offset="0.7244" stop-color="#0b3b7b"/><stop offset="0.7351" stop-color="#0d509c"/><stop offset="1.0000" stop-color="#0d509c"/></linearGradient><linearGradient id="g73" x1="0" y1="0" x2="0" y2="1"><stop offset="0.0000" stop-color="#0b3b7b"/><stop offset="0.7244" stop-color="#0b3b7b"/><stop offset="0.7351" stop-color="#1154a0"/><stop offset="1.0000" stop-color="#1154a0"/></linearGradient><linearGradient id="g74" x1="0" y1="0" x2="0" y2="1"><stop offset="0.0000" stop-color="#0b3c7c"/><stop offset="0.7244" stop-color="#0b3c7c"/><stop offset="0.7351" stop-color="#0f529e"/><stop offset="1.0000" stop-color="#0f529e"/></linearGradient><linearGradient id="g75" x1="0" y1="0" x2="0" y2="1"><stop offset="0.0000" stop-color="#c7c3d1"/><stop offset="0.8271" stop-color="#c5c0ce"/><stop offset="0.8371" stop-color="#f1edeb"/><stop offset="0.8485" stop-color="#084b97"/><stop offset="1.0000" stop-color="#084b97"/></linearGradient><linearGradient id="g76" x1="0" y1="0" x2="0" y2="1"><stop offset="0.0000" stop-color="#d42a27"/><stop offset="0.8472" stop-color="#d32926"/><stop offset="0.8573" stop-color="#f3efed"/><stop offset="0.8687" stop-color="#0a4d99"/><stop offset="1.0000" stop-color="#0a4d99"/></linearGradient><linearGradient id="g77" x1="0" y1="0" x2="0" y2="1"><stop offset="0.0000" stop-color="#d42a27"/><stop offset="0.8545" stop-color="#d62c29"/><stop offset="0.8645" stop-color="#f6f2f0"/><stop offset="0.8760" stop-color="#0d509c"/><stop offset="1.0000" stop-color="#0d509c"/></linearGradient><linearGradient id="g78" x1="0" y1="0" x2="0" y2="1"><stop offset="0.0000" stop-color="#d42a27"/><stop offset="0.8560" stop-color="#ce2421"/><stop offset="0.8661" stop-color="#eeeae8"/><stop offset="0.8775" stop-color="#054894"/><stop offset="1.0000" stop-color="#054894"/></linearGradient><linearGradient id="g79" x1="0" y1="0" x2="0" y2="1"><stop offset="0.0000" stop-color="#d42a27"/><stop offset="0.8561" stop-color="#d42a27"/><stop offset="0.8661" stop-color="#f4f0ee"/><stop offset="0.8776" stop-color="#0b4e9a"/><stop offset="1.0000" stop-color="#0b4e9a"/></linearGradient><linearGradient id="g80" x1="0" y1="0" x2="0" y2="1"><stop offset="0.0000" stop-color="#d42a27"/><stop offset="0.8559" stop-color="#d02623"/><stop offset="0.8660" stop-color="#f0ecea"/><stop offset="0.8774" stop-color="#074a96"/><stop offset="1.0000" stop-color="#074a96"/></linearGradient><linearGradient id="g81" x1="0" y1="0" x2="0" y2="1"><stop offset="0.0000" stop-color="#d42a27"/><stop offset="0.8537" stop-color="#cf2522"/><stop offset="0.8637" stop-color="#efebe9"/><stop offset="0.8752" stop-color="#064995"/><stop offset="1.0000" stop-color="#064995"/></linearGradient><linearGradient id="g82" x1="0" y1="0" x2="0" y2="1"><stop offset="0.0000" stop-color="#d84341"/><stop offset="0.8445" stop-color="#d33e3b"/><stop offset="0.8545" stop-color="#efebe9"/><stop offset="0.8660" stop-color="#064995"/><stop offset="1.0000" stop-color="#064995"/></linearGradient><linearGradient id="g83" x1="0" y1="0" x2="0" y2="1"><stop offset="0.0000" stop-color="#e8eef3"/><stop offset="0.8206" stop-color="#ebf1f7"/><stop offset="0.8306" stop-color="#f7f3f1"/><stop offset="0.8421" stop-color="#0e519d"/><stop offset="1.0000" stop-color="#0e519d"/></linearGradient><linearGradient id="g84" x1="0" y1="0" x2="0" y2="1"><stop offset="0.0000" stop-color="#c3daee"/><stop offset="0.7244" stop-color="#c3daee"/><stop offset="0.7351" stop-color="#074a96"/><stop offset="1.0000" stop-color="#074a96"/></linearGradient><linearGradient id="g85" x1="0" y1="0" x2="0" y2="1"><stop offset="0.0000" stop-color="#b5d3ea"/><stop offset="0.7244" stop-color="#b5d3ea"/><stop offset="0.7351" stop-color="#084b97"/><stop offset="1.0000" stop-color="#084b97"/></linearGradient><linearGradient id="g86" x1="0" y1="0" x2="0" y2="1"><stop offset="0.0000" stop-color="#91bcde"/><stop offset="0.7244" stop-color="#91bcde"/><stop offset="0.7351" stop-color="#0a4d99"/><stop offset="1.0000" stop-color="#0a4d99"/></linearGradient><linearGradient id="g87" x1="0" y1="0" x2="0" y2="1"><stop offset="0.0000" stop-color="#478bc6"/><stop offset="0.7244" stop-color="#478bc6"/><stop offset="0.7351" stop-color="#0f529e"/><stop offset="1.0000" stop-color="#0f529e"/></linearGradient><linearGradient id="g88" x1="0" y1="0" x2="0" y2="1"><stop offset="0.0000" stop-color="#73aad5"/><stop offset="0.7244" stop-color="#73aad5"/><stop offset="0.7351" stop-color="#064995"/><stop offset="1.0000" stop-color="#064995"/></linearGradient><linearGradient id="g89" x1="0" y1="0" x2="0" y2="1"><stop offset="0.0000" stop-color="#99c5e2"/><stop offset="0.7244" stop-color="#99c5e2"/><stop offset="0.7351" stop-color="#0a4d99"/><stop offset="1.0000" stop-color="#0a4d99"/></linearGradient><linearGradient id="g90" x1="0" y1="0" x2="0" y2="1"><stop offset="0.0000" stop-color="#8fc0e1"/><stop offset="0.7244" stop-color="#8fc0e1"/><stop offset="0.7351" stop-color="#0c4f9b"/><stop offset="1.0000" stop-color="#0c4f9b"/></linearGradient><linearGradient id="g91" x1="0" y1="0" x2="0" y2="1"><stop offset="0.0000" stop-color="#649aca"/><stop offset="0.7244" stop-color="#649aca"/><stop offset="0.7351" stop-color="#10539f"/><stop offset="1.0000" stop-color="#10539f"/></linearGradient><linearGradient id="g92" x1="0" y1="0" x2="0" y2="1"><stop offset="0.0000" stop-color="#1e5ba1"/><stop offset="0.7244" stop-color="#1e5ba1"/><stop offset="0.7351" stop-color="#0f529e"/><stop offset="1.0000" stop-color="#0f529e"/></linearGradient><linearGradient id="g93" x1="0" y1="0" x2="0" y2="1"><stop offset="0.0000" stop-color="#165196"/><stop offset="0.7244" stop-color="#165196"/><stop offset="0.7351" stop-color="#0f529e"/><stop offset="1.0000" stop-color="#0f529e"/></linearGradient><linearGradient id="g94" x1="0" y1="0" x2="0" y2="1"><stop offset="0.0000" stop-color="#0e478b"/><stop offset="0.7244" stop-color="#0e478b"/><stop offset="0.7351" stop-color="#084b97"/><stop offset="1.0000" stop-color="#084b97"/></linearGradient><linearGradient id="g95" x1="0" y1="0" x2="0" y2="1"><stop offset="0.0000" stop-color="#0c4386"/><stop offset="0.7244" stop-color="#0c4386"/><stop offset="0.7351" stop-color="#0a4d99"/><stop offset="1.0000" stop-color="#0a4d99"/></linearGradient><linearGradient id="g96" x1="0" y1="0" x2="0" y2="1"><stop offset="0.0000" stop-color="#0b4183"/><stop offset="0.7244" stop-color="#0b4183"/><stop offset="0.7351" stop-color="#094c98"/><stop offset="1.0000" stop-color="#094c98"/></linearGradient><linearGradient id="g97" x1="0" y1="0" x2="0" y2="1"><stop offset="0.0000" stop-color="#0b4081"/><stop offset="0.7244" stop-color="#0b4081"/><stop offset="0.7351" stop-color="#10539f"/><stop offset="1.0000" stop-color="#10539f"/></linearGradient><linearGradient id="g98" x1="0" y1="0" x2="0" y2="1"><stop offset="0.0000" stop-color="#0d4284"/><stop offset="0.7244" stop-color="#0d4284"/><stop offset="0.7351" stop-color="#10539f"/><stop offset="1.0000" stop-color="#10539f"/></linearGradient><linearGradient id="g99" x1="0" y1="0" x2="0" y2="1"><stop offset="0.0000" stop-color="#104789"/><stop offset="0.7244" stop-color="#104789"/><stop offset="0.7351" stop-color="#074a96"/><stop offset="1.0000" stop-color="#074a96"/></linearGradient><linearGradient id="g100" x1="0" y1="0" x2="0" y2="1"><stop offset="0.0000" stop-color="#134b8e"/><stop offset="0.7244" stop-color="#134b8e"/><stop offset="0.7351" stop-color="#074a96"/><stop offset="1.0000" stop-color="#074a96"/></linearGradient><linearGradient id="g101" x1="0" y1="0" x2="0" y2="1"><stop offset="0.0000" stop-color="#245d9b"/><stop offset="0.7244" stop-color="#245d9b"/><stop offset="0.7351" stop-color="#084b97"/><stop offset="1.0000" stop-color="#084b97"/></linearGradient><linearGradient id="g102" x1="0" y1="0" x2="0" y2="1"><stop offset="0.0000" stop-color="#71a2c8"/><stop offset="0.7244" stop-color="#71a2c8"/><stop offset="0.7351" stop-color="#084b97"/><stop offset="1.0000" stop-color="#084b97"/></linearGradient><linearGradient id="g103" x1="0" y1="0" x2="0" y2="1"><stop offset="0.0000" stop-color="#a4cee4"/><stop offset="0.6034" stop-color="#a4cee4"/><stop offset="0.7037" stop-color="#5f94c3"/><stop offset="0.7752" stop-color="#0b4e9a"/><stop offset="1.0000" stop-color="#0b4e9a"/></linearGradient><linearGradient id="g104" x1="0" y1="0" x2="0" y2="1"><stop offset="0.0000" stop-color="#b1d4e8"/><stop offset="0.6034" stop-color="#b1d4e8"/><stop offset="0.7037" stop-color="#6698c5"/><stop offset="0.7752" stop-color="#0c4f9b"/><stop offset="1.0000" stop-color="#0c4f9b"/></linearGradient><linearGradient id="g105" x1="0" y1="0" x2="0" y2="1"><stop offset="0.0000" stop-color="#bedaeb"/><stop offset="0.6034" stop-color="#bedaeb"/><stop offset="0.7037" stop-color="#6d9bc7"/><stop offset="0.7752" stop-color="#084b97"/><stop offset="1.0000" stop-color="#084b97"/></linearGradient><linearGradient id="g106" x1="0" y1="0" x2="0" y2="1"><stop offset="0.0000" stop-color="#cbe1ee"/><stop offset="0.6034" stop-color="#cbe1ee"/><stop offset="0.7037" stop-color="#749fc8"/><stop offset="0.7752" stop-color="#054894"/><stop offset="1.0000" stop-color="#054894"/></linearGradient><linearGradient id="g107" x1="0" y1="0" x2="0" y2="1"><stop offset="0.0000" stop-color="#d5e6f1"/><stop offset="0.6034" stop-color="#d5e6f1"/><stop offset="0.7037" stop-color="#7aa1ca"/><stop offset="0.7752" stop-color="#0a4d99"/><stop offset="1.0000" stop-color="#0a4d99"/></linearGradient><linearGradient id="g108" x1="0" y1="0" x2="0" y2="1"><stop offset="0.0000" stop-color="#d3e5f1"/><stop offset="0.6034" stop-color="#d3e5f1"/><stop offset="0.7037" stop-color="#79a1ca"/><stop offset="0.7752" stop-color="#094c98"/><stop offset="1.0000" stop-color="#094c98"/></linearGradient><linearGradient id="g109" x1="0" y1="0" x2="0" y2="1"><stop offset="0.0000" stop-color="#d2e4f0"/><stop offset="0.6034" stop-color="#d2e4f0"/><stop offset="0.7037" stop-color="#78a0ca"/><stop offset="0.7752" stop-color="#0c4f9b"/><stop offset="1.0000" stop-color="#0c4f9b"/></linearGradient><linearGradient id="g110" x1="0" y1="0" x2="0" y2="1"><stop offset="0.0000" stop-color="#d0e3f0"/><stop offset="0.6034" stop-color="#d0e3f0"/><stop offset="0.7037" stop-color="#78a0c9"/><stop offset="0.7752" stop-color="#10539f"/><stop offset="1.0000" stop-color="#10539f"/></linearGradient><linearGradient id="g111" x1="0" y1="0" x2="0" y2="1"><stop offset="0.0000" stop-color="#c4dbec"/><stop offset="0.6034" stop-color="#c4dbec"/><stop offset="0.7037" stop-color="#719bc7"/><stop offset="0.7752" stop-color="#0d509c"/><stop offset="1.0000" stop-color="#0d509c"/></linearGradient><linearGradient id="g112" x1="0" y1="0" x2="0" y2="1"><stop offset="0.0000" stop-color="#5a92c9"/><stop offset="0.6034" stop-color="#5a92c9"/><stop offset="0.7037" stop-color="#3673b4"/><stop offset="0.7752" stop-color="#0b4e9a"/><stop offset="1.0000" stop-color="#0b4e9a"/></linearGradient><linearGradient id="g113" x1="0" y1="0" x2="0" y2="1"><stop offset="0.0000" stop-color="#3375b8"/><stop offset="0.7244" stop-color="#3375b8"/><stop offset="0.7351" stop-color="#0c4f9b"/><stop offset="1.0000" stop-color="#0c4f9b"/></linearGradient><linearGradient id="g114" x1="0" y1="0" x2="0" y2="1"><stop offset="0.0000" stop-color="#4072ab"/><stop offset="0.7244" stop-color="#4072ab"/><stop offset="0.7351" stop-color="#0d509c"/><stop offset="1.0000" stop-color="#0d509c"/></linearGradient><linearGradient id="g115" x1="0" y1="0" x2="0" y2="1"><stop offset="0.0000" stop-color="#f49f7f"/><stop offset="0.5032" stop-color="#f5cebf"/><stop offset="0.6464" stop-color="#e4eef6"/><stop offset="0.7180" stop-color="#a9cde6"/><stop offset="0.7824" stop-color="#2562a4"/><stop offset="0.8110" stop-color="#064995"/><stop offset="1.0000" stop-color="#064995"/></linearGradient><linearGradient id="g116" x1="0" y1="0" x2="0" y2="1"><stop offset="0.0000" stop-color="#f18266"/><stop offset="0.5032" stop-color="#f3c2b5"/><stop offset="0.6464" stop-color="#e4eef6"/><stop offset="0.7180" stop-color="#a9cde6"/><stop offset="0.7824" stop-color="#2f6cae"/><stop offset="0.8110" stop-color="#10539f"/><stop offset="1.0000" stop-color="#10539f"/></linearGradient><linearGradient id="g117" x1="0" y1="0" x2="0" y2="1"><stop offset="0.0000" stop-color="#f7b7a2"/><stop offset="0.5032" stop-color="#f6d7cc"/><stop offset="0.6464" stop-color="#e4eef6"/><stop offset="0.7180" stop-color="#a9cde6"/><stop offset="0.7824" stop-color="#2e6bad"/><stop offset="0.8110" stop-color="#0e519d"/><stop offset="1.0000" stop-color="#0e519d"/></linearGradient><linearGradient id="g118" x1="0" y1="0" x2="0" y2="1"><stop offset="0.0000" stop-color="#f9cfbc"/><stop offset="0.5032" stop-color="#f7e1d7"/><stop offset="0.6464" stop-color="#e4eef6"/><stop offset="0.7180" stop-color="#a9cde6"/><stop offset="0.7824" stop-color="#2f6cae"/><stop offset="0.8110" stop-color="#0f529e"/><stop offset="1.0000" stop-color="#0f529e"/></linearGradient><linearGradient id="g119" x1="0" y1="0" x2="0" y2="1"><stop offset="0.0000" stop-color="#fad2c0"/><stop offset="0.5032" stop-color="#f7e2d9"/><stop offset="0.6464" stop-color="#e4eef6"/><stop offset="0.7180" stop-color="#a9cde6"/><stop offset="0.7824" stop-color="#2e6bad"/><stop offset="0.8110" stop-color="#0f529e"/><stop offset="1.0000" stop-color="#0f529e"/></linearGradient><linearGradient id="g120" x1="0" y1="0" x2="0" y2="1"><stop offset="0.0000" stop-color="#fad5c4"/><stop offset="0.5032" stop-color="#f7e3da"/><stop offset="0.6464" stop-color="#e4eef6"/><stop offset="0.7180" stop-color="#a9cde6"/><stop offset="0.7824" stop-color="#2966a8"/><stop offset="0.8110" stop-color="#0a4d99"/><stop offset="1.0000" stop-color="#0a4d99"/></linearGradient><linearGradient id="g121" x1="0" y1="0" x2="0" y2="1"><stop offset="0.0000" stop-color="#fbd7c8"/><stop offset="0.5032" stop-color="#f7e4dc"/><stop offset="0.6464" stop-color="#e4eef6"/><stop offset="0.7180" stop-color="#a9cde6"/><stop offset="0.7824" stop-color="#2966a8"/><stop offset="0.8110" stop-color="#0a4d99"/><stop offset="1.0000" stop-color="#0a4d99"/></linearGradient><linearGradient id="g122" x1="0" y1="0" x2="0" y2="1"><stop offset="0.0000" stop-color="#fad2c2"/><stop offset="0.5032" stop-color="#f7e2d9"/><stop offset="0.6464" stop-color="#e4eef6"/><stop offset="0.7180" stop-color="#a9cde6"/><stop offset="0.7824" stop-color="#2663a4"/><stop offset="0.8110" stop-color="#064995"/><stop offset="1.0000" stop-color="#064995"/></linearGradient><linearGradient id="g123" x1="0" y1="0" x2="0" y2="1"><stop offset="0.0000" stop-color="#facab8"/><stop offset="0.5032" stop-color="#f7dfd5"/><stop offset="0.6464" stop-color="#e4eef6"/><stop offset="0.7180" stop-color="#a9cde6"/><stop offset="0.7824" stop-color="#2c69ab"/><stop offset="0.8110" stop-color="#0d509c"/><stop offset="1.0000" stop-color="#0d509c"/></linearGradient><linearGradient id="g124" x1="0" y1="0" x2="0" y2="1"><stop offset="0.0000" stop-color="#f9c1ad"/><stop offset="0.5032" stop-color="#f6dbd1"/><stop offset="0.6464" stop-color="#e4eef6"/><stop offset="0.7180" stop-color="#a9cde6"/><stop offset="0.7824" stop-color="#2562a4"/><stop offset="0.8110" stop-color="#064995"/><stop offset="1.0000" stop-color="#064995"/></linearGradient><linearGradient id="g125" x1="0" y1="0" x2="0" y2="1"><stop offset="0.0000" stop-color="#f7b29b"/><stop offset="0.5032" stop-color="#f6d5ca"/><stop offset="0.6464" stop-color="#e4eef6"/><stop offset="0.7180" stop-color="#a9cde6"/><stop offset="0.7824" stop-color="#2562a4"/><stop offset="0.8110" stop-color="#064995"/><stop offset="1.0000" stop-color="#064995"/></linearGradient><linearGradient id="g126" x1="0" y1="0" x2="0" y2="1"><stop offset="0.0000" stop-color="#ed7e69"/><stop offset="0.5032" stop-color="#f2c1b6"/><stop offset="0.6464" stop-color="#e4eef6"/><stop offset="0.7180" stop-color="#a9cde6"/><stop offset="0.7824" stop-color="#2764a6"/><stop offset="0.8110" stop-color="#084b97"/><stop offset="1.0000" stop-color="#084b97"/></linearGradient><linearGradient id="g127" x1="0" y1="0" x2="0" y2="1"><stop offset="0.0000" stop-color="#eacac7"/><stop offset="0.5032" stop-color="#f0dfdc"/><stop offset="0.6464" stop-color="#e4eef6"/><stop offset="0.7180" stop-color="#a9cde6"/><stop offset="0.7824" stop-color="#2763a5"/><stop offset="0.8110" stop-color="#074a96"/><stop offset="1.0000" stop-color="#074a96"/></linearGradient><linearGradient id="g128" x1="0" y1="0" x2="0" y2="1"><stop offset="0.0000" stop-color="#bdd7ea"/><stop offset="0.7244" stop-color="#bdd7ea"/><stop offset="0.7351" stop-color="#094c98"/><stop offset="1.0000" stop-color="#094c98"/></linearGradient><linearGradient id="g129" x1="0" y1="0" x2="0" y2="1"><stop offset="0.0000" stop-color="#7fadd6"/><stop offset="0.7244" stop-color="#7fadd6"/><stop offset="0.7351" stop-color="#064995"/><stop offset="1.0000" stop-color="#064995"/></linearGradient><linearGradient id="g130" x1="0" y1="0" x2="0" y2="1"><stop offset="0.0000" stop-color="#4180bf"/><stop offset="0.7244" stop-color="#4180bf"/><stop offset="0.7351" stop-color="#054894"/><stop offset="1.0000" stop-color="#054894"/></linearGradient><linearGradient id="g131" x1="0" y1="0" x2="0" y2="1"><stop offset="0.0000" stop-color="#2c6eb2"/><stop offset="0.7244" stop-color="#2c6eb2"/><stop offset="0.7351" stop-color="#074a96"/><stop offset="1.0000" stop-color="#074a96"/></linearGradient><linearGradient id="g132" x1="0" y1="0" x2="0" y2="1"><stop offset="0.0000" stop-color="#2062a8"/><stop offset="0.7244" stop-color="#2062a8"/><stop offset="0.7351" stop-color="#064995"/><stop offset="1.0000" stop-color="#064995"/></linearGradient><linearGradient id="g133" x1="0" y1="0" x2="0" y2="1"><stop offset="0.0000" stop-color="#2265aa"/><stop offset="0.7244" stop-color="#2265aa"/><stop offset="0.7351" stop-color="#094c98"/><stop offset="1.0000" stop-color="#094c98"/></linearGradient><linearGradient id="g134" x1="0" y1="0" x2="0" y2="1"><stop offset="0.0000" stop-color="#2567ac"/><stop offset="0.6607" stop-color="#2567ac"/><stop offset="0.7394" stop-color="#0d509a"/><stop offset="0.7752" stop-color="#054894"/><stop offset="1.0000" stop-color="#054894"/></linearGradient><linearGradient id="g135" x1="0" y1="0" x2="0" y2="1"><stop offset="0.0000" stop-color="#286aae"/><stop offset="0.6607" stop-color="#286aae"/><stop offset="0.7394" stop-color="#185ba5"/><stop offset="0.7752" stop-color="#0f529e"/><stop offset="1.0000" stop-color="#0f529e"/></linearGradient><linearGradient id="g136" x1="0" y1="0" x2="0" y2="1"><stop offset="0.0000" stop-color="#3172b3"/><stop offset="0.6607" stop-color="#3172b3"/><stop offset="0.7394" stop-color="#185aa3"/><stop offset="0.7752" stop-color="#0c4f9b"/><stop offset="1.0000" stop-color="#0c4f9b"/></linearGradient><linearGradient id="g137" x1="0" y1="0" x2="0" y2="1"><stop offset="0.0000" stop-color="#528ec3"/><stop offset="0.6607" stop-color="#528ec3"/><stop offset="0.7394" stop-color="#1c5da2"/><stop offset="0.7752" stop-color="#074a96"/><stop offset="1.0000" stop-color="#074a96"/></linearGradient><linearGradient id="g138" x1="0" y1="0" x2="0" y2="1"><stop offset="0.0000" stop-color="#74aad3"/><stop offset="0.6607" stop-color="#74aad3"/><stop offset="0.7394" stop-color="#2867a8"/><stop offset="0.7752" stop-color="#084b97"/><stop offset="1.0000" stop-color="#084b97"/></linearGradient><linearGradient id="g139" x1="0" y1="0" x2="0" y2="1"><stop offset="0.0000" stop-color="#8dbfe0"/><stop offset="0.6607" stop-color="#8dbfe0"/><stop offset="0.7394" stop-color="#306ead"/><stop offset="0.7752" stop-color="#094c98"/><stop offset="1.0000" stop-color="#094c98"/></linearGradient><linearGradient id="g140" x1="0" y1="0" x2="0" y2="1"><stop offset="0.0000" stop-color="#86b9de"/><stop offset="0.6607" stop-color="#86b9de"/><stop offset="0.7394" stop-color="#2e6dad"/><stop offset="0.7752" stop-color="#094c98"/><stop offset="1.0000" stop-color="#094c98"/></linearGradient><linearGradient id="g141" x1="0" y1="0" x2="0" y2="1"><stop offset="0.0000" stop-color="#7eb3dc"/><stop offset="0.6607" stop-color="#7eb3dc"/><stop offset="0.7394" stop-color="#2968a9"/><stop offset="0.7752" stop-color="#064995"/><stop offset="1.0000" stop-color="#064995"/></linearGradient><linearGradient id="g142" x1="0" y1="0" x2="0" y2="1"><stop offset="0.0000" stop-color="#6fa9d7"/><stop offset="0.6607" stop-color="#6fa9d7"/><stop offset="0.7394" stop-color="#2d6db0"/><stop offset="0.7752" stop-color="#0f529e"/><stop offset="1.0000" stop-color="#0f529e"/></linearGradient><linearGradient id="g143" x1="0" y1="0" x2="0" y2="1"><stop offset="0.0000" stop-color="#609ed2"/><stop offset="0.6607" stop-color="#609ed2"/><stop offset="0.7394" stop-color="#2a6cb1"/><stop offset="0.7752" stop-color="#1154a0"/><stop offset="1.0000" stop-color="#1154a0"/></linearGradient><linearGradient id="g144" x1="0" y1="0" x2="0" y2="1"><stop offset="0.0000" stop-color="#5090c9"/><stop offset="0.6607" stop-color="#5090c9"/><stop offset="0.7394" stop-color="#1f61a8"/><stop offset="0.7752" stop-color="#0b4e9a"/><stop offset="1.0000" stop-color="#0b4e9a"/></linearGradient><linearGradient id="g145" x1="0" y1="0" x2="0" y2="1"><stop offset="0.0000" stop-color="#3f80be"/><stop offset="0.6607" stop-color="#3f80be"/><stop offset="0.7394" stop-color="#1a5da5"/><stop offset="0.7752" stop-color="#0b4e9a"/><stop offset="1.0000" stop-color="#0b4e9a"/></linearGradient><linearGradient id="g146" x1="0" y1="0" x2="0" y2="1"><stop offset="0.0000" stop-color="#2f71b3"/><stop offset="0.6607" stop-color="#2f71b3"/><stop offset="0.7394" stop-color="#11539d"/><stop offset="0.7752" stop-color="#064995"/><stop offset="1.0000" stop-color="#064995"/></linearGradient><linearGradient id="g147" x1="0" y1="0" x2="0" y2="1"><stop offset="0.0000" stop-color="#286aae"/><stop offset="0.7244" stop-color="#286aae"/><stop offset="0.7351" stop-color="#064995"/><stop offset="1.0000" stop-color="#064995"/></linearGradient><linearGradient id="g148" x1="0" y1="0" x2="0" y2="1"><stop offset="0.0000" stop-color="#2667ac"/><stop offset="0.7244" stop-color="#2667ac"/><stop offset="0.7351" stop-color="#094c98"/><stop offset="1.0000" stop-color="#094c98"/></linearGradient><linearGradient id="g149" x1="0" y1="0" x2="0" y2="1"><stop offset="0.0000" stop-color="#2364a9"/><stop offset="0.7244" stop-color="#2364a9"/><stop offset="0.7351" stop-color="#084b97"/><stop offset="1.0000" stop-color="#084b97"/></linearGradient><linearGradient id="g150" x1="0" y1="0" x2="0" y2="1"><stop offset="0.0000" stop-color="#2061a6"/><stop offset="0.7244" stop-color="#2061a6"/><stop offset="0.7351" stop-color="#0f529e"/><stop offset="1.0000" stop-color="#0f529e"/></linearGradient></defs>
<g shape-rendering="crispEdges"><rect x="30.20" y="351.7" width="1.30" height="139.70" fill="url(#g0)"/><rect x="31.20" y="351.7" width="1.30" height="139.70" fill="url(#g1)"/><rect x="32.20" y="351.7" width="1.30" height="139.70" fill="url(#g2)"/><rect x="33.20" y="351.7" width="1.30" height="139.70" fill="url(#g3)"/><rect x="34.20" y="351.7" width="1.30" height="139.70" fill="url(#g4)"/><rect x="35.20" y="351.7" width="1.30" height="139.70" fill="url(#g5)"/><rect x="36.20" y="351.7" width="1.30" height="139.70" fill="url(#g6)"/><rect x="37.20" y="351.7" width="1.30" height="139.70" fill="url(#g7)"/><rect x="38.20" y="351.7" width="1.30" height="139.70" fill="url(#g8)"/><rect x="39.20" y="351.7" width="1.30" height="139.70" fill="url(#g9)"/><rect x="40.20" y="351.7" width="1.30" height="139.70" fill="url(#g10)"/><rect x="41.20" y="351.7" width="1.30" height="139.70" fill="url(#g11)"/><rect x="42.20" y="351.7" width="1.30" height="139.70" fill="url(#g12)"/><rect x="43.20" y="351.7" width="1.30" height="139.70" fill="url(#g13)"/><rect x="44.20" y="351.7" width="1.30" height="139.70" fill="url(#g14)"/><rect x="45.20" y="351.7" width="1.30" height="139.70" fill="url(#g15)"/><rect x="46.20" y="351.7" width="1.30" height="139.70" fill="url(#g16)"/><rect x="47.20" y="351.7" width="1.30" height="139.70" fill="url(#g17)"/><rect x="48.20" y="351.7" width="1.30" height="139.70" fill="url(#g18)"/><rect x="49.20" y="351.7" width="1.30" height="139.70" fill="url(#g19)"/><rect x="50.20" y="351.7" width="1.30" height="139.70" fill="url(#g20)"/><rect x="51.20" y="351.7" width="1.30" height="139.70" fill="url(#g21)"/><rect x="52.20" y="351.7" width="1.30" height="139.70" fill="url(#g22)"/><rect x="53.20" y="351.7" width="1.30" height="139.70" fill="url(#g23)"/><rect x="54.20" y="351.7" width="1.30" height="139.70" fill="url(#g24)"/><rect x="55.20" y="351.7" width="1.30" height="139.70" fill="url(#g25)"/><rect x="56.20" y="351.7" width="1.30" height="139.70" fill="url(#g26)"/><rect x="57.20" y="351.7" width="1.30" height="139.70" fill="url(#g27)"/><rect x="58.20" y="351.7" width="1.30" height="139.70" fill="url(#g28)"/><rect x="59.20" y="351.7" width="1.30" height="139.70" fill="url(#g29)"/><rect x="60.20" y="351.7" width="1.30" height="139.70" fill="url(#g30)"/><rect x="61.20" y="351.7" width="1.30" height="139.70" fill="url(#g31)"/><rect x="62.20" y="351.7" width="1.30" height="139.70" fill="url(#g32)"/><rect x="63.20" y="351.7" width="1.30" height="139.70" fill="url(#g33)"/><rect x="64.20" y="351.7" width="1.30" height="139.70" fill="url(#g34)"/><rect x="65.20" y="351.7" width="1.30" height="139.70" fill="url(#g35)"/><rect x="66.20" y="351.7" width="1.30" height="139.70" fill="url(#g36)"/><rect x="67.20" y="351.7" width="1.30" height="139.70" fill="url(#g37)"/><rect x="68.20" y="351.7" width="1.30" height="139.70" fill="url(#g38)"/><rect x="69.20" y="351.7" width="1.30" height="139.70" fill="url(#g39)"/><rect x="70.20" y="351.7" width="1.30" height="139.70" fill="url(#g40)"/><rect x="71.20" y="351.7" width="1.30" height="139.70" fill="url(#g41)"/><rect x="72.20" y="351.7" width="1.30" height="139.70" fill="url(#g42)"/><rect x="73.20" y="351.7" width="1.30" height="139.70" fill="url(#g43)"/><rect x="74.20" y="351.7" width="1.30" height="139.70" fill="url(#g44)"/><rect x="75.20" y="351.7" width="1.30" height="139.70" fill="url(#g45)"/><rect x="76.20" y="351.7" width="1.30" height="139.70" fill="url(#g46)"/><rect x="77.20" y="351.7" width="1.30" height="139.70" fill="url(#g47)"/><rect x="78.20" y="351.7" width="1.30" height="139.70" fill="url(#g48)"/><rect x="79.20" y="351.7" width="1.30" height="139.70" fill="url(#g49)"/><rect x="80.20" y="351.7" width="1.30" height="139.70" fill="url(#g50)"/><rect x="81.20" y="351.7" width="1.30" height="139.70" fill="url(#g51)"/><rect x="82.20" y="351.7" width="1.30" height="139.70" fill="url(#g52)"/><rect x="83.20" y="351.7" width="1.30" height="139.70" fill="url(#g53)"/><rect x="84.20" y="351.7" width="1.30" height="139.70" fill="url(#g54)"/><rect x="85.20" y="351.7" width="1.30" height="139.70" fill="url(#g55)"/><rect x="86.20" y="351.7" width="1.30" height="139.70" fill="url(#g56)"/><rect x="87.20" y="351.7" width="1.30" height="139.70" fill="url(#g57)"/><rect x="88.20" y="351.7" width="1.30" height="139.70" fill="url(#g58)"/><rect x="89.20" y="351.7" width="1.30" height="139.70" fill="url(#g59)"/><rect x="90.20" y="351.7" width="1.30" height="139.70" fill="url(#g60)"/><rect x="91.20" y="351.7" width="1.30" height="139.70" fill="url(#g61)"/><rect x="92.20" y="351.7" width="1.30" height="139.70" fill="url(#g62)"/><rect x="93.20" y="351.7" width="1.30" height="139.70" fill="url(#g63)"/><rect x="94.20" y="351.7" width="1.30" height="139.70" fill="url(#g64)"/><rect x="95.20" y="351.7" width="1.30" height="139.70" fill="url(#g65)"/><rect x="96.20" y="351.7" width="1.30" height="139.70" fill="url(#g66)"/><rect x="97.20" y="351.7" width="1.30" height="139.70" fill="url(#g67)"/><rect x="98.20" y="351.7" width="1.30" height="139.70" fill="url(#g68)"/><rect x="99.20" y="351.7" width="1.30" height="139.70" fill="url(#g69)"/><rect x="100.20" y="351.7" width="1.30" height="139.70" fill="url(#g70)"/><rect x="101.20" y="351.7" width="1.30" height="139.70" fill="url(#g71)"/><rect x="102.20" y="351.7" width="1.30" height="139.70" fill="url(#g72)"/><rect x="103.20" y="351.7" width="1.30" height="139.70" fill="url(#g73)"/><rect x="104.20" y="351.7" width="1.30" height="139.70" fill="url(#g74)"/><rect x="105.20" y="351.7" width="1.30" height="139.70" fill="url(#g75)"/><rect x="106.20" y="351.7" width="1.30" height="139.70" fill="url(#g76)"/><rect x="107.20" y="351.7" width="1.30" height="139.70" fill="url(#g77)"/><rect x="108.20" y="351.7" width="1.30" height="139.70" fill="url(#g78)"/><rect x="109.20" y="351.7" width="1.30" height="139.70" fill="url(#g79)"/><rect x="110.20" y="351.7" width="1.30" height="139.70" fill="url(#g80)"/><rect x="111.20" y="351.7" width="1.30" height="139.70" fill="url(#g81)"/><rect x="112.20" y="351.7" width="1.30" height="139.70" fill="url(#g82)"/><rect x="113.20" y="351.7" width="1.30" height="139.70" fill="url(#g83)"/><rect x="114.20" y="351.7" width="1.30" height="139.70" fill="url(#g84)"/><rect x="115.20" y="351.7" width="1.30" height="139.70" fill="url(#g85)"/><rect x="116.20" y="351.7" width="1.30" height="139.70" fill="url(#g86)"/><rect x="117.20" y="351.7" width="1.30" height="139.70" fill="url(#g87)"/><rect x="118.20" y="351.7" width="1.30" height="139.70" fill="url(#g88)"/><rect x="119.20" y="351.7" width="1.30" height="139.70" fill="url(#g89)"/><rect x="120.20" y="351.7" width="1.30" height="139.70" fill="url(#g90)"/><rect x="121.20" y="351.7" width="1.30" height="139.70" fill="url(#g91)"/><rect x="122.20" y="351.7" width="1.30" height="139.70" fill="url(#g92)"/><rect x="123.20" y="351.7" width="1.30" height="139.70" fill="url(#g93)"/><rect x="124.20" y="351.7" width="1.30" height="139.70" fill="url(#g94)"/><rect x="125.20" y="351.7" width="1.30" height="139.70" fill="url(#g95)"/><rect x="126.20" y="351.7" width="1.30" height="139.70" fill="url(#g96)"/><rect x="127.20" y="351.7" width="1.30" height="139.70" fill="url(#g97)"/><rect x="128.20" y="351.7" width="1.30" height="139.70" fill="url(#g98)"/><rect x="129.20" y="351.7" width="1.30" height="139.70" fill="url(#g99)"/><rect x="130.20" y="351.7" width="1.30" height="139.70" fill="url(#g100)"/><rect x="131.20" y="351.7" width="1.30" height="139.70" fill="url(#g101)"/><rect x="132.20" y="351.7" width="1.30" height="139.70" fill="url(#g102)"/><rect x="133.20" y="351.7" width="1.30" height="139.70" fill="url(#g103)"/><rect x="134.20" y="351.7" width="1.30" height="139.70" fill="url(#g104)"/><rect x="135.20" y="351.7" width="1.30" height="139.70" fill="url(#g105)"/><rect x="136.20" y="351.7" width="1.30" height="139.70" fill="url(#g106)"/><rect x="137.20" y="351.7" width="1.30" height="139.70" fill="url(#g107)"/><rect x="138.20" y="351.7" width="1.30" height="139.70" fill="url(#g108)"/><rect x="139.20" y="351.7" width="1.30" height="139.70" fill="url(#g109)"/><rect x="140.20" y="351.7" width="1.30" height="139.70" fill="url(#g110)"/><rect x="141.20" y="351.7" width="1.30" height="139.70" fill="url(#g111)"/><rect x="142.20" y="351.7" width="1.30" height="139.70" fill="url(#g112)"/><rect x="143.20" y="351.7" width="1.30" height="139.70" fill="url(#g113)"/><rect x="144.20" y="351.7" width="1.30" height="139.70" fill="url(#g114)"/><rect x="145.20" y="351.7" width="1.30" height="139.70" fill="url(#g115)"/><rect x="146.20" y="351.7" width="1.30" height="139.70" fill="url(#g116)"/><rect x="147.20" y="351.7" width="1.30" height="139.70" fill="url(#g117)"/><rect x="148.20" y="351.7" width="1.30" height="139.70" fill="url(#g118)"/><rect x="149.20" y="351.7" width="1.30" height="139.70" fill="url(#g119)"/><rect x="150.20" y="351.7" width="1.30" height="139.70" fill="url(#g120)"/><rect x="151.20" y="351.7" width="1.30" height="139.70" fill="url(#g121)"/><rect x="152.20" y="351.7" width="1.30" height="139.70" fill="url(#g122)"/><rect x="153.20" y="351.7" width="1.30" height="139.70" fill="url(#g123)"/><rect x="154.20" y="351.7" width="1.30" height="139.70" fill="url(#g124)"/><rect x="155.20" y="351.7" width="1.30" height="139.70" fill="url(#g125)"/><rect x="156.20" y="351.7" width="1.30" height="139.70" fill="url(#g126)"/><rect x="157.20" y="351.7" width="1.30" height="139.70" fill="url(#g127)"/><rect x="158.20" y="351.7" width="1.30" height="139.70" fill="url(#g128)"/><rect x="159.20" y="351.7" width="1.30" height="139.70" fill="url(#g129)"/><rect x="160.20" y="351.7" width="1.30" height="139.70" fill="url(#g130)"/><rect x="161.20" y="351.7" width="1.30" height="139.70" fill="url(#g131)"/><rect x="162.20" y="351.7" width="1.30" height="139.70" fill="url(#g132)"/><rect x="163.20" y="351.7" width="1.30" height="139.70" fill="url(#g133)"/><rect x="164.20" y="351.7" width="1.30" height="139.70" fill="url(#g134)"/><rect x="165.20" y="351.7" width="1.30" height="139.70" fill="url(#g135)"/><rect x="166.20" y="351.7" width="1.30" height="139.70" fill="url(#g136)"/><rect x="167.20" y="351.7" width="1.30" height="139.70" fill="url(#g137)"/><rect x="168.20" y="351.7" width="1.30" height="139.70" fill="url(#g138)"/><rect x="169.20" y="351.7" width="1.30" height="139.70" fill="url(#g139)"/><rect x="170.20" y="351.7" width="1.30" height="139.70" fill="url(#g140)"/><rect x="171.20" y="351.7" width="1.30" height="139.70" fill="url(#g141)"/><rect x="172.20" y="351.7" width="1.30" height="139.70" fill="url(#g142)"/><rect x="173.20" y="351.7" width="1.30" height="139.70" fill="url(#g143)"/><rect x="174.20" y="351.7" width="1.30" height="139.70" fill="url(#g144)"/><rect x="175.20" y="351.7" width="1.30" height="139.70" fill="url(#g145)"/><rect x="176.20" y="351.7" width="1.30" height="139.70" fill="url(#g146)"/><rect x="177.20" y="351.7" width="1.30" height="139.70" fill="url(#g147)"/><rect x="178.20" y="351.7" width="1.30" height="139.70" fill="url(#g148)"/><rect x="179.20" y="351.7" width="1.30" height="139.70" fill="url(#g149)"/><rect x="180.20" y="351.7" width="1.30" height="139.70" fill="url(#g150)"/></g>
<line x1="30.20" y1="351.70" x2="30.20" y2="491.40" stroke="#333" stroke-width="0.9"/>
<line x1="30.20" y1="491.40" x2="181.20" y2="491.40" stroke="#333" stroke-width="0.9"/>
<line x1="30.20" y1="351.70" x2="181.20" y2="351.70" stroke="#333" stroke-width="0.9"/>
<line x1="181.20" y1="351.70" x2="181.20" y2="491.40" stroke="#333" stroke-width="0.6"/>
<line x1="28.60" y1="485.07" x2="30.20" y2="485.07" stroke="#333" stroke-width="0.8"/>
<line x1="27.20" y1="473.00" x2="30.20" y2="473.00" stroke="#333" stroke-width="0.8"/>
<text x="0.00" y="0.00" font-size="9.0" fill="#222" stroke="#222" stroke-width="0.1" text-anchor="end" font-weight="normal" transform="translate(25.90 476.00) scale(0.9 1)">10</text>
<line x1="28.60" y1="460.93" x2="30.20" y2="460.93" stroke="#333" stroke-width="0.8"/>
<line x1="27.20" y1="448.85" x2="30.20" y2="448.85" stroke="#333" stroke-width="0.8"/>
<text x="0.00" y="0.00" font-size="9.0" fill="#222" stroke="#222" stroke-width="0.1" text-anchor="end" font-weight="normal" transform="translate(25.90 451.85) scale(0.9 1)">20</text>
<line x1="28.60" y1="436.77" x2="30.20" y2="436.77" stroke="#333" stroke-width="0.8"/>
<line x1="27.20" y1="424.70" x2="30.20" y2="424.70" stroke="#333" stroke-width="0.8"/>
<text x="0.00" y="0.00" font-size="9.0" fill="#222" stroke="#222" stroke-width="0.1" text-anchor="end" font-weight="normal" transform="translate(25.90 427.70) scale(0.9 1)">30</text>
<line x1="28.60" y1="412.62" x2="30.20" y2="412.62" stroke="#333" stroke-width="0.8"/>
<line x1="27.20" y1="400.55" x2="30.20" y2="400.55" stroke="#333" stroke-width="0.8"/>
<text x="0.00" y="0.00" font-size="9.0" fill="#222" stroke="#222" stroke-width="0.1" text-anchor="end" font-weight="normal" transform="translate(25.90 403.55) scale(0.9 1)">40</text>
<line x1="28.60" y1="388.48" x2="30.20" y2="388.48" stroke="#333" stroke-width="0.8"/>
<line x1="27.20" y1="376.40" x2="30.20" y2="376.40" stroke="#333" stroke-width="0.8"/>
<text x="0.00" y="0.00" font-size="9.0" fill="#222" stroke="#222" stroke-width="0.1" text-anchor="end" font-weight="normal" transform="translate(25.90 379.40) scale(0.9 1)">50</text>
<line x1="28.60" y1="364.32" x2="30.20" y2="364.32" stroke="#333" stroke-width="0.8"/>
<line x1="27.20" y1="352.25" x2="30.20" y2="352.25" stroke="#333" stroke-width="0.8"/>
<text x="0.00" y="0.00" font-size="9.0" fill="#222" stroke="#222" stroke-width="0.1" text-anchor="end" font-weight="normal" transform="translate(25.90 355.25) scale(0.9 1)">60</text>
<line x1="171.20" y1="491.40" x2="171.20" y2="493.60" stroke="#333" stroke-width="0.8"/>
<text x="0.00" y="0.00" font-size="9.0" fill="#222" stroke="#222" stroke-width="0.1" text-anchor="middle" font-weight="normal" transform="translate(171.20 503.60) scale(0.9 1)">1000</text>
<line x1="159.39" y1="491.40" x2="159.39" y2="492.70" stroke="#333" stroke-width="0.8"/>
<line x1="147.58" y1="491.40" x2="147.58" y2="493.60" stroke="#333" stroke-width="0.8"/>
<text x="0.00" y="0.00" font-size="9.0" fill="#222" stroke="#222" stroke-width="0.1" text-anchor="middle" font-weight="normal" transform="translate(147.58 503.60) scale(0.9 1)">1500</text>
<line x1="135.77" y1="491.40" x2="135.77" y2="492.70" stroke="#333" stroke-width="0.8"/>
<line x1="123.96" y1="491.40" x2="123.96" y2="493.60" stroke="#333" stroke-width="0.8"/>
<text x="0.00" y="0.00" font-size="9.0" fill="#222" stroke="#222" stroke-width="0.1" text-anchor="middle" font-weight="normal" transform="translate(123.96 503.60) scale(0.9 1)">2000</text>
<line x1="112.15" y1="491.40" x2="112.15" y2="492.70" stroke="#333" stroke-width="0.8"/>
<line x1="100.34" y1="491.40" x2="100.34" y2="493.60" stroke="#333" stroke-width="0.8"/>
<text x="0.00" y="0.00" font-size="9.0" fill="#222" stroke="#222" stroke-width="0.1" text-anchor="middle" font-weight="normal" transform="translate(100.34 503.60) scale(0.9 1)">2500</text>
<line x1="88.53" y1="491.40" x2="88.53" y2="492.70" stroke="#333" stroke-width="0.8"/>
<line x1="76.72" y1="491.40" x2="76.72" y2="493.60" stroke="#333" stroke-width="0.8"/>
<text x="0.00" y="0.00" font-size="9.0" fill="#222" stroke="#222" stroke-width="0.1" text-anchor="middle" font-weight="normal" transform="translate(76.72 503.60) scale(0.9 1)">3000</text>
<line x1="64.91" y1="491.40" x2="64.91" y2="492.70" stroke="#333" stroke-width="0.8"/>
<line x1="53.10" y1="491.40" x2="53.10" y2="493.60" stroke="#333" stroke-width="0.8"/>
<text x="0.00" y="0.00" font-size="9.0" fill="#222" stroke="#222" stroke-width="0.1" text-anchor="middle" font-weight="normal" transform="translate(53.10 503.60) scale(0.9 1)">3500</text>
<line x1="41.29" y1="491.40" x2="41.29" y2="492.70" stroke="#333" stroke-width="0.8"/>
<line x1="29.48" y1="491.40" x2="29.48" y2="493.60" stroke="#333" stroke-width="0.8"/>
<text x="0.00" y="0.00" font-size="9.0" fill="#222" stroke="#222" stroke-width="0.1" text-anchor="middle" font-weight="normal" transform="translate(29.48 503.60) scale(0.9 1)">4000</text>
<text x="108.1" y="515.5" font-size="10.1" fill="#222" stroke="#222" stroke-width="0.2" text-anchor="middle">Wavenumber (cm<tspan font-size="6.9" dy="-3.8">-1</tspan><tspan dy="3.8">)</tspan></text>
<text x="0.00" y="0.00" font-size="10.1" fill="#222" stroke="#222" stroke-width="0.2" text-anchor="middle" font-weight="normal" transform="translate(8.60 422.60) rotate(-90)">Reaction time (min)</text>
<text x="0.30" y="358.50" font-size="15.8" fill="#111" stroke="#111" text-anchor="start" font-weight="normal" stroke-width="0.3">g</text>
<defs><linearGradient id="cbG" x1="0" y1="1" x2="0" y2="0"><stop offset="0.000" stop-color="#0a2f6a"/><stop offset="0.125" stop-color="#2166ac"/><stop offset="0.250" stop-color="#5a9dd0"/><stop offset="0.375" stop-color="#b8d4ea"/><stop offset="0.500" stop-color="#ebebf0"/><stop offset="0.625" stop-color="#f9b39a"/><stop offset="0.750" stop-color="#ee5d40"/><stop offset="0.875" stop-color="#c2151d"/><stop offset="1.000" stop-color="#6a000f"/></linearGradient></defs>
<rect x="187.40" y="351.70" width="12.50" height="139.70" fill="url(#cbG)" stroke="none" stroke-width="1"/>
<line x1="199.90" y1="355.00" x2="202.60" y2="355.00" stroke="#333" stroke-width="0.8"/>
<text x="0.00" y="0.00" font-size="9.0" fill="#222" stroke="#222" stroke-width="0.1" text-anchor="start" font-weight="normal" transform="translate(206.40 358.10) scale(0.9 1)">1.38</text>
<line x1="199.90" y1="371.78" x2="202.60" y2="371.78" stroke="#333" stroke-width="0.8"/>
<text x="0.00" y="0.00" font-size="9.0" fill="#222" stroke="#222" stroke-width="0.1" text-anchor="start" font-weight="normal" transform="translate(206.40 374.88) scale(0.9 1)">1.19</text>
<line x1="199.90" y1="388.56" x2="202.60" y2="388.56" stroke="#333" stroke-width="0.8"/>
<text x="0.00" y="0.00" font-size="9.0" fill="#222" stroke="#222" stroke-width="0.1" text-anchor="start" font-weight="normal" transform="translate(206.40 391.66) scale(0.9 1)">1.01</text>
<line x1="199.90" y1="405.34" x2="202.60" y2="405.34" stroke="#333" stroke-width="0.8"/>
<text x="0.00" y="0.00" font-size="9.0" fill="#222" stroke="#222" stroke-width="0.1" text-anchor="start" font-weight="normal" transform="translate(206.40 408.44) scale(0.9 1)">0.83</text>
<line x1="199.90" y1="422.12" x2="202.60" y2="422.12" stroke="#333" stroke-width="0.8"/>
<text x="0.00" y="0.00" font-size="9.0" fill="#222" stroke="#222" stroke-width="0.1" text-anchor="start" font-weight="normal" transform="translate(206.40 425.22) scale(0.9 1)">0.64</text>
<line x1="199.90" y1="438.90" x2="202.60" y2="438.90" stroke="#333" stroke-width="0.8"/>
<text x="0.00" y="0.00" font-size="9.0" fill="#222" stroke="#222" stroke-width="0.1" text-anchor="start" font-weight="normal" transform="translate(206.40 442.00) scale(0.9 1)">0.46</text>
<line x1="199.90" y1="455.68" x2="202.60" y2="455.68" stroke="#333" stroke-width="0.8"/>
<text x="0.00" y="0.00" font-size="9.0" fill="#222" stroke="#222" stroke-width="0.1" text-anchor="start" font-weight="normal" transform="translate(206.40 458.78) scale(0.9 1)">0.28</text>
<line x1="199.90" y1="472.46" x2="202.60" y2="472.46" stroke="#333" stroke-width="0.8"/>
<text x="0.00" y="0.00" font-size="9.0" fill="#222" stroke="#222" stroke-width="0.1" text-anchor="start" font-weight="normal" transform="translate(206.40 475.56) scale(0.9 1)">0.09</text>
<line x1="199.90" y1="489.24" x2="202.60" y2="489.24" stroke="#333" stroke-width="0.8"/>
<text x="0.00" y="0.00" font-size="9.0" fill="#222" stroke="#222" stroke-width="0.1" text-anchor="start" font-weight="normal" transform="translate(206.40 492.34) scale(0.9 1)">-0.09</text>
<line x1="256.50" y1="351.60" x2="676.60" y2="351.60" stroke="#333" stroke-width="1.0"/>
<line x1="256.50" y1="492.00" x2="676.60" y2="492.00" stroke="#333" stroke-width="1.0"/>
<line x1="256.50" y1="351.60" x2="256.50" y2="492.00" stroke="#333" stroke-width="1.0"/>
<line x1="676.60" y1="351.60" x2="676.60" y2="492.00" stroke="#333" stroke-width="1.0"/>
<line x1="256.50" y1="492.00" x2="676.60" y2="492.00" stroke="#555" stroke-width="1.3"/>
<line x1="676.70" y1="489.80" x2="676.70" y2="492.00" stroke="#333" stroke-width="0.8"/>
<text x="0.00" y="0.00" font-size="9.0" fill="#222" stroke="#222" stroke-width="0.1" text-anchor="middle" font-weight="normal" transform="translate(676.70 503.40) scale(0.9 1)">1000</text>
<line x1="659.20" y1="490.70" x2="659.20" y2="492.00" stroke="#333" stroke-width="0.8"/>
<line x1="641.70" y1="489.80" x2="641.70" y2="492.00" stroke="#333" stroke-width="0.8"/>
<text x="0.00" y="0.00" font-size="9.0" fill="#222" stroke="#222" stroke-width="0.1" text-anchor="middle" font-weight="normal" transform="translate(641.70 503.40) scale(0.9 1)">1200</text>
<line x1="624.20" y1="490.70" x2="624.20" y2="492.00" stroke="#333" stroke-width="0.8"/>
<line x1="606.70" y1="489.80" x2="606.70" y2="492.00" stroke="#333" stroke-width="0.8"/>
<text x="0.00" y="0.00" font-size="9.0" fill="#222" stroke="#222" stroke-width="0.1" text-anchor="middle" font-weight="normal" transform="translate(606.70 503.40) scale(0.9 1)">1400</text>
<line x1="589.20" y1="490.70" x2="589.20" y2="492.00" stroke="#333" stroke-width="0.8"/>
<line x1="571.70" y1="489.80" x2="571.70" y2="492.00" stroke="#333" stroke-width="0.8"/>
<text x="0.00" y="0.00" font-size="9.0" fill="#222" stroke="#222" stroke-width="0.1" text-anchor="middle" font-weight="normal" transform="translate(571.70 503.40) scale(0.9 1)">1600</text>
<line x1="554.20" y1="490.70" x2="554.20" y2="492.00" stroke="#333" stroke-width="0.8"/>
<line x1="536.70" y1="489.80" x2="536.70" y2="492.00" stroke="#333" stroke-width="0.8"/>
<text x="0.00" y="0.00" font-size="9.0" fill="#222" stroke="#222" stroke-width="0.1" text-anchor="middle" font-weight="normal" transform="translate(536.70 503.40) scale(0.9 1)">1800</text>
<line x1="519.20" y1="490.70" x2="519.20" y2="492.00" stroke="#333" stroke-width="0.8"/>
<line x1="501.70" y1="489.80" x2="501.70" y2="492.00" stroke="#333" stroke-width="0.8"/>
<text x="0.00" y="0.00" font-size="9.0" fill="#222" stroke="#222" stroke-width="0.1" text-anchor="middle" font-weight="normal" transform="translate(501.70 503.40) scale(0.9 1)">2000</text>
<line x1="484.20" y1="490.70" x2="484.20" y2="492.00" stroke="#333" stroke-width="0.8"/>
<line x1="466.70" y1="489.80" x2="466.70" y2="492.00" stroke="#333" stroke-width="0.8"/>
<text x="0.00" y="0.00" font-size="9.0" fill="#222" stroke="#222" stroke-width="0.1" text-anchor="middle" font-weight="normal" transform="translate(466.70 503.40) scale(0.9 1)">2200</text>
<line x1="449.20" y1="490.70" x2="449.20" y2="492.00" stroke="#333" stroke-width="0.8"/>
<line x1="431.70" y1="489.80" x2="431.70" y2="492.00" stroke="#333" stroke-width="0.8"/>
<text x="0.00" y="0.00" font-size="9.0" fill="#222" stroke="#222" stroke-width="0.1" text-anchor="middle" font-weight="normal" transform="translate(431.70 503.40) scale(0.9 1)">2400</text>
<line x1="414.20" y1="490.70" x2="414.20" y2="492.00" stroke="#333" stroke-width="0.8"/>
<line x1="396.70" y1="489.80" x2="396.70" y2="492.00" stroke="#333" stroke-width="0.8"/>
<text x="0.00" y="0.00" font-size="9.0" fill="#222" stroke="#222" stroke-width="0.1" text-anchor="middle" font-weight="normal" transform="translate(396.70 503.40) scale(0.9 1)">2600</text>
<line x1="379.20" y1="490.70" x2="379.20" y2="492.00" stroke="#333" stroke-width="0.8"/>
<line x1="361.70" y1="489.80" x2="361.70" y2="492.00" stroke="#333" stroke-width="0.8"/>
<text x="0.00" y="0.00" font-size="9.0" fill="#222" stroke="#222" stroke-width="0.1" text-anchor="middle" font-weight="normal" transform="translate(361.70 503.40) scale(0.9 1)">2800</text>
<line x1="344.20" y1="490.70" x2="344.20" y2="492.00" stroke="#333" stroke-width="0.8"/>
<line x1="326.70" y1="489.80" x2="326.70" y2="492.00" stroke="#333" stroke-width="0.8"/>
<text x="0.00" y="0.00" font-size="9.0" fill="#222" stroke="#222" stroke-width="0.1" text-anchor="middle" font-weight="normal" transform="translate(326.70 503.40) scale(0.9 1)">3000</text>
<line x1="309.20" y1="490.70" x2="309.20" y2="492.00" stroke="#333" stroke-width="0.8"/>
<line x1="291.70" y1="489.80" x2="291.70" y2="492.00" stroke="#333" stroke-width="0.8"/>
<text x="0.00" y="0.00" font-size="9.0" fill="#222" stroke="#222" stroke-width="0.1" text-anchor="middle" font-weight="normal" transform="translate(291.70 503.40) scale(0.9 1)">3200</text>
<line x1="274.20" y1="490.70" x2="274.20" y2="492.00" stroke="#333" stroke-width="0.8"/>
<line x1="256.70" y1="489.80" x2="256.70" y2="492.00" stroke="#333" stroke-width="0.8"/>
<text x="0.00" y="0.00" font-size="9.0" fill="#222" stroke="#222" stroke-width="0.1" text-anchor="middle" font-weight="normal" transform="translate(256.70 503.40) scale(0.9 1)">3400</text>
<text x="441.8" y="515.3" font-size="10.1" fill="#222" stroke="#222" stroke-width="0.2" text-anchor="middle">Wavenumber (cm<tspan font-size="6.9" dy="-3.8">-1</tspan><tspan dy="3.8">)</tspan></text>
<text x="0.00" y="0.00" font-size="9.9" fill="#222" stroke="#222" stroke-width="0.2" text-anchor="middle" font-weight="normal" transform="translate(249.00 425.20) rotate(-90)">Intensity (arb. units)</text>
<text x="239.00" y="357.50" font-size="15.8" fill="#111" stroke="#111" text-anchor="start" font-weight="normal" stroke-width="0.3">h</text>
<path d="M257.00,487.30 C316.07,487.40 376.99,487.80 436.00,487.60 C436.78,487.60 437.47,486.70 438.20,486.70 C438.96,486.70 439.69,487.60 440.50,487.60 C518.29,487.93 598.55,487.67 676.40,487.70" fill="none" stroke="#a4d2f5" stroke-width="0.9" stroke-linejoin="round" stroke-linecap="round"/>
<path d="M257.00,481.10 C312.44,481.20 369.56,481.24 425.00,481.40 C426.95,481.41 429.58,482.54 430.90,481.60 C432.49,480.46 433.31,477.38 433.80,475.10 C435.22,468.53 435.68,461.49 436.70,454.80 C437.03,452.64 437.37,448.58 437.90,448.30 C438.33,448.08 439.04,451.65 439.60,453.30 C440.09,454.75 440.37,457.57 441.10,457.70 C441.82,457.83 442.92,454.56 444.00,454.10 C444.61,453.84 445.88,454.74 446.20,455.50 C447.79,459.26 448.59,463.75 449.80,467.80 C450.73,470.91 451.19,474.46 452.70,477.20 C453.57,478.78 455.20,480.66 457.00,480.90 C465.86,482.11 475.76,481.61 485.00,481.60 C548.16,481.54 613.24,481.00 676.40,480.70" fill="none" stroke="#8aa8f0" stroke-width="0.9" stroke-linejoin="round" stroke-linecap="round"/>
<path d="M257.00,474.30 C264.59,474.33 272.41,474.41 280.00,474.40 C293.53,474.38 307.67,474.92 321.00,474.20 C322.29,474.13 323.25,471.98 324.30,472.00 C325.23,472.02 325.87,474.22 327.00,474.30 C334.81,474.88 343.35,473.99 351.40,474.00 C375.69,474.02 400.71,474.31 425.00,474.40 C426.72,474.41 429.23,475.25 430.20,474.30 C431.44,473.08 431.58,469.99 431.70,467.80 C432.53,453.03 432.18,436.63 433.10,422.90 C433.14,422.27 434.05,423.91 434.60,424.30 C435.73,425.10 436.92,426.50 438.20,426.50 C440.48,426.50 443.13,424.20 445.40,424.30 C446.96,424.37 448.25,426.34 449.80,427.00 C451.12,427.56 453.43,426.86 454.10,428.00 C456.30,431.71 457.62,437.06 458.50,441.70 C460.03,449.73 459.76,458.58 461.40,466.40 C461.67,467.69 463.18,468.67 464.30,469.30 C465.13,469.76 466.36,469.39 467.30,469.70 C470.38,470.71 473.48,473.13 476.50,473.30 C478.63,473.42 480.72,470.49 482.90,470.60 C487.39,470.82 492.06,473.91 496.70,474.30 C502.65,474.80 508.97,473.79 515.00,473.30 C524.09,472.57 533.43,471.50 542.50,470.60 C546.72,470.18 551.11,469.13 555.30,469.30 C558.54,469.43 561.86,470.58 565.00,471.50 C567.47,472.23 570.07,474.71 572.30,474.30 C574.93,473.82 577.17,470.48 579.70,468.80 C581.73,467.45 584.08,465.10 586.10,465.10 C587.71,465.10 588.99,468.32 590.70,468.80 C592.32,469.25 594.37,467.90 596.20,467.90 C600.11,467.90 604.31,467.96 608.10,468.80 C610.97,469.44 613.50,471.90 616.40,472.40 C622.28,473.42 628.65,473.30 634.70,473.40 C648.45,473.63 662.64,473.40 676.40,473.40" fill="none" stroke="#a690e6" stroke-width="0.9" stroke-linejoin="round" stroke-linecap="round"/>
<path d="M257.00,466.60 C264.59,467.06 272.44,468.11 280.00,468.00 C283.66,467.95 287.39,466.82 291.00,466.10 C296.46,465.01 302.02,462.83 307.50,462.50 C311.98,462.23 318.27,466.06 321.20,464.30 C323.81,462.73 323.12,453.11 324.30,452.40 C325.14,451.89 325.47,459.66 327.30,460.60 C329.01,461.48 332.52,457.62 335.00,457.90 C338.33,458.28 341.60,461.13 344.90,462.60 C348.10,464.03 351.29,466.16 354.70,466.70 C361.58,467.78 369.03,467.42 376.10,467.50 C392.23,467.68 408.89,467.80 425.00,467.50 C426.84,467.47 429.99,468.03 430.50,466.50 C432.47,460.60 431.92,452.10 432.50,445.00 C433.27,435.50 432.15,424.49 434.60,416.20 C435.29,413.86 439.50,413.03 442.00,412.80 C444.19,412.60 446.55,414.22 448.80,414.90 C451.01,415.57 453.52,415.86 455.50,416.90 C456.72,417.54 458.18,418.66 458.50,420.00 C459.83,425.62 459.78,432.07 460.50,438.00 C460.94,441.64 460.50,446.26 462.00,449.00 C462.74,450.35 466.11,449.15 467.30,450.40 C470.90,454.17 473.35,463.09 476.50,464.20 C478.49,464.90 480.36,456.19 482.90,455.90 C485.80,455.57 489.37,460.95 493.00,462.30 C497.55,463.99 502.84,465.10 507.70,465.10 C513.14,465.10 518.96,463.90 524.20,462.30 C529.85,460.57 535.45,457.74 540.70,455.00 C542.42,454.11 543.54,451.22 545.30,451.30 C549.87,451.51 555.02,454.76 559.90,455.90 C561.52,456.28 563.71,455.04 565.00,455.90 C567.80,457.77 570.35,465.05 572.30,464.20 C575.20,462.94 577.33,454.38 579.70,449.50 C581.88,445.01 583.86,436.92 586.10,435.80 C587.49,435.10 588.68,442.90 590.70,444.00 C592.02,444.72 594.61,440.81 596.20,441.30 C598.54,442.03 600.17,446.58 602.60,447.70 C604.10,448.39 606.51,446.27 608.10,446.80 C610.14,447.49 611.93,449.73 613.60,451.40 C615.86,453.66 618.02,458.35 620.00,458.70 C621.35,458.94 622.61,452.93 623.70,453.20 C625.05,453.53 625.57,458.73 627.40,460.50 C629.20,462.23 632.13,463.34 634.70,463.80 C640.58,464.86 646.95,464.98 653.00,465.10 C660.71,465.25 668.68,464.76 676.40,464.60" fill="none" stroke="#c383c6" stroke-width="0.9" stroke-linejoin="round" stroke-linecap="round"/>
<path d="M257.00,459.40 C264.59,459.50 272.48,460.23 280.00,459.70 C283.70,459.44 287.74,458.63 291.00,457.00 C294.40,455.30 296.85,451.29 300.20,449.60 C302.29,448.55 305.14,448.43 307.50,448.70 C310.55,449.05 313.57,450.68 316.60,451.50 C318.09,451.90 320.80,453.65 321.20,452.40 C323.34,445.76 322.98,430.17 324.30,427.60 C325.00,426.24 325.12,438.44 327.30,440.50 C328.65,441.77 332.59,437.41 335.00,437.70 C337.54,438.00 339.94,440.71 342.30,442.30 C344.89,444.04 347.93,445.54 350.00,447.80 C352.55,450.59 353.13,456.10 356.30,457.60 C361.74,460.16 369.53,459.69 376.10,460.10 C386.89,460.78 398.08,460.90 408.90,460.90 C414.22,460.90 419.71,460.57 425.00,460.10 C426.84,459.94 429.94,460.51 430.50,459.00 C432.41,453.87 431.98,446.28 432.50,440.00 C433.33,429.95 431.87,418.17 434.60,409.50 C435.47,406.75 440.74,405.40 443.40,405.40 C444.97,405.40 445.76,408.77 447.40,409.50 C449.75,410.55 452.98,410.01 455.50,410.80 C456.64,411.16 458.17,411.88 458.50,413.00 C459.82,417.56 459.84,423.05 460.50,428.00 C461.00,431.76 460.49,436.45 462.00,439.40 C462.74,440.84 466.08,439.99 467.30,441.30 C470.87,445.14 473.51,454.31 476.50,455.00 C478.66,455.50 480.30,445.18 482.90,444.90 C485.74,444.59 489.28,451.13 493.00,453.20 C497.47,455.68 502.72,458.27 507.70,458.70 C513.01,459.16 519.15,457.87 524.20,455.90 C530.04,453.62 535.62,449.56 540.70,445.80 C542.58,444.41 543.40,440.02 545.30,440.30 C549.74,440.95 554.98,446.98 559.90,448.60 C561.48,449.12 563.65,446.10 565.00,446.80 C567.74,448.21 570.47,456.03 572.30,455.00 C575.32,453.30 577.16,443.90 579.70,438.50 C581.71,434.23 583.98,426.41 586.10,425.70 C587.61,425.19 588.62,433.48 590.70,434.80 C591.95,435.59 594.48,431.83 596.20,432.10 C598.41,432.45 600.34,436.19 602.60,436.70 C604.27,437.08 606.40,434.52 608.10,434.80 C610.03,435.12 611.87,437.16 613.60,438.50 C615.80,440.20 618.89,445.21 620.00,444.00 C622.22,441.58 622.41,427.81 623.70,427.50 C624.85,427.22 625.41,437.71 627.40,442.20 C629.04,445.89 631.72,449.64 634.70,452.30 C637.16,454.49 640.71,455.86 643.90,456.90 C646.75,457.84 650.00,458.50 653.00,458.30 C660.72,457.78 668.68,455.89 676.40,454.70" fill="none" stroke="#d87a9e" stroke-width="0.9" stroke-linejoin="round" stroke-linecap="round"/>
<path d="M257.00,453.00 C264.59,453.10 272.54,454.05 280.00,453.30 C283.76,452.92 288.17,451.91 291.00,449.60 C294.84,446.46 296.55,440.22 300.20,436.80 C302.00,435.11 305.21,433.82 307.50,434.10 C310.03,434.41 312.37,437.15 314.80,438.60 C316.89,439.85 320.60,444.03 321.20,442.30 C323.74,434.99 322.99,414.36 324.30,411.20 C325.00,409.51 325.43,426.38 327.30,427.60 C328.66,428.49 331.46,418.70 334.10,417.60 C335.81,416.89 338.78,420.22 340.50,422.10 C344.03,425.96 347.31,430.48 350.00,435.00 C352.52,439.23 352.63,446.15 356.30,448.60 C361.24,451.89 369.49,451.78 376.10,452.40 C386.85,453.40 398.08,453.43 408.90,453.50 C414.22,453.53 419.75,453.31 425.00,452.70 C426.88,452.48 429.97,452.61 430.50,451.00 C432.44,445.11 431.93,436.94 432.50,430.00 C433.28,420.57 431.87,409.10 434.60,401.40 C435.46,398.97 440.65,399.17 443.40,399.30 C444.87,399.37 445.91,401.58 447.40,402.00 C449.91,402.70 453.00,402.02 455.50,402.70 C456.66,403.01 458.17,403.86 458.50,405.00 C459.82,409.57 459.79,415.06 460.50,420.00 C460.94,423.08 460.67,426.76 462.00,429.30 C462.91,431.05 466.04,431.32 467.30,433.00 C470.83,437.69 473.48,447.71 476.50,448.60 C478.62,449.23 480.33,437.74 482.90,437.60 C485.78,437.44 489.06,445.37 493.00,447.70 C497.25,450.22 502.77,452.02 507.70,452.30 C513.06,452.61 519.36,451.79 524.20,449.50 C530.25,446.64 535.64,441.30 540.70,436.70 C542.61,434.96 543.20,430.96 545.30,430.30 C548.01,429.45 552.69,430.48 555.30,432.10 C557.51,433.48 557.93,438.28 559.90,439.40 C561.13,440.10 563.81,436.72 565.00,437.60 C567.90,439.75 570.31,449.47 572.30,448.60 C575.16,447.36 577.29,436.96 579.70,431.20 C581.85,426.07 583.91,416.69 586.10,415.60 C587.54,414.88 588.66,424.08 590.70,425.70 C591.69,426.49 593.83,422.66 595.30,422.90 C597.46,423.25 599.49,427.15 601.70,427.50 C603.42,427.77 605.36,424.80 607.20,424.80 C609.29,424.80 611.69,426.28 613.60,427.50 C615.92,428.98 618.96,434.31 620.00,433.00 C622.30,430.09 622.39,415.18 623.70,414.70 C624.83,414.29 625.41,425.49 627.40,430.30 C629.04,434.26 631.73,438.24 634.70,441.30 C637.17,443.85 640.64,445.84 643.90,447.30 C646.68,448.55 650.06,449.72 653.00,449.50 C656.10,449.26 659.04,446.52 662.20,445.90 C666.76,445.00 671.71,445.23 676.40,444.90" fill="none" stroke="#e8707f" stroke-width="0.9" stroke-linejoin="round" stroke-linecap="round"/>
<path d="M257.00,444.30 C264.59,444.23 272.69,445.33 280.00,444.10 C283.91,443.44 288.37,441.46 291.00,438.60 C295.04,434.20 296.60,427.09 300.20,422.10 C302.05,419.53 304.87,416.39 307.50,415.70 C309.39,415.20 312.13,417.11 313.90,418.50 C316.36,420.44 319.17,426.76 320.30,425.80 C322.01,424.35 321.72,416.01 322.50,411.20 C323.24,406.64 323.77,399.03 324.90,397.40 C325.46,396.59 326.38,403.80 327.60,403.80 C329.08,403.80 330.91,398.49 333.10,397.40 C334.54,396.68 337.36,397.16 338.60,398.30 C340.99,400.49 342.47,404.36 344.10,407.50 C346.24,411.62 348.33,415.98 350.00,420.30 C350.74,422.22 350.49,424.57 351.40,426.40 C353.66,430.94 355.68,437.00 359.60,439.60 C363.84,442.41 370.62,441.93 376.10,442.80 C381.48,443.65 387.07,444.39 392.50,444.80 C397.89,445.21 403.49,445.40 408.90,445.30 C414.22,445.20 419.79,445.00 425.00,444.20 C426.91,443.91 429.98,443.69 430.50,442.00 C432.45,435.70 431.89,427.26 432.50,420.00 C433.24,411.16 432.14,400.13 434.60,393.20 C435.28,391.29 439.58,392.96 442.00,393.20 C444.27,393.42 446.53,394.36 448.80,394.60 C450.99,394.83 453.43,394.16 455.50,394.60 C456.54,394.82 457.87,395.59 458.20,396.60 C459.52,400.67 459.76,405.57 460.50,410.00 C461.01,413.07 460.62,416.87 462.00,419.30 C462.87,420.83 465.49,421.25 467.30,422.00 C469.06,422.73 471.99,422.28 472.80,423.80 C475.03,428.02 474.69,438.74 476.50,439.40 C478.02,439.96 480.37,427.50 482.90,427.50 C485.82,427.50 488.88,436.66 493.00,439.40 C497.06,442.10 502.79,443.86 507.70,444.00 C513.09,444.16 519.47,442.92 524.20,440.30 C530.36,436.88 535.57,430.80 540.70,425.70 C542.53,423.87 543.18,420.10 545.30,419.30 C548.00,418.28 552.81,418.65 555.30,420.20 C557.63,421.65 558.29,427.88 559.90,428.40 C561.03,428.77 562.62,423.07 563.60,422.90 C564.31,422.78 564.23,426.13 565.00,427.50 C567.10,431.27 570.36,439.27 572.30,438.50 C574.91,437.46 576.95,427.54 578.80,422.00 C579.98,418.46 580.08,414.39 581.50,411.00 C582.49,408.64 584.89,404.19 586.10,404.60 C587.63,405.11 587.89,412.28 589.80,413.80 C590.92,414.69 593.57,411.64 595.30,411.90 C597.50,412.23 599.56,415.44 601.70,415.60 C603.49,415.74 605.31,412.94 607.20,412.80 C609.24,412.65 611.52,414.70 613.60,414.70 C615.15,414.70 617.14,412.35 618.20,412.80 C619.25,413.24 619.55,418.21 620.00,417.40 C621.36,414.97 622.60,403.15 623.70,403.00 C624.72,402.86 624.77,412.32 626.40,416.50 C628.40,421.63 631.23,427.02 634.70,431.20 C637.00,433.98 640.63,435.96 643.90,437.60 C646.67,438.99 650.04,440.55 653.00,440.40 C656.08,440.25 659.22,438.04 662.20,436.70 C664.66,435.60 666.97,433.50 669.50,433.00 C671.65,432.58 674.12,433.60 676.40,433.90" fill="none" stroke="#f27a6e" stroke-width="0.9" stroke-linejoin="round" stroke-linecap="round"/>
<path d="M257.00,436.20 C264.59,436.10 272.44,436.26 280.00,435.90 C281.35,435.83 282.85,435.57 284.00,434.90 C286.48,433.46 289.24,431.76 291.00,429.50 C293.96,425.72 295.99,420.91 298.30,416.60 C300.85,411.84 302.94,406.59 305.70,402.00 C306.57,400.55 308.04,398.30 309.30,398.30 C310.74,398.30 312.67,400.53 313.90,402.00 C315.70,404.16 316.92,408.50 318.50,409.30 C319.33,409.72 320.86,407.12 321.20,405.70 C322.67,399.56 322.44,391.35 324.00,386.40 C324.26,385.58 325.73,388.06 326.70,388.20 C327.84,388.36 329.26,387.79 330.40,387.30 C332.00,386.61 333.37,385.08 335.00,384.60 C336.41,384.19 338.49,383.82 339.60,384.60 C341.49,385.93 342.59,388.90 344.10,391.00 C345.53,392.99 347.64,394.75 348.50,397.00 C350.05,401.02 350.14,405.80 351.40,410.00 C352.72,414.41 354.27,419.00 356.30,423.10 C357.54,425.60 358.97,428.68 361.30,430.00 C365.51,432.38 371.13,433.30 376.10,434.30 C381.43,435.38 387.07,435.84 392.50,436.30 C397.90,436.76 403.49,437.06 408.90,437.10 C412.56,437.13 416.42,437.12 420.00,436.50 C422.72,436.03 425.95,435.38 428.00,433.80 C429.58,432.58 430.72,430.11 431.00,428.00 C432.20,418.95 431.86,409.23 432.50,400.00 C432.81,395.53 432.82,390.60 433.90,386.50 C434.17,385.48 435.64,385.04 436.60,384.50 C437.65,383.91 438.95,383.00 440.00,383.10 C440.96,383.19 441.70,384.81 442.70,385.10 C443.71,385.40 445.01,384.74 446.10,384.90 C447.45,385.10 448.74,385.97 450.10,386.20 C451.84,386.50 453.78,386.16 455.50,386.50 C456.45,386.69 457.83,386.96 458.20,387.80 C459.41,390.52 459.83,394.13 460.30,397.30 C461.02,402.12 460.82,407.51 461.80,412.00 C461.94,412.63 463.12,412.95 463.70,412.80 C464.64,412.55 465.44,411.33 466.40,410.80 C467.42,410.24 469.06,408.94 469.70,409.50 C470.87,410.52 471.24,413.57 471.90,415.60 C473.48,420.43 474.69,427.83 476.50,430.30 C477.13,431.16 478.55,427.31 479.30,425.70 C480.67,422.75 481.20,418.22 482.90,416.50 C483.61,415.78 485.79,417.27 486.60,418.30 C489.12,421.49 490.44,426.06 493.00,429.30 C494.66,431.40 496.99,433.53 499.40,434.50 C501.84,435.48 505.01,435.46 507.70,435.20 C510.16,434.96 512.74,434.06 515.00,433.00 C518.18,431.52 521.17,429.32 524.20,427.50 C527.21,425.69 530.55,424.14 533.30,422.00 C535.99,419.91 538.36,417.20 540.70,414.70 C542.32,412.98 543.51,409.93 545.30,409.20 C546.51,408.71 548.27,410.86 549.80,411.00 C551.57,411.16 554.06,409.20 555.30,410.10 C557.39,411.61 558.29,417.78 559.90,418.30 C561.03,418.67 562.54,412.55 563.60,412.80 C564.88,413.11 565.72,417.71 567.00,420.00 C568.59,422.86 570.76,428.71 572.30,428.40 C574.06,428.05 575.87,421.57 577.00,418.00 C578.45,413.42 578.53,408.16 580.10,403.70 C580.68,402.05 582.48,400.96 583.50,399.50 C584.60,397.92 585.60,394.36 586.50,394.50 C587.51,394.66 588.11,398.64 589.30,400.40 C590.16,401.68 591.71,403.95 592.70,403.70 C593.96,403.39 594.99,398.70 596.10,398.70 C597.20,398.70 598.09,403.40 599.40,403.70 C600.57,403.96 602.09,400.70 603.60,400.40 C604.87,400.14 606.56,402.17 607.80,402.00 C608.77,401.87 609.47,400.32 610.30,399.50 C611.42,398.40 612.78,395.86 613.70,396.20 C614.99,396.68 615.85,400.13 617.00,402.00 C618.06,403.72 619.71,407.99 620.40,407.10 C622.06,404.95 622.92,393.10 624.10,392.80 C625.13,392.54 625.85,401.32 627.10,405.40 C628.49,409.90 629.36,415.20 632.10,418.80 C634.91,422.49 639.77,425.05 643.90,427.50 C646.67,429.14 650.11,431.48 653.00,431.20 C656.15,430.89 659.59,427.99 662.20,425.70 C664.44,423.73 665.44,419.61 667.70,418.30 C669.07,417.50 671.56,418.60 673.20,419.30 C674.43,419.82 675.34,421.11 676.40,422.00" fill="none" stroke="#f7955f" stroke-width="0.9" stroke-linejoin="round" stroke-linecap="round"/>
<text x="259.60" y="433.70" font-size="7.6" fill="#222" stroke="#222" stroke-width="0.1" text-anchor="start" font-weight="normal">60 min</text>
<text x="259.60" y="442.40" font-size="7.6" fill="#222" stroke="#222" stroke-width="0.1" text-anchor="start" font-weight="normal">40 min</text>
<text x="259.60" y="450.70" font-size="7.6" fill="#222" stroke="#222" stroke-width="0.1" text-anchor="start" font-weight="normal">30 min</text>
<text x="259.60" y="458.80" font-size="7.6" fill="#222" stroke="#222" stroke-width="0.1" text-anchor="start" font-weight="normal">25 min</text>
<text x="259.60" y="466.00" font-size="7.6" fill="#222" stroke="#222" stroke-width="0.1" text-anchor="start" font-weight="normal">20 min</text>
<text x="259.60" y="473.50" font-size="7.6" fill="#222" stroke="#222" stroke-width="0.1" text-anchor="start" font-weight="normal">15 min</text>
<text x="259.60" y="480.00" font-size="7.6" fill="#222" stroke="#222" stroke-width="0.1" text-anchor="start" font-weight="normal">10 min</text>
<text x="259.60" y="486.60" font-size="7.6" fill="#222" stroke="#222" stroke-width="0.1" text-anchor="start" font-weight="normal">0 min</text>
<line x1="265.00" y1="359.50" x2="265.00" y2="367.80" stroke="#444" stroke-width="1.0"/>
<line x1="262.60" y1="359.50" x2="267.40" y2="359.50" stroke="#444" stroke-width="1.0"/>
<line x1="262.60" y1="367.80" x2="267.40" y2="367.80" stroke="#444" stroke-width="1.0"/>
<text x="269.90" y="366.80" font-size="8.8" fill="#222" stroke="#222" stroke-width="0.1" text-anchor="start" font-weight="normal">0.2</text>
<text x="670.40" y="363.10" font-size="7.9" fill="#222" stroke="#222" stroke-width="0.1" text-anchor="end" font-weight="normal">NiFe<tspan font-size="4.90" dy="2.05">2</tspan><tspan dy="-2.05">&#8203;</tspan>O<tspan font-size="4.90" dy="2.05">4</tspan><tspan dy="-2.05">&#8203;</tspan>/Fe<tspan font-size="4.90" dy="2.05">2</tspan><tspan dy="-2.05">&#8203;</tspan>O<tspan font-size="4.90" dy="2.05">3</tspan><tspan dy="-2.05">&#8203;</tspan></text>
<rect x="428.50" y="376.60" width="33.80" height="113.40" fill="none" stroke="#ef3b3b" stroke-width="1.1" stroke-dasharray="2.6,2"/>
<text x="436.00" y="373.00" font-size="7.6" fill="#222" stroke="#222" stroke-width="0.1" text-anchor="start" font-weight="normal">CO<tspan font-size="4.71" dy="1.98">2</tspan><tspan dy="-1.98">&#8203;</tspan></text>
<text x="0.00" y="0.00" font-size="7.5" fill="#222" stroke="#222" stroke-width="0.1" text-anchor="start" font-weight="normal" transform="translate(304.30 364.20) scale(0.93 1)">C<tspan font-size="4.65" dy="1.95">2</tspan><tspan dy="-1.95">&#8203;</tspan>H<tspan font-size="4.65" dy="1.95">4</tspan><tspan dy="-1.95">&#8203;</tspan>O*</text>
<line x1="304.30" y1="366.50" x2="330.70" y2="366.50" stroke="#333" stroke-width="0.8" stroke-dasharray="2.6,1.8"/>
<line x1="330.70" y1="366.50" x2="330.70" y2="390.50" stroke="#333" stroke-width="0.8" stroke-dasharray="2.6,1.8"/>
<text x="0.00" y="0.00" font-size="7.5" fill="#222" stroke="#222" stroke-width="0.1" text-anchor="start" font-weight="normal" transform="translate(304.30 378.60) scale(0.93 1)">CH<tspan font-size="4.65" dy="1.95">4</tspan><tspan dy="-1.95">&#8203;</tspan></text>
<line x1="304.30" y1="381.40" x2="324.60" y2="381.40" stroke="#333" stroke-width="0.8" stroke-dasharray="2.6,1.8"/>
<line x1="324.60" y1="381.40" x2="324.60" y2="390.50" stroke="#333" stroke-width="0.8" stroke-dasharray="2.6,1.8"/>
<text x="0.00" y="0.00" font-size="7.5" fill="#222" stroke="#222" stroke-width="0.1" text-anchor="start" font-weight="normal" transform="translate(287.40 391.20) scale(0.93 1)">CH<tspan font-size="4.65" dy="1.95">4</tspan><tspan dy="-1.95">&#8203;</tspan></text>
<line x1="287.40" y1="394.60" x2="308.40" y2="394.60" stroke="#333" stroke-width="0.8" stroke-dasharray="2.6,1.8"/>
<line x1="308.40" y1="394.60" x2="308.40" y2="405.40" stroke="#333" stroke-width="0.8" stroke-dasharray="2.6,1.8"/>
<text x="0.00" y="0.00" font-size="7.5" fill="#222" stroke="#222" stroke-width="0.1" text-anchor="start" font-weight="normal" transform="translate(337.70 364.20) scale(0.93 1)">CH<tspan font-size="4.65" dy="1.95">3</tspan><tspan dy="-1.95">&#8203;</tspan>*</text>
<line x1="335.40" y1="366.90" x2="350.50" y2="366.90" stroke="#333" stroke-width="0.8" stroke-dasharray="2.6,1.8"/>
<line x1="335.40" y1="366.90" x2="335.40" y2="390.00" stroke="#333" stroke-width="0.8" stroke-dasharray="2.6,1.8"/>
<text x="0.00" y="0.00" font-size="7.5" fill="#222" stroke="#222" stroke-width="0.1" text-anchor="start" font-weight="normal" transform="translate(354.60 374.00) scale(0.93 1)">CH<tspan font-size="4.65" dy="1.95">2</tspan><tspan dy="-1.95">&#8203;</tspan>*</text>
<line x1="339.70" y1="376.40" x2="369.50" y2="376.40" stroke="#333" stroke-width="0.8" stroke-dasharray="2.6,1.8"/>
<line x1="339.70" y1="376.40" x2="339.70" y2="386.50" stroke="#333" stroke-width="0.8" stroke-dasharray="2.6,1.8"/>
<text x="0.00" y="0.00" font-size="7.5" fill="#222" stroke="#222" stroke-width="0.1" text-anchor="start" font-weight="normal" transform="translate(352.30 387.20) scale(0.93 1)">HCO*</text>
<line x1="347.40" y1="390.10" x2="369.90" y2="390.10" stroke="#333" stroke-width="0.8" stroke-dasharray="2.6,1.8"/>
<line x1="347.40" y1="390.10" x2="347.40" y2="399.30" stroke="#333" stroke-width="0.8" stroke-dasharray="2.6,1.8"/>
<text x="0.00" y="0.00" font-size="7.5" fill="#222" stroke="#222" stroke-width="0.1" text-anchor="start" font-weight="normal" transform="translate(476.90 393.00) scale(0.93 1)">CO<tspan font-size="4.65" dy="1.95">gas</tspan><tspan dy="-1.95">&#8203;</tspan></text>
<line x1="470.00" y1="397.40" x2="498.50" y2="397.40" stroke="#333" stroke-width="0.8" stroke-dasharray="2.6,1.8"/>
<line x1="470.00" y1="397.40" x2="470.00" y2="414.20" stroke="#333" stroke-width="0.8" stroke-dasharray="2.6,1.8"/>
<line x1="483.80" y1="397.40" x2="483.80" y2="420.50" stroke="#333" stroke-width="0.8" stroke-dasharray="2.6,1.8"/>
<text x="0.00" y="0.00" font-size="7.5" fill="#222" stroke="#222" stroke-width="0.1" text-anchor="start" font-weight="normal" transform="translate(496.70 423.50) scale(0.93 1)">CO<tspan font-size="4.65" dy="1.95">lin</tspan><tspan dy="-1.95">&#8203;</tspan></text>
<line x1="499.40" y1="427.10" x2="513.00" y2="427.10" stroke="#333" stroke-width="0.8" stroke-dasharray="2.6,1.8"/>
<line x1="499.40" y1="427.10" x2="499.40" y2="437.60" stroke="#333" stroke-width="0.8" stroke-dasharray="2.6,1.8"/>
<text x="0.00" y="0.00" font-size="7.5" fill="#222" stroke="#222" stroke-width="0.1" text-anchor="start" font-weight="normal" transform="translate(514.60 423.50) scale(0.93 1)">CO<tspan font-size="4.65" dy="1.95">bri</tspan><tspan dy="-1.95">&#8203;</tspan></text>
<line x1="515.90" y1="427.10" x2="530.60" y2="427.10" stroke="#333" stroke-width="0.8" stroke-dasharray="2.6,1.8"/>
<line x1="515.90" y1="427.10" x2="515.90" y2="435.70" stroke="#333" stroke-width="0.8" stroke-dasharray="2.6,1.8"/>
<text x="0.00" y="0.00" font-size="7.5" fill="#222" stroke="#222" stroke-width="0.1" text-anchor="start" font-weight="normal" transform="translate(520.20 386.60) scale(0.93 1)">HCOO*</text>
<line x1="520.20" y1="389.30" x2="612.80" y2="389.30" stroke="#333" stroke-width="0.8" stroke-dasharray="2.6,1.8"/>
<line x1="563.30" y1="389.30" x2="563.30" y2="420.00" stroke="#333" stroke-width="0.8" stroke-dasharray="2.6,1.8"/>
<line x1="612.80" y1="389.30" x2="612.80" y2="405.00" stroke="#333" stroke-width="0.8" stroke-dasharray="2.6,1.8"/>
<text x="0.00" y="0.00" font-size="7.5" fill="#222" stroke="#222" stroke-width="0.1" text-anchor="start" font-weight="normal" transform="translate(520.20 399.50) scale(0.93 1)">CH<tspan font-size="4.65" dy="1.95">3</tspan><tspan dy="-1.95">&#8203;</tspan>CHO*</text>
<line x1="520.20" y1="402.20" x2="555.90" y2="402.20" stroke="#333" stroke-width="0.8" stroke-dasharray="2.6,1.8"/>
<line x1="545.40" y1="402.20" x2="545.40" y2="414.20" stroke="#333" stroke-width="0.8" stroke-dasharray="2.6,1.8"/>
<line x1="555.90" y1="402.20" x2="555.90" y2="420.00" stroke="#333" stroke-width="0.8" stroke-dasharray="2.6,1.8"/>
<text x="0.00" y="0.00" font-size="7.5" fill="#222" stroke="#222" stroke-width="0.1" text-anchor="start" font-weight="normal" transform="translate(549.90 378.90) scale(0.93 1)">CH<tspan font-size="4.65" dy="1.95">3</tspan><tspan dy="-1.95">&#8203;</tspan>CHO*</text>
<line x1="549.90" y1="381.60" x2="581.80" y2="381.60" stroke="#333" stroke-width="0.8" stroke-dasharray="2.6,1.8"/>
<line x1="581.80" y1="381.60" x2="581.80" y2="406.20" stroke="#333" stroke-width="0.8" stroke-dasharray="2.6,1.8"/>
<text x="0.00" y="0.00" font-size="7.5" fill="#222" stroke="#222" stroke-width="0.1" text-anchor="start" font-weight="normal" transform="translate(551.90 364.80) scale(0.93 1)">CH<tspan font-size="4.65" dy="1.95">3</tspan><tspan dy="-1.95">&#8203;</tspan>COO*</text>
<line x1="551.90" y1="367.60" x2="586.50" y2="367.60" stroke="#333" stroke-width="0.8" stroke-dasharray="2.6,1.8"/>
<line x1="586.50" y1="367.60" x2="586.50" y2="398.70" stroke="#333" stroke-width="0.8" stroke-dasharray="2.6,1.8"/>
<text x="0.00" y="0.00" font-size="7.5" fill="#222" stroke="#222" stroke-width="0.1" text-anchor="start" font-weight="normal" transform="translate(592.70 379.90) scale(0.93 1)">CH<tspan font-size="4.65" dy="1.95">2</tspan><tspan dy="-1.95">&#8203;</tspan>*</text>
<line x1="596.10" y1="382.20" x2="601.10" y2="382.20" stroke="#333" stroke-width="0.8" stroke-dasharray="2.6,1.8"/>
<line x1="596.10" y1="382.20" x2="596.10" y2="405.40" stroke="#333" stroke-width="0.8" stroke-dasharray="2.6,1.8"/>
<text x="0.00" y="0.00" font-size="7.5" fill="#222" stroke="#222" stroke-width="0.1" text-anchor="start" font-weight="normal" transform="translate(619.10 373.50) scale(0.93 1)">C<tspan font-size="4.65" dy="1.95">2</tspan><tspan dy="-1.95">&#8203;</tspan>H<tspan font-size="4.65" dy="1.95">4</tspan><tspan dy="-1.95">&#8203;</tspan>O*</text>
<line x1="608.30" y1="376.90" x2="642.60" y2="376.90" stroke="#333" stroke-width="0.8" stroke-dasharray="2.6,1.8"/>
<line x1="608.30" y1="376.90" x2="608.30" y2="405.40" stroke="#333" stroke-width="0.8" stroke-dasharray="2.6,1.8"/>
<text x="0.00" y="0.00" font-size="7.5" fill="#222" stroke="#222" stroke-width="0.1" text-anchor="start" font-weight="normal" transform="translate(633.00 386.60) scale(0.93 1)">CH<tspan font-size="4.65" dy="1.95">4</tspan><tspan dy="-1.95">&#8203;</tspan></text>
<line x1="624.60" y1="388.60" x2="645.20" y2="388.60" stroke="#333" stroke-width="0.8" stroke-dasharray="2.6,1.8"/>
<line x1="624.60" y1="388.60" x2="624.60" y2="398.70" stroke="#333" stroke-width="0.8" stroke-dasharray="2.6,1.8"/>
<text x="0.00" y="0.00" font-size="7.5" fill="#222" stroke="#222" stroke-width="0.1" text-anchor="start" font-weight="normal" transform="translate(633.80 407.10) scale(0.93 1)">CH<tspan font-size="4.65" dy="1.95">3</tspan><tspan dy="-1.95">&#8203;</tspan>CH<tspan font-size="4.65" dy="1.95">2</tspan><tspan dy="-1.95">&#8203;</tspan>OH</text>
<line x1="633.80" y1="410.40" x2="668.70" y2="410.40" stroke="#333" stroke-width="0.8" stroke-dasharray="2.6,1.8"/>
<line x1="668.70" y1="410.40" x2="668.70" y2="420.00" stroke="#333" stroke-width="0.8" stroke-dasharray="2.6,1.8"/>
</svg></body></html>
